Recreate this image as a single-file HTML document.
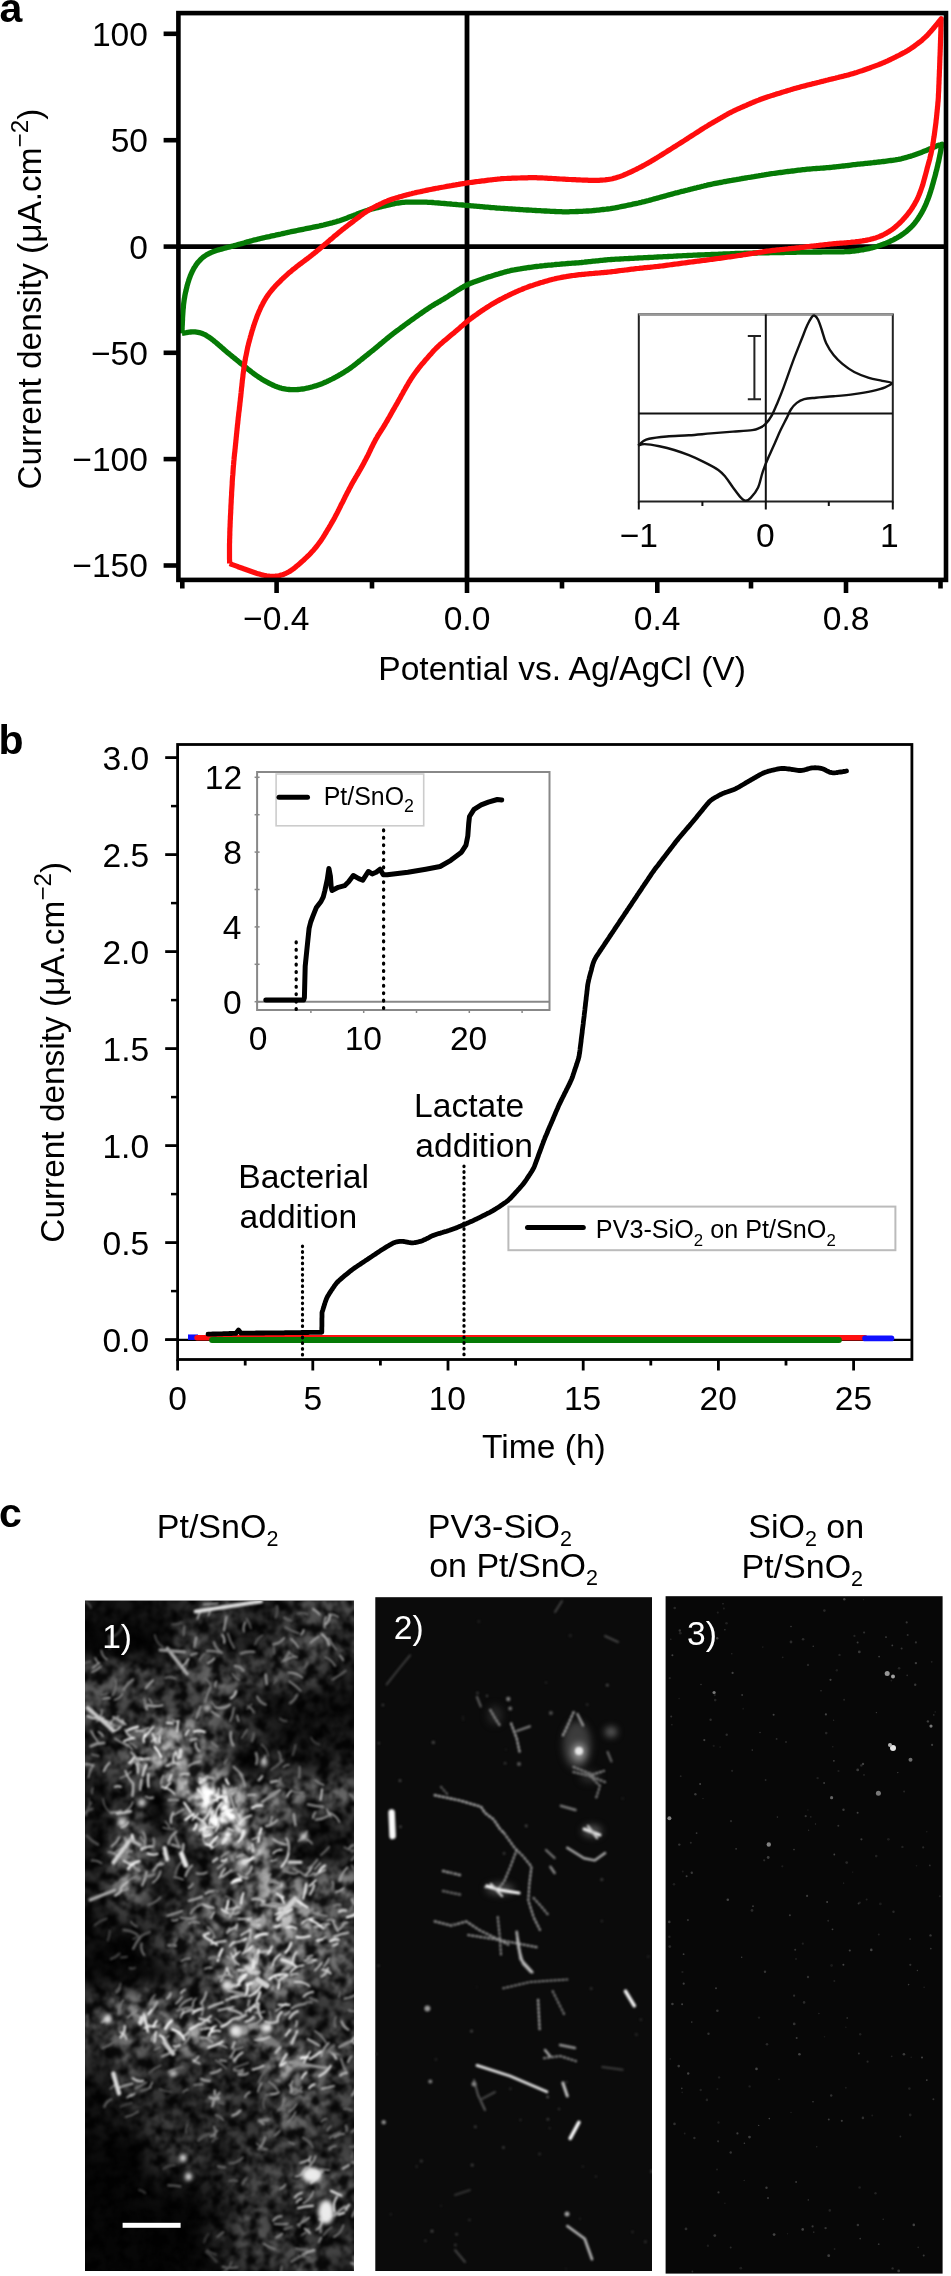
<!DOCTYPE html>
<html><head><meta charset="utf-8"><style>
html,body{margin:0;padding:0;background:#fff;}
body{width:951px;height:2276px;overflow:hidden;position:relative;}
svg{position:absolute;left:0;top:0;display:block;will-change:transform;}
</style></head><body>
<svg width="951" height="2276" viewBox="0 0 951 2276">
<text x="-0.60" y="21.80" font-size="41.0" font-weight="bold" font-family="Liberation Sans, sans-serif">a</text>
<line x1="163.6" y1="33.8" x2="178.4" y2="33.8" stroke="#000" stroke-width="4.6"/>
<text x="91.95" y="45.70" font-size="33.6" font-family="Liberation Sans, sans-serif">100</text>
<line x1="163.6" y1="140.2" x2="178.4" y2="140.2" stroke="#000" stroke-width="4.6"/>
<text x="110.64" y="152.10" font-size="33.6" font-family="Liberation Sans, sans-serif">50</text>
<line x1="163.6" y1="246.6" x2="178.4" y2="246.6" stroke="#000" stroke-width="4.6"/>
<text x="129.33" y="258.50" font-size="33.6" font-family="Liberation Sans, sans-serif">0</text>
<line x1="163.6" y1="352.8" x2="178.4" y2="352.8" stroke="#000" stroke-width="4.6"/>
<text x="91.02" y="364.70" font-size="33.6" font-family="Liberation Sans, sans-serif">−50</text>
<line x1="163.6" y1="459.1" x2="178.4" y2="459.1" stroke="#000" stroke-width="4.6"/>
<text x="72.33" y="471.00" font-size="33.6" font-family="Liberation Sans, sans-serif">−100</text>
<line x1="163.6" y1="565.5" x2="178.4" y2="565.5" stroke="#000" stroke-width="4.6"/>
<text x="72.33" y="577.40" font-size="33.6" font-family="Liberation Sans, sans-serif">−150</text>
<line x1="182.3" y1="579.9" x2="182.3" y2="588.5" stroke="#000" stroke-width="4.6"/>
<line x1="276.6" y1="579.9" x2="276.6" y2="593.0" stroke="#000" stroke-width="4.6"/>
<line x1="372.0" y1="579.9" x2="372.0" y2="588.5" stroke="#000" stroke-width="4.6"/>
<line x1="467.0" y1="579.9" x2="467.0" y2="593.0" stroke="#000" stroke-width="4.6"/>
<line x1="562.0" y1="579.9" x2="562.0" y2="588.5" stroke="#000" stroke-width="4.6"/>
<line x1="657.3" y1="579.9" x2="657.3" y2="593.0" stroke="#000" stroke-width="4.6"/>
<line x1="751.0" y1="579.9" x2="751.0" y2="588.5" stroke="#000" stroke-width="4.6"/>
<line x1="846.0" y1="579.9" x2="846.0" y2="593.0" stroke="#000" stroke-width="4.6"/>
<line x1="940.5" y1="579.9" x2="940.5" y2="588.5" stroke="#000" stroke-width="4.6"/>
<text x="243.10" y="630.30" font-size="33.6" font-family="Liberation Sans, sans-serif">−0.4</text>
<text x="443.65" y="630.30" font-size="33.6" font-family="Liberation Sans, sans-serif">0.0</text>
<text x="633.78" y="630.30" font-size="33.6" font-family="Liberation Sans, sans-serif">0.4</text>
<text x="822.72" y="630.30" font-size="33.6" font-family="Liberation Sans, sans-serif">0.8</text>
<text x="378.24" y="679.70" font-size="33.6" font-family="Liberation Sans, sans-serif">Potential vs. Ag/AgCl (V)</text>
<text transform="translate(41.00,489.58) rotate(-90)" font-size="33.4" font-family="Liberation Sans, sans-serif">Current density (μA.cm<tspan dy="-12.9" font-size="24.3">−2</tspan><tspan dy="12.9">)</tspan></text>
<line x1="178.4" y1="246.6" x2="946.0" y2="246.6" stroke="#000" stroke-width="4.8"/>
<line x1="467.0" y1="13.1" x2="467.0" y2="579.9" stroke="#000" stroke-width="4.8"/>
<rect x="638.8" y="314.4" width="254.0" height="187.1" fill="none" stroke="#222" stroke-width="2"/>
<line x1="638.8" y1="314.4" x2="892.8" y2="314.4" stroke="#999" stroke-width="2"/>
<line x1="638.8" y1="413.6" x2="892.8" y2="413.6" stroke="#111" stroke-width="2"/>
<line x1="765.8" y1="314.4" x2="765.8" y2="501.5" stroke="#111" stroke-width="2"/>
<line x1="638.8" y1="501.5" x2="638.8" y2="509.5" stroke="#111" stroke-width="2"/>
<line x1="702.4" y1="501.5" x2="702.4" y2="506.0" stroke="#111" stroke-width="2"/>
<line x1="765.8" y1="501.5" x2="765.8" y2="509.5" stroke="#111" stroke-width="2"/>
<line x1="828.8" y1="501.5" x2="828.8" y2="506.0" stroke="#111" stroke-width="2"/>
<line x1="892.8" y1="501.5" x2="892.8" y2="509.5" stroke="#111" stroke-width="2"/>
<path d="M754.4,335.9 V399.2 M747.8,335.9 H761 M747.8,399.2 H761" stroke="#222" stroke-width="2" fill="none"/>
<path d="M638.1,445.6C639.0,444.9 641.4,442.4 643.2,441.2C645.0,440.0 645.2,439.5 649.1,438.7C653.0,437.9 660.2,437.1 666.8,436.5C673.4,435.9 681.5,435.8 688.9,435.3C696.3,434.8 703.6,434.0 711.0,433.4C718.4,432.8 726.1,432.2 733.0,431.6C739.9,431.1 747.8,430.7 752.2,430.1C756.6,429.5 757.3,428.9 759.5,427.9C761.7,426.9 763.4,426.3 765.4,424.2C767.4,422.1 769.8,419.1 771.8,415.4C773.8,411.7 775.7,406.9 777.7,402.2C779.7,397.5 781.7,392.6 783.6,387.4C785.5,382.2 787.5,376.6 789.4,371.2C791.3,365.8 793.3,360.2 795.3,355.1C797.3,350.0 799.2,345.2 801.2,340.3C803.2,335.4 805.4,329.4 807.1,325.6C808.8,321.8 810.3,319.2 811.5,317.5C812.7,315.8 813.4,315.2 814.5,315.6C815.6,316.0 816.9,317.3 818.1,319.7C819.3,322.1 820.4,326.1 821.8,330.0C823.1,333.9 824.2,339.1 826.2,343.3C828.2,347.5 830.9,351.7 833.6,355.1C836.3,358.5 839.0,361.1 842.4,363.9C845.8,366.7 849.8,369.7 854.2,372.0C858.6,374.3 864.2,376.4 868.9,377.9C873.6,379.4 878.4,379.9 882.2,380.8C886.0,381.7 891.3,381.9 891.8,383.0C892.3,384.1 888.4,386.0 885.1,387.4C881.8,388.8 877.0,390.0 871.9,391.1C866.8,392.2 860.6,393.2 854.2,394.1C847.8,395.0 840.0,395.7 833.6,396.3C827.2,396.9 820.8,397.2 815.9,397.7C811.0,398.2 807.4,398.3 804.2,399.2C801.0,400.1 799.0,401.2 796.8,402.9C794.6,404.6 792.6,406.9 790.9,409.5C789.2,412.1 788.2,415.0 786.5,418.4C784.8,421.8 782.6,425.9 780.6,430.1C778.6,434.3 776.7,439.0 774.7,443.4C772.7,447.8 770.8,452.0 768.8,456.6C766.8,461.2 764.7,466.2 762.9,471.3C761.1,476.4 760.1,483.1 758.1,487.5C756.1,491.9 752.8,495.6 750.7,497.8C748.6,500.0 747.3,500.9 745.6,500.8C743.9,500.7 742.5,499.3 740.4,497.1C738.3,494.9 735.5,490.8 733.0,487.5C730.5,484.2 728.2,480.1 725.7,477.2C723.2,474.3 722.0,472.5 718.3,469.9C714.6,467.3 708.5,464.2 703.6,461.8C698.7,459.4 693.8,457.2 688.9,455.2C684.0,453.2 679.1,451.5 674.2,450.0C669.3,448.5 664.3,447.3 659.4,446.3C654.5,445.3 648.2,444.2 644.7,444.1C641.2,444.0 639.2,445.4 638.1,445.6" fill="none" stroke="#111" stroke-width="2.4" stroke-linejoin="round"/>
<text x="619.64" y="546.50" font-size="33.6" font-family="Liberation Sans, sans-serif">−1</text>
<text x="756.06" y="546.50" font-size="33.6" font-family="Liberation Sans, sans-serif">0</text>
<text x="879.95" y="546.50" font-size="33.6" font-family="Liberation Sans, sans-serif">1</text>
<path d="M181.9,333.4 182.0,331.9 182.0,330.4 182.1,328.9 182.1,327.4 182.2,325.9 182.3,324.4 182.3,322.9 182.4,321.4 182.5,319.9 182.5,318.4 182.6,316.9 182.7,315.4 182.8,313.9 182.9,312.4 183.0,310.9 183.1,309.4 183.3,307.9 183.4,306.4 183.5,305.0 183.7,303.5 183.9,302.0 184.1,300.5 184.3,299.0 184.6,297.5 184.8,296.1 185.1,294.6 185.4,293.1 185.7,291.7 186.1,290.2 186.4,288.7 186.8,287.3 187.1,285.8 187.5,284.4 187.9,283.0 188.4,281.5 188.8,280.1 189.3,278.7 189.8,277.3 190.3,275.9 190.9,274.5 191.5,273.1 192.1,271.8 192.8,270.4 193.5,269.1 194.2,267.8 195.0,266.6 195.8,265.3 196.6,264.1 197.5,262.9 198.5,261.8 199.5,260.7 200.5,259.6 201.5,258.6 202.6,257.6 203.8,256.7 205.0,255.9 206.2,255.1 207.5,254.3 208.8,253.6 210.1,253.0 211.5,252.4 212.9,251.8 214.3,251.3 215.7,250.8 217.1,250.3 218.5,249.9 220.0,249.5 221.4,249.1 222.9,248.7 224.3,248.3 225.8,247.9 227.2,247.5 228.7,247.1 230.1,246.8 231.5,246.4 233.0,246.0 234.4,245.6 235.9,245.2 237.3,244.8 238.8,244.4 240.2,244.0 241.7,243.6 243.1,243.2 244.6,242.8 246.0,242.3 247.4,241.9 248.9,241.5 250.3,241.1 251.8,240.7 253.2,240.3 254.7,239.9 256.1,239.6 257.6,239.2 259.0,238.9 260.5,238.5 262.0,238.2 263.4,237.8 264.9,237.5 266.3,237.2 267.8,236.9 269.3,236.6 270.7,236.2 272.2,235.9 273.7,235.6 275.1,235.3 276.6,234.9 278.1,234.6 279.5,234.3 281.0,234.0 282.5,233.6 283.9,233.3 285.4,233.0 286.9,232.7 288.3,232.3 289.8,232.0 291.2,231.7 292.7,231.4 294.2,231.1 295.6,230.8 297.1,230.5 298.6,230.2 300.1,229.9 301.5,229.6 303.0,229.3 304.5,229.0 305.9,228.7 307.4,228.4 308.9,228.1 310.4,227.8 311.8,227.5 313.3,227.2 314.8,226.9 316.2,226.6 317.7,226.3 319.2,226.0 320.6,225.6 322.1,225.3 323.5,225.0 325.0,224.6 326.5,224.2 327.9,223.9 329.4,223.5 330.8,223.1 332.3,222.8 333.7,222.4 335.2,222.0 336.6,221.6 338.0,221.1 339.5,220.7 340.9,220.2 342.3,219.7 343.7,219.2 345.1,218.7 346.5,218.2 347.9,217.6 349.3,217.1 350.7,216.6 352.1,216.0 353.5,215.5 354.9,214.9 356.3,214.4 357.7,213.8 359.1,213.3 360.5,212.7 361.9,212.2 363.3,211.7 364.7,211.2 366.1,210.7 367.6,210.3 369.0,209.8 370.4,209.4 371.9,209.0 373.3,208.6 374.8,208.3 376.2,207.9 377.7,207.6 379.2,207.2 380.6,206.9 382.1,206.5 383.5,206.2 385.0,205.8 386.5,205.5 387.9,205.2 389.4,204.8 390.8,204.5 392.3,204.2 393.8,203.8 395.2,203.5 396.7,203.2 398.2,203.0 399.6,202.8 401.1,202.6 402.6,202.4 404.1,202.3 405.6,202.2 407.1,202.2 408.6,202.1 410.1,202.1 411.6,202.1 413.1,202.1 414.6,202.1 416.1,202.1 417.6,202.1 419.1,202.1 420.6,202.1 422.1,202.1 423.6,202.2 425.1,202.2 426.6,202.2 428.0,202.3 429.5,202.4 431.0,202.4 432.5,202.5 434.0,202.7 435.5,202.8 437.0,202.9 438.5,203.0 440.0,203.1 441.5,203.3 443.0,203.4 444.5,203.5 446.0,203.6 447.5,203.8 449.0,203.9 450.5,204.0 452.0,204.2 453.5,204.3 455.0,204.4 456.5,204.5 457.9,204.7 459.4,204.8 460.9,204.9 462.4,205.0 463.9,205.2 465.4,205.3 466.9,205.4 468.4,205.6 469.9,205.7 471.4,205.8 472.9,205.9 474.4,206.1 475.9,206.2 477.4,206.3 478.9,206.4 480.4,206.6 481.9,206.7 483.4,206.8 484.9,207.0 486.3,207.1 487.8,207.2 489.3,207.3 490.8,207.5 492.3,207.6 493.8,207.7 495.3,207.8 496.8,208.0 498.3,208.1 499.8,208.2 501.3,208.3 502.8,208.4 504.3,208.5 505.8,208.6 507.3,208.7 508.8,208.8 510.3,208.9 511.8,209.0 513.3,209.1 514.8,209.2 516.3,209.3 517.8,209.4 519.3,209.5 520.8,209.6 522.3,209.7 523.7,209.8 525.2,209.9 526.7,210.0 528.2,210.0 529.7,210.1 531.2,210.2 532.7,210.3 534.2,210.4 535.7,210.5 537.2,210.6 538.7,210.7 540.2,210.7 541.7,210.8 543.2,210.9 544.7,211.0 546.2,211.0 547.7,211.1 549.2,211.2 550.7,211.3 552.2,211.3 553.7,211.4 555.2,211.5 556.7,211.6 558.2,211.6 559.7,211.7 561.2,211.7 562.7,211.8 564.2,211.8 565.7,211.8 567.2,211.8 568.7,211.8 570.2,211.7 571.7,211.7 573.2,211.6 574.7,211.6 576.2,211.5 577.7,211.5 579.2,211.4 580.7,211.3 582.2,211.3 583.7,211.2 585.2,211.1 586.7,211.0 588.2,211.0 589.7,210.9 591.2,210.8 592.7,210.6 594.1,210.5 595.6,210.4 597.1,210.2 598.6,210.1 600.1,209.9 601.6,209.7 603.1,209.5 604.6,209.3 606.1,209.2 607.6,209.0 609.0,208.8 610.5,208.6 612.0,208.3 613.5,208.1 615.0,207.9 616.4,207.6 617.9,207.3 619.4,207.0 620.9,206.7 622.3,206.4 623.8,206.1 625.3,205.8 626.7,205.5 628.2,205.2 629.7,204.9 631.1,204.6 632.6,204.2 634.1,203.9 635.5,203.6 637.0,203.3 638.4,203.0 639.9,202.6 641.4,202.3 642.8,201.9 644.3,201.6 645.7,201.2 647.2,200.8 648.6,200.5 650.1,200.1 651.5,199.7 653.0,199.3 654.4,198.9 655.9,198.5 657.3,198.1 658.8,197.7 660.2,197.3 661.7,196.9 663.1,196.5 664.6,196.1 666.0,195.7 667.4,195.3 668.9,194.9 670.3,194.5 671.8,194.1 673.2,193.7 674.7,193.3 676.1,192.9 677.6,192.6 679.0,192.2 680.5,191.8 681.9,191.4 683.4,191.1 684.8,190.7 686.3,190.3 687.8,190.0 689.2,189.6 690.7,189.2 692.1,188.9 693.6,188.5 695.0,188.1 696.5,187.8 697.9,187.4 699.4,187.1 700.9,186.7 702.3,186.3 703.8,186.0 705.2,185.6 706.7,185.3 708.1,184.9 709.6,184.6 711.1,184.3 712.5,184.0 714.0,183.7 715.5,183.4 717.0,183.1 718.4,182.8 719.9,182.5 721.4,182.3 722.8,182.0 724.3,181.7 725.8,181.5 727.3,181.2 728.8,180.9 730.2,180.6 731.7,180.4 733.2,180.1 734.7,179.8 736.1,179.6 737.6,179.3 739.1,179.1 740.6,178.8 742.0,178.5 743.5,178.3 745.0,178.0 746.5,177.8 748.0,177.5 749.4,177.3 750.9,177.1 752.4,176.8 753.9,176.6 755.4,176.3 756.8,176.1 758.3,175.9 759.8,175.6 761.3,175.4 762.8,175.1 764.2,174.9 765.7,174.6 767.2,174.4 768.7,174.2 770.2,173.9 771.7,173.7 773.1,173.5 774.6,173.3 776.1,173.1 777.6,172.9 779.1,172.7 780.6,172.5 782.1,172.3 783.5,172.1 785.0,171.9 786.5,171.7 788.0,171.5 789.5,171.4 791.0,171.2 792.5,171.0 794.0,170.8 795.4,170.6 796.9,170.4 798.4,170.2 799.9,170.1 801.4,169.9 802.9,169.7 804.4,169.6 805.9,169.4 807.4,169.2 808.9,169.1 810.4,169.0 811.8,168.8 813.3,168.7 814.8,168.6 816.3,168.5 817.8,168.4 819.3,168.3 820.8,168.2 822.3,168.1 823.8,168.0 825.3,167.9 826.8,167.7 828.3,167.6 829.8,167.5 831.3,167.4 832.8,167.2 834.3,167.0 835.8,166.9 837.3,166.7 838.7,166.5 840.2,166.4 841.7,166.2 843.2,166.0 844.7,165.8 846.2,165.6 847.7,165.5 849.2,165.3 850.7,165.1 852.1,164.9 853.6,164.7 855.1,164.6 856.6,164.4 858.1,164.2 859.6,164.1 861.1,163.9 862.6,163.8 864.1,163.6 865.6,163.4 867.1,163.3 868.5,163.1 870.0,163.0 871.5,162.8 873.0,162.7 874.5,162.5 876.0,162.4 877.5,162.2 879.0,162.0 880.5,161.9 882.0,161.7 883.5,161.5 884.9,161.3 886.4,161.1 887.9,160.9 889.4,160.7 890.9,160.5 892.4,160.3 893.9,160.1 895.3,159.9 896.8,159.6 898.3,159.4 899.8,159.1 901.2,158.8 902.7,158.4 904.1,158.0 905.6,157.6 907.0,157.2 908.4,156.8 909.9,156.4 911.3,155.9 912.7,155.5 914.2,155.0 915.6,154.5 917.0,154.0 918.4,153.5 919.8,153.0 921.2,152.5 922.6,151.9 924.0,151.3 925.4,150.8 926.8,150.2 928.1,149.6 929.5,149.0 930.9,148.4 932.2,147.8 933.6,147.2 935.0,146.7 936.4,146.1 937.8,145.6 939.2,145.1 940.6,144.7 942.0,144.2 941.7,145.7 941.4,147.1 941.1,148.6 940.9,150.1 940.6,151.6 940.3,153.0 940.0,154.5 939.7,156.0 939.4,157.5 939.1,158.9 938.8,160.4 938.5,161.9 938.1,163.3 937.8,164.8 937.5,166.2 937.1,167.7 936.8,169.2 936.4,170.6 936.0,172.1 935.7,173.5 935.3,175.0 934.9,176.4 934.5,177.9 934.1,179.3 933.7,180.8 933.3,182.2 932.9,183.7 932.5,185.1 932.1,186.5 931.7,188.0 931.2,189.4 930.8,190.9 930.3,192.3 929.9,193.7 929.4,195.1 928.9,196.5 928.4,198.0 927.9,199.4 927.3,200.7 926.7,202.1 926.2,203.5 925.6,204.9 925.0,206.3 924.3,207.6 923.7,209.0 923.0,210.3 922.3,211.6 921.6,212.9 920.8,214.2 920.0,215.5 919.2,216.7 918.4,218.0 917.6,219.2 916.7,220.5 915.8,221.7 914.9,222.9 914.0,224.0 913.0,225.1 912.0,226.2 911.0,227.3 909.9,228.3 908.8,229.3 907.7,230.3 906.6,231.3 905.4,232.2 904.2,233.1 903.0,234.0 901.8,234.8 900.5,235.7 899.3,236.5 898.0,237.2 896.7,238.0 895.4,238.7 894.1,239.4 892.7,240.1 891.4,240.7 890.0,241.4 888.7,242.0 887.3,242.6 885.9,243.2 884.5,243.7 883.1,244.3 881.7,244.8 880.3,245.3 878.9,245.7 877.5,246.2 876.0,246.6 874.6,247.1 873.2,247.5 871.7,247.9 870.3,248.2 868.8,248.6 867.3,248.9 865.9,249.2 864.4,249.5 862.9,249.8 861.5,250.0 860.0,250.2 858.5,250.5 857.0,250.7 855.5,250.9 854.0,251.1 852.6,251.2 851.1,251.4 849.6,251.5 848.1,251.6 846.6,251.7 845.1,251.7 843.6,251.8 842.1,251.8 840.6,251.8 839.1,251.8 837.6,251.8 836.1,251.8 834.6,251.8 833.1,251.8 831.6,251.8 830.1,251.9 828.6,251.9 827.1,251.9 825.6,251.9 824.1,251.9 822.6,251.9 821.1,252.0 819.6,252.0 818.1,252.0 816.6,252.0 815.1,252.0 813.6,252.0 812.1,252.1 810.6,252.1 809.1,252.1 807.6,252.1 806.1,252.1 804.6,252.1 803.1,252.2 801.6,252.2 800.1,252.2 798.6,252.2 797.1,252.2 795.6,252.3 794.1,252.3 792.6,252.3 791.1,252.3 789.6,252.4 788.1,252.4 786.6,252.4 785.1,252.4 783.6,252.5 782.1,252.5 780.6,252.5 779.1,252.6 777.6,252.6 776.1,252.6 774.6,252.6 773.1,252.7 771.6,252.7 770.1,252.7 768.6,252.8 767.1,252.8 765.6,252.8 764.1,252.8 762.6,252.9 761.1,252.9 759.6,252.9 758.1,252.9 756.6,253.0 755.1,253.0 753.6,253.0 752.1,253.1 750.6,253.1 749.1,253.1 747.6,253.2 746.1,253.2 744.6,253.2 743.1,253.3 741.6,253.3 740.1,253.4 738.6,253.4 737.1,253.5 735.6,253.5 734.1,253.6 732.6,253.7 731.1,253.7 729.6,253.8 728.1,253.8 726.6,253.9 725.1,254.0 723.6,254.0 722.1,254.1 720.6,254.1 719.1,254.2 717.6,254.3 716.1,254.3 714.6,254.4 713.1,254.4 711.6,254.5 710.1,254.6 708.6,254.6 707.1,254.7 705.6,254.7 704.1,254.8 702.6,254.9 701.1,254.9 699.6,255.0 698.1,255.0 696.6,255.1 695.1,255.2 693.6,255.2 692.1,255.3 690.6,255.4 689.1,255.4 687.6,255.5 686.1,255.6 684.6,255.6 683.1,255.7 681.6,255.8 680.1,255.9 678.6,255.9 677.1,256.0 675.6,256.1 674.1,256.2 672.6,256.3 671.1,256.3 669.6,256.4 668.1,256.5 666.6,256.6 665.1,256.6 663.6,256.7 662.1,256.8 660.6,256.9 659.1,256.9 657.6,257.0 656.1,257.1 654.6,257.2 653.1,257.3 651.6,257.3 650.1,257.4 648.6,257.5 647.1,257.6 645.6,257.6 644.1,257.7 642.6,257.8 641.1,257.9 639.6,257.9 638.1,258.0 636.6,258.1 635.1,258.2 633.6,258.3 632.1,258.3 630.6,258.4 629.1,258.5 627.6,258.6 626.1,258.7 624.6,258.7 623.1,258.8 621.6,258.9 620.1,259.0 618.6,259.1 617.1,259.2 615.6,259.2 614.1,259.3 612.7,259.4 611.2,259.5 609.7,259.6 608.2,259.7 606.7,259.9 605.2,260.0 603.7,260.1 602.2,260.3 600.7,260.4 599.2,260.6 597.7,260.8 596.2,260.9 594.7,261.1 593.2,261.2 591.7,261.4 590.2,261.6 588.8,261.7 587.3,261.9 585.8,262.0 584.3,262.2 582.8,262.3 581.3,262.5 579.8,262.6 578.3,262.8 576.8,262.9 575.3,263.0 573.8,263.1 572.3,263.2 570.8,263.3 569.3,263.4 567.8,263.5 566.3,263.6 564.8,263.8 563.3,263.9 561.8,264.0 560.4,264.1 558.9,264.3 557.4,264.4 555.9,264.5 554.4,264.7 552.9,264.8 551.4,265.0 549.9,265.1 548.4,265.2 546.9,265.4 545.4,265.5 543.9,265.7 542.4,265.8 540.9,266.0 539.4,266.2 538.0,266.3 536.5,266.5 535.0,266.7 533.5,266.9 532.0,267.1 530.5,267.3 529.0,267.5 527.5,267.7 526.1,268.0 524.6,268.2 523.1,268.4 521.6,268.6 520.1,268.9 518.6,269.1 517.2,269.3 515.7,269.6 514.2,269.9 512.7,270.1 511.3,270.4 509.8,270.8 508.4,271.1 506.9,271.5 505.5,271.9 504.0,272.3 502.6,272.7 501.1,273.1 499.7,273.5 498.3,274.0 496.8,274.4 495.4,274.8 494.0,275.3 492.5,275.7 491.1,276.2 489.6,276.6 488.2,277.0 486.8,277.5 485.4,278.0 483.9,278.4 482.5,278.9 481.1,279.4 479.7,279.9 478.3,280.4 476.9,280.9 475.4,281.4 474.0,281.9 472.6,282.5 471.3,283.0 469.9,283.6 468.5,284.2 467.2,284.9 465.8,285.5 464.5,286.2 463.2,286.9 461.9,287.7 460.6,288.4 459.3,289.2 458.0,290.0 456.7,290.8 455.5,291.5 454.2,292.4 452.9,293.2 451.7,294.0 450.4,294.8 449.1,295.6 447.9,296.4 446.6,297.2 445.3,298.0 444.1,298.8 442.8,299.5 441.5,300.3 440.2,301.1 438.9,301.8 437.6,302.6 436.3,303.3 435.0,304.1 433.7,304.9 432.4,305.6 431.2,306.4 429.9,307.3 428.7,308.1 427.4,308.9 426.2,309.8 424.9,310.6 423.7,311.5 422.5,312.3 421.2,313.2 420.0,314.0 418.8,314.9 417.6,315.7 416.3,316.6 415.1,317.5 413.9,318.4 412.7,319.2 411.4,320.1 410.2,321.0 409.0,321.9 407.8,322.8 406.6,323.6 405.4,324.5 404.2,325.4 403.0,326.3 401.8,327.2 400.6,328.1 399.4,329.0 398.2,329.9 396.9,330.8 395.7,331.7 394.5,332.6 393.3,333.5 392.2,334.4 391.0,335.3 389.8,336.3 388.6,337.2 387.5,338.2 386.3,339.1 385.2,340.1 384.0,341.0 382.9,342.0 381.7,343.0 380.6,343.9 379.4,344.9 378.3,345.9 377.1,346.8 376.0,347.8 374.8,348.7 373.6,349.7 372.5,350.6 371.3,351.5 370.1,352.5 369.0,353.4 367.8,354.4 366.6,355.3 365.4,356.2 364.3,357.2 363.1,358.1 361.9,359.1 360.8,360.0 359.6,360.9 358.4,361.9 357.2,362.8 356.1,363.7 354.9,364.7 353.7,365.6 352.5,366.5 351.3,367.4 350.1,368.3 348.9,369.1 347.6,370.0 346.4,370.8 345.1,371.6 343.8,372.4 342.6,373.2 341.3,373.9 340.0,374.7 338.7,375.4 337.4,376.2 336.1,376.9 334.7,377.6 333.4,378.3 332.1,379.0 330.7,379.7 329.4,380.3 328.0,381.0 326.7,381.6 325.3,382.2 323.9,382.8 322.6,383.4 321.2,383.9 319.8,384.4 318.3,384.9 316.9,385.4 315.5,385.9 314.1,386.3 312.6,386.8 311.2,387.2 309.8,387.5 308.3,387.9 306.8,388.2 305.4,388.5 303.9,388.8 302.4,389.0 300.9,389.2 299.5,389.4 298.0,389.5 296.5,389.6 295.0,389.7 293.5,389.7 292.0,389.7 290.5,389.7 289.0,389.5 287.6,389.4 286.1,389.2 284.6,388.9 283.2,388.6 281.7,388.3 280.3,387.9 278.9,387.4 277.5,387.0 276.1,386.4 274.7,385.9 273.3,385.3 272.0,384.6 270.6,384.0 269.3,383.3 268.0,382.6 266.6,381.9 265.3,381.2 264.0,380.4 262.8,379.7 261.5,378.9 260.2,378.1 258.9,377.3 257.7,376.4 256.5,375.6 255.2,374.7 254.0,373.8 252.8,372.9 251.6,372.0 250.5,371.1 249.3,370.2 248.1,369.3 246.9,368.3 245.8,367.4 244.6,366.4 243.4,365.5 242.3,364.5 241.1,363.6 239.9,362.6 238.8,361.7 237.6,360.7 236.4,359.8 235.3,358.9 234.1,357.9 232.9,357.0 231.8,356.0 230.6,355.1 229.5,354.1 228.3,353.2 227.1,352.2 226.0,351.3 224.8,350.3 223.7,349.3 222.6,348.3 221.4,347.3 220.3,346.3 219.2,345.4 218.1,344.4 216.9,343.4 215.8,342.4 214.6,341.5 213.5,340.5 212.3,339.6 211.1,338.7 209.9,337.8 208.7,337.0 207.4,336.2 206.2,335.4 204.9,334.7 203.6,334.1 202.2,333.5 200.8,333.0 199.4,332.6 198.0,332.3 196.6,332.1 195.1,331.9 193.7,331.9 192.2,331.9 190.7,332.0 189.3,332.1 187.8,332.3 186.3,332.6 184.8,332.8 183.4,333.1 181.9,333.4" fill="none" stroke="#057a05" stroke-width="5.3" stroke-linejoin="round"/>
<path d="M229.6,563.5 229.6,562.0 229.6,560.5 229.5,559.0 229.5,557.5 229.5,556.0 229.5,554.5 229.5,553.0 229.5,551.5 229.5,550.0 229.5,548.5 229.5,547.0 229.5,545.5 229.5,544.0 229.6,542.5 229.6,541.0 229.6,539.5 229.7,538.0 229.7,536.5 229.8,535.0 229.8,533.5 229.8,532.0 229.9,530.5 229.9,529.0 230.0,527.5 230.1,526.0 230.1,524.5 230.2,523.0 230.2,521.5 230.3,520.0 230.4,518.5 230.4,517.0 230.5,515.5 230.6,514.0 230.7,512.5 230.7,511.0 230.8,509.5 230.9,508.0 230.9,506.5 231.0,505.0 231.1,503.5 231.2,502.0 231.2,500.5 231.3,499.0 231.4,497.5 231.5,496.0 231.6,494.5 231.6,493.0 231.7,491.5 231.8,490.0 231.9,488.5 232.0,487.0 232.1,485.5 232.2,484.0 232.2,482.5 232.3,481.0 232.4,479.5 232.5,478.0 232.6,476.5 232.8,475.0 232.9,473.5 233.0,472.0 233.1,470.5 233.2,469.0 233.3,467.5 233.4,466.0 233.6,464.5 233.7,463.0 233.8,461.5 234.0,460.0 234.1,458.5 234.2,457.0 234.4,455.6 234.5,454.1 234.7,452.6 234.9,451.1 235.0,449.6 235.2,448.1 235.3,446.6 235.5,445.1 235.6,443.6 235.8,442.1 235.9,440.6 236.1,439.1 236.2,437.6 236.4,436.1 236.5,434.6 236.7,433.1 236.8,431.7 237.0,430.2 237.1,428.7 237.3,427.2 237.4,425.7 237.6,424.2 237.8,422.7 237.9,421.2 238.1,419.7 238.2,418.2 238.4,416.7 238.6,415.2 238.7,413.7 238.9,412.2 239.1,410.8 239.3,409.3 239.4,407.8 239.6,406.3 239.8,404.8 239.9,403.3 240.1,401.8 240.3,400.3 240.4,398.8 240.6,397.3 240.8,395.8 240.9,394.3 241.1,392.8 241.2,391.4 241.4,389.9 241.5,388.4 241.7,386.9 241.9,385.4 242.0,383.9 242.2,382.4 242.3,380.9 242.5,379.4 242.7,377.9 242.9,376.4 243.0,374.9 243.2,373.5 243.4,372.0 243.6,370.5 243.8,369.0 244.0,367.5 244.2,366.0 244.4,364.5 244.7,363.0 244.9,361.6 245.2,360.1 245.4,358.6 245.7,357.1 246.0,355.7 246.3,354.2 246.6,352.7 246.9,351.2 247.2,349.8 247.5,348.3 247.8,346.8 248.2,345.4 248.5,343.9 248.9,342.5 249.3,341.0 249.7,339.6 250.1,338.1 250.4,336.7 250.9,335.2 251.3,333.8 251.7,332.3 252.1,330.9 252.6,329.5 253.0,328.0 253.5,326.6 253.9,325.2 254.4,323.8 254.9,322.3 255.4,320.9 255.9,319.5 256.4,318.1 256.9,316.7 257.4,315.3 258.0,313.9 258.6,312.5 259.2,311.1 259.8,309.8 260.4,308.4 261.0,307.0 261.7,305.7 262.4,304.4 263.1,303.0 263.8,301.7 264.5,300.4 265.3,299.2 266.1,297.9 266.9,296.6 267.8,295.4 268.6,294.2 269.5,293.0 270.4,291.8 271.4,290.6 272.3,289.5 273.3,288.3 274.3,287.2 275.3,286.1 276.3,285.0 277.4,283.9 278.4,282.9 279.5,281.8 280.5,280.8 281.6,279.7 282.7,278.7 283.8,277.6 284.9,276.6 286.0,275.6 287.1,274.6 288.2,273.6 289.4,272.6 290.5,271.7 291.7,270.7 292.8,269.7 294.0,268.8 295.1,267.9 296.3,266.9 297.5,266.0 298.7,265.1 299.9,264.2 301.1,263.3 302.3,262.4 303.5,261.5 304.7,260.6 305.9,259.7 307.1,258.8 308.3,257.9 309.5,257.0 310.7,256.0 311.9,255.1 313.0,254.2 314.2,253.3 315.4,252.3 316.6,251.4 317.7,250.4 318.9,249.5 320.0,248.5 321.2,247.5 322.3,246.6 323.5,245.6 324.6,244.6 325.7,243.7 326.9,242.7 328.0,241.7 329.2,240.7 330.3,239.7 331.5,238.8 332.6,237.8 333.7,236.8 334.9,235.8 336.0,234.9 337.2,233.9 338.3,233.0 339.5,232.0 340.7,231.1 341.8,230.1 343.0,229.2 344.2,228.3 345.4,227.3 346.6,226.4 347.7,225.5 348.9,224.6 350.1,223.7 351.3,222.8 352.5,221.9 353.7,220.9 354.9,220.0 356.1,219.1 357.3,218.2 358.5,217.3 359.7,216.4 360.9,215.5 362.1,214.6 363.3,213.7 364.5,212.9 365.8,212.0 367.0,211.2 368.3,210.4 369.6,209.7 370.9,208.9 372.2,208.2 373.5,207.5 374.8,206.8 376.2,206.1 377.5,205.4 378.8,204.8 380.2,204.1 381.5,203.5 382.9,202.8 384.3,202.2 385.6,201.6 387.0,201.1 388.4,200.5 389.8,200.0 391.2,199.5 392.6,199.0 394.1,198.6 395.5,198.1 396.9,197.7 398.4,197.3 399.8,196.8 401.3,196.4 402.7,196.0 404.2,195.6 405.6,195.2 407.0,194.8 408.5,194.4 409.9,194.0 411.4,193.7 412.9,193.3 414.3,193.0 415.8,192.6 417.2,192.3 418.7,192.0 420.2,191.7 421.6,191.4 423.1,191.0 424.6,190.7 426.1,190.4 427.5,190.1 429.0,189.8 430.5,189.5 431.9,189.2 433.4,188.9 434.9,188.6 436.4,188.3 437.8,188.1 439.3,187.8 440.8,187.5 442.3,187.2 443.7,187.0 445.2,186.7 446.7,186.4 448.2,186.2 449.7,185.9 451.1,185.7 452.6,185.4 454.1,185.1 455.6,184.9 457.0,184.6 458.5,184.4 460.0,184.1 461.5,183.8 463.0,183.6 464.4,183.4 465.9,183.1 467.4,182.9 468.9,182.7 470.4,182.5 471.9,182.3 473.4,182.1 474.8,181.9 476.3,181.7 477.8,181.5 479.3,181.3 480.8,181.1 482.3,180.9 483.8,180.8 485.3,180.6 486.8,180.4 488.3,180.2 489.7,180.0 491.2,179.8 492.7,179.7 494.2,179.5 495.7,179.3 497.2,179.2 498.7,179.0 500.2,178.9 501.7,178.7 503.2,178.6 504.7,178.5 506.2,178.5 507.7,178.4 509.2,178.3 510.7,178.3 512.2,178.2 513.7,178.2 515.2,178.1 516.7,178.1 518.2,178.0 519.7,178.0 521.2,177.9 522.7,177.9 524.2,177.8 525.7,177.8 527.2,177.8 528.7,177.7 530.2,177.7 531.7,177.7 533.2,177.7 534.7,177.7 536.2,177.7 537.7,177.8 539.2,177.8 540.7,177.9 542.2,177.9 543.7,178.0 545.2,178.1 546.7,178.2 548.2,178.3 549.7,178.3 551.2,178.4 552.7,178.5 554.2,178.6 555.7,178.7 557.2,178.8 558.7,178.9 560.2,179.0 561.7,179.0 563.2,179.1 564.7,179.2 566.2,179.3 567.7,179.4 569.2,179.5 570.7,179.5 572.2,179.6 573.7,179.7 575.2,179.7 576.7,179.8 578.2,179.9 579.7,179.9 581.2,180.0 582.7,180.1 584.2,180.1 585.7,180.2 587.2,180.2 588.7,180.3 590.2,180.3 591.7,180.3 593.2,180.4 594.7,180.4 596.2,180.4 597.7,180.3 599.1,180.3 600.6,180.2 602.1,180.1 603.6,180.0 605.1,179.9 606.6,179.7 608.1,179.5 609.6,179.2 611.0,179.0 612.5,178.7 613.9,178.3 615.4,177.9 616.8,177.5 618.2,177.1 619.7,176.6 621.1,176.1 622.5,175.6 623.8,175.0 625.2,174.4 626.6,173.8 628.0,173.2 629.3,172.6 630.7,172.0 632.1,171.3 633.4,170.7 634.8,170.0 636.1,169.4 637.4,168.7 638.8,168.0 640.1,167.3 641.5,166.6 642.8,165.9 644.1,165.2 645.4,164.5 646.7,163.8 648.0,163.1 649.3,162.3 650.6,161.6 651.9,160.8 653.2,160.0 654.5,159.2 655.8,158.4 657.1,157.7 658.3,156.9 659.6,156.1 660.9,155.3 662.2,154.5 663.4,153.7 664.7,152.9 666.0,152.1 667.2,151.3 668.5,150.5 669.8,149.7 671.1,148.9 672.3,148.1 673.6,147.3 674.9,146.5 676.2,145.7 677.4,144.9 678.7,144.1 680.0,143.3 681.2,142.5 682.5,141.7 683.8,140.9 685.0,140.1 686.3,139.3 687.5,138.5 688.8,137.6 690.1,136.8 691.3,136.0 692.6,135.2 693.9,134.4 695.1,133.6 696.4,132.8 697.6,132.0 698.9,131.2 700.2,130.3 701.4,129.5 702.7,128.7 704.0,127.9 705.3,127.1 706.5,126.4 707.8,125.6 709.1,124.8 710.4,124.0 711.7,123.3 713.0,122.5 714.3,121.7 715.6,121.0 716.9,120.2 718.2,119.5 719.5,118.7 720.8,118.0 722.1,117.2 723.4,116.5 724.7,115.7 726.0,115.0 727.3,114.3 728.6,113.5 729.9,112.8 731.3,112.1 732.6,111.5 733.9,110.8 735.3,110.2 736.7,109.5 738.0,108.9 739.4,108.3 740.8,107.7 742.1,107.1 743.5,106.5 744.9,105.9 746.3,105.3 747.6,104.7 749.0,104.1 750.4,103.5 751.8,102.9 753.2,102.3 754.5,101.8 755.9,101.2 757.3,100.6 758.7,100.1 760.1,99.5 761.5,99.0 762.9,98.5 764.3,98.0 765.8,97.5 767.2,97.0 768.6,96.6 770.0,96.1 771.5,95.6 772.9,95.2 774.3,94.7 775.8,94.3 777.2,93.8 778.6,93.4 780.1,93.0 781.5,92.5 782.9,92.1 784.4,91.6 785.8,91.2 787.2,90.7 788.7,90.3 790.1,89.9 791.5,89.4 793.0,89.0 794.4,88.6 795.9,88.2 797.3,87.8 798.8,87.4 800.2,87.0 801.7,86.6 803.1,86.2 804.6,85.9 806.0,85.5 807.5,85.1 808.9,84.7 810.4,84.4 811.9,84.0 813.3,83.6 814.8,83.3 816.2,82.9 817.7,82.5 819.1,82.2 820.6,81.8 822.0,81.4 823.5,81.1 825.0,80.7 826.4,80.3 827.9,80.0 829.3,79.6 830.8,79.2 832.2,78.9 833.7,78.5 835.2,78.2 836.6,77.8 838.1,77.5 839.5,77.1 841.0,76.7 842.4,76.4 843.9,76.0 845.4,75.6 846.8,75.3 848.3,74.9 849.7,74.5 851.2,74.1 852.6,73.7 854.0,73.3 855.5,72.8 856.9,72.4 858.3,71.9 859.7,71.4 861.2,70.9 862.6,70.5 864.0,70.0 865.4,69.5 866.8,69.0 868.2,68.5 869.7,68.0 871.1,67.4 872.5,66.9 873.9,66.4 875.3,65.9 876.7,65.4 878.1,64.9 879.5,64.3 880.9,63.8 882.3,63.2 883.7,62.6 885.1,62.0 886.4,61.4 887.8,60.8 889.1,60.1 890.5,59.5 891.8,58.8 893.2,58.2 894.5,57.5 895.9,56.8 897.2,56.1 898.5,55.5 899.9,54.8 901.2,54.1 902.5,53.4 903.9,52.7 905.2,52.0 906.5,51.2 907.8,50.5 909.0,49.7 910.3,48.9 911.5,48.0 912.8,47.2 914.0,46.3 915.2,45.4 916.4,44.5 917.6,43.6 918.8,42.7 920.0,41.8 921.1,40.9 922.3,39.9 923.4,38.9 924.5,37.9 925.6,36.9 926.7,35.8 927.7,34.8 928.7,33.7 929.7,32.6 930.7,31.5 931.7,30.3 932.7,29.2 933.7,28.0 934.6,26.9 935.6,25.7 936.5,24.6 937.5,23.4 938.4,22.2 939.3,21.1 940.3,19.9 941.2,18.7 941.2,20.2 941.1,21.7 941.1,23.2 941.0,24.7 941.0,26.2 940.9,27.7 940.9,29.2 940.9,30.7 940.8,32.2 940.8,33.7 940.7,35.2 940.7,36.7 940.6,38.2 940.6,39.7 940.5,41.2 940.5,42.7 940.4,44.2 940.4,45.7 940.3,47.2 940.3,48.7 940.2,50.2 940.2,51.7 940.1,53.2 940.1,54.7 940.0,56.2 939.9,57.7 939.9,59.2 939.8,60.7 939.8,62.2 939.7,63.7 939.7,65.2 939.6,66.7 939.6,68.2 939.5,69.7 939.4,71.2 939.4,72.7 939.3,74.2 939.3,75.7 939.2,77.2 939.1,78.7 939.1,80.2 939.0,81.7 939.0,83.2 938.9,84.7 938.8,86.2 938.8,87.7 938.7,89.2 938.7,90.7 938.6,92.2 938.5,93.7 938.4,95.2 938.4,96.7 938.3,98.2 938.2,99.7 938.1,101.2 937.9,102.7 937.8,104.2 937.7,105.7 937.5,107.2 937.4,108.7 937.2,110.2 937.1,111.7 936.9,113.2 936.8,114.7 936.6,116.2 936.5,117.7 936.3,119.2 936.1,120.7 936.0,122.2 935.8,123.6 935.6,125.1 935.4,126.6 935.2,128.1 935.0,129.6 934.8,131.1 934.6,132.6 934.4,134.1 934.2,135.6 934.0,137.0 933.7,138.5 933.5,140.0 933.3,141.5 933.1,143.0 932.8,144.5 932.6,145.9 932.3,147.4 932.0,148.9 931.7,150.4 931.4,151.8 931.1,153.3 930.8,154.7 930.4,156.2 930.0,157.7 929.7,159.1 929.3,160.6 928.9,162.0 928.5,163.5 928.1,164.9 927.7,166.4 927.3,167.8 926.9,169.3 926.6,170.7 926.2,172.2 925.8,173.6 925.4,175.1 925.0,176.5 924.6,178.0 924.2,179.4 923.8,180.9 923.4,182.3 923.0,183.8 922.6,185.2 922.1,186.6 921.6,188.0 921.1,189.5 920.6,190.9 920.1,192.3 919.5,193.7 919.0,195.0 918.4,196.4 917.8,197.8 917.2,199.1 916.5,200.5 915.8,201.8 915.1,203.1 914.4,204.4 913.6,205.7 912.8,207.0 912.0,208.2 911.2,209.5 910.3,210.7 909.4,211.9 908.5,213.1 907.6,214.3 906.7,215.5 905.7,216.6 904.7,217.7 903.7,218.8 902.7,219.9 901.7,221.0 900.6,222.1 899.6,223.1 898.5,224.2 897.4,225.2 896.3,226.2 895.1,227.1 894.0,228.1 892.8,229.0 891.6,229.9 890.3,230.7 889.1,231.5 887.8,232.3 886.5,233.1 885.2,233.8 883.9,234.5 882.6,235.1 881.2,235.8 879.9,236.3 878.5,236.9 877.1,237.4 875.7,237.9 874.2,238.3 872.8,238.7 871.4,239.1 869.9,239.5 868.4,239.8 867.0,240.1 865.5,240.4 864.0,240.6 862.5,240.9 861.1,241.1 859.6,241.3 858.1,241.5 856.6,241.7 855.1,241.9 853.6,242.0 852.1,242.2 850.6,242.4 849.1,242.5 847.6,242.6 846.2,242.8 844.7,242.9 843.2,243.0 841.7,243.1 840.2,243.2 838.7,243.3 837.2,243.4 835.7,243.6 834.2,243.7 832.7,243.8 831.2,244.0 829.7,244.1 828.2,244.3 826.7,244.5 825.2,244.6 823.7,244.8 822.2,245.0 820.7,245.1 819.2,245.3 817.8,245.5 816.3,245.7 814.8,245.8 813.3,246.0 811.8,246.2 810.3,246.4 808.8,246.6 807.3,246.7 805.8,246.9 804.3,247.1 802.8,247.3 801.4,247.4 799.9,247.6 798.4,247.8 796.9,247.9 795.4,248.1 793.9,248.3 792.4,248.4 790.9,248.6 789.4,248.7 787.9,248.9 786.4,249.0 784.9,249.2 783.4,249.3 781.9,249.5 780.4,249.6 778.9,249.8 777.4,249.9 776.0,250.1 774.5,250.3 773.0,250.4 771.5,250.6 770.0,250.8 768.5,251.0 767.0,251.2 765.5,251.4 764.0,251.6 762.6,251.9 761.1,252.1 759.6,252.3 758.1,252.5 756.6,252.8 755.1,253.0 753.7,253.2 752.2,253.5 750.7,253.7 749.2,253.9 747.7,254.1 746.2,254.4 744.7,254.6 743.3,254.8 741.8,255.1 740.3,255.3 738.8,255.5 737.3,255.7 735.8,256.0 734.4,256.2 732.9,256.4 731.4,256.6 729.9,256.8 728.4,257.0 726.9,257.2 725.4,257.5 723.9,257.7 722.5,257.9 721.0,258.1 719.5,258.3 718.0,258.5 716.5,258.7 715.0,258.9 713.5,259.1 712.0,259.3 710.5,259.5 709.1,259.7 707.6,259.9 706.1,260.1 704.6,260.3 703.1,260.5 701.6,260.7 700.1,260.9 698.6,261.1 697.1,261.2 695.7,261.4 694.2,261.6 692.7,261.8 691.2,262.0 689.7,262.2 688.2,262.4 686.7,262.6 685.2,262.8 683.8,263.0 682.3,263.2 680.8,263.4 679.3,263.6 677.8,263.8 676.3,264.0 674.8,264.2 673.3,264.4 671.8,264.6 670.4,264.8 668.9,265.0 667.4,265.2 665.9,265.4 664.4,265.6 662.9,265.8 661.4,266.0 659.9,266.1 658.4,266.3 656.9,266.5 655.4,266.6 654.0,266.8 652.5,267.0 651.0,267.1 649.5,267.3 648.0,267.4 646.5,267.6 645.0,267.7 643.5,267.9 642.0,268.1 640.5,268.2 639.0,268.4 637.5,268.5 636.0,268.7 634.5,268.9 633.0,269.1 631.6,269.2 630.1,269.4 628.6,269.6 627.1,269.8 625.6,270.0 624.1,270.2 622.6,270.3 621.1,270.5 619.6,270.7 618.1,270.9 616.7,271.1 615.2,271.3 613.7,271.5 612.2,271.6 610.7,271.8 609.2,272.0 607.7,272.1 606.2,272.3 604.7,272.4 603.2,272.6 601.7,272.7 600.2,272.8 598.7,273.0 597.2,273.1 595.7,273.2 594.2,273.3 592.7,273.5 591.2,273.6 589.8,273.7 588.3,273.8 586.8,274.0 585.3,274.1 583.8,274.3 582.3,274.4 580.8,274.6 579.3,274.7 577.8,274.9 576.3,275.1 574.8,275.3 573.3,275.5 571.8,275.7 570.4,275.9 568.9,276.1 567.4,276.3 565.9,276.6 564.4,276.8 563.0,277.1 561.5,277.4 560.0,277.7 558.5,278.0 557.1,278.3 555.6,278.6 554.2,279.0 552.7,279.3 551.2,279.7 549.8,280.1 548.3,280.5 546.9,280.9 545.5,281.3 544.0,281.7 542.6,282.2 541.1,282.6 539.7,283.0 538.3,283.5 536.8,283.9 535.4,284.4 534.0,284.9 532.6,285.4 531.1,285.8 529.7,286.3 528.3,286.8 526.9,287.4 525.5,287.9 524.1,288.4 522.7,289.0 521.3,289.6 519.9,290.1 518.6,290.7 517.2,291.3 515.8,291.9 514.4,292.6 513.1,293.2 511.7,293.8 510.4,294.5 509.0,295.1 507.7,295.8 506.3,296.4 505.0,297.1 503.6,297.8 502.3,298.5 501.0,299.2 499.6,299.9 498.3,300.6 497.0,301.3 495.7,302.1 494.4,302.8 493.1,303.6 491.8,304.3 490.5,305.1 489.3,305.9 488.0,306.7 486.7,307.5 485.5,308.3 484.2,309.2 483.0,310.0 481.7,310.8 480.5,311.7 479.3,312.5 478.0,313.4 476.8,314.3 475.6,315.1 474.4,316.0 473.1,316.9 471.9,317.8 470.7,318.7 469.5,319.6 468.4,320.5 467.2,321.5 466.0,322.4 464.9,323.4 463.7,324.3 462.6,325.3 461.5,326.3 460.3,327.3 459.2,328.3 458.1,329.3 456.9,330.3 455.8,331.2 454.7,332.2 453.5,333.2 452.4,334.1 451.2,335.1 450.0,336.1 448.9,337.0 447.7,338.0 446.6,338.9 445.4,339.9 444.3,340.8 443.1,341.8 442.0,342.8 440.9,343.8 439.7,344.8 438.6,345.8 437.6,346.8 436.5,347.9 435.4,349.0 434.4,350.0 433.4,351.1 432.4,352.2 431.4,353.4 430.4,354.5 429.4,355.6 428.4,356.7 427.4,357.9 426.4,359.0 425.4,360.1 424.5,361.3 423.5,362.4 422.5,363.5 421.5,364.7 420.6,365.8 419.6,367.0 418.7,368.2 417.8,369.4 416.9,370.6 416.0,371.8 415.1,373.0 414.2,374.2 413.4,375.4 412.5,376.7 411.7,377.9 410.9,379.2 410.1,380.5 409.3,381.7 408.5,383.0 407.8,384.3 407.0,385.6 406.3,386.9 405.5,388.2 404.8,389.5 404.0,390.8 403.3,392.1 402.6,393.5 401.8,394.8 401.1,396.1 400.4,397.4 399.7,398.7 398.9,400.0 398.2,401.3 397.5,402.6 396.7,403.9 396.0,405.2 395.2,406.5 394.5,407.8 393.7,409.1 393.0,410.4 392.2,411.8 391.5,413.1 390.7,414.4 390.0,415.7 389.3,417.0 388.5,418.3 387.8,419.6 387.1,420.9 386.3,422.2 385.5,423.5 384.8,424.8 384.0,426.0 383.2,427.3 382.4,428.6 381.6,429.8 380.8,431.1 380.0,432.4 379.2,433.6 378.4,434.9 377.6,436.2 376.9,437.5 376.1,438.8 375.4,440.1 374.7,441.4 374.0,442.8 373.3,444.1 372.6,445.5 372.0,446.8 371.3,448.1 370.7,449.5 370.0,450.9 369.4,452.2 368.7,453.6 368.1,454.9 367.4,456.3 366.7,457.6 366.0,458.9 365.3,460.3 364.6,461.6 363.9,462.9 363.2,464.2 362.5,465.5 361.8,466.9 361.0,468.2 360.3,469.5 359.5,470.8 358.8,472.1 358.0,473.4 357.3,474.7 356.5,476.0 355.7,477.3 355.0,478.6 354.2,479.9 353.5,481.2 352.7,482.5 352.0,483.8 351.3,485.1 350.6,486.4 349.9,487.7 349.2,489.1 348.5,490.4 347.8,491.7 347.1,493.1 346.4,494.4 345.7,495.7 345.1,497.1 344.4,498.4 343.7,499.8 343.1,501.1 342.4,502.5 341.7,503.8 341.0,505.1 340.4,506.5 339.7,507.8 339.0,509.2 338.3,510.5 337.7,511.8 337.0,513.2 336.3,514.5 335.6,515.8 334.9,517.2 334.2,518.5 333.5,519.8 332.7,521.1 332.0,522.4 331.2,523.7 330.5,525.0 329.7,526.3 329.0,527.6 328.2,528.9 327.4,530.2 326.6,531.5 325.9,532.8 325.1,534.0 324.3,535.3 323.5,536.6 322.7,537.9 321.9,539.1 321.0,540.4 320.2,541.6 319.3,542.8 318.4,544.0 317.5,545.2 316.6,546.4 315.7,547.6 314.7,548.7 313.7,549.9 312.7,551.0 311.7,552.1 310.7,553.2 309.7,554.3 308.6,555.3 307.5,556.4 306.5,557.4 305.4,558.4 304.3,559.5 303.2,560.5 302.0,561.5 300.9,562.5 299.8,563.5 298.7,564.4 297.5,565.4 296.4,566.4 295.2,567.3 294.1,568.3 292.9,569.2 291.7,570.0 290.5,570.9 289.2,571.6 287.9,572.4 286.6,573.0 285.3,573.6 283.9,574.2 282.5,574.7 281.1,575.1 279.7,575.5 278.3,575.8 276.8,576.0 275.3,576.2 273.9,576.3 272.4,576.3 270.9,576.3 269.5,576.2 268.0,576.0 266.5,575.8 265.1,575.5 263.6,575.2 262.2,574.9 260.7,574.5 259.3,574.1 257.8,573.7 256.4,573.3 255.0,572.8 253.5,572.3 252.1,571.8 250.7,571.3 249.3,570.8 247.9,570.3 246.5,569.8 245.1,569.3 243.7,568.8 242.3,568.2 240.9,567.7 239.4,567.2 238.0,566.7 236.6,566.1 235.2,565.6 233.8,565.1 232.4,564.6 231.0,564.0 229.6,563.5" fill="none" stroke="#ff0d0d" stroke-width="5.2" stroke-linejoin="round"/>
<rect x="178.4" y="13.1" width="767.6" height="566.8" fill="none" stroke="#000" stroke-width="4.6"/>
<text x="-1.40" y="753.50" font-size="41.0" font-weight="bold" font-family="Liberation Sans, sans-serif">b</text>
<line x1="165.2" y1="1339.6" x2="177.6" y2="1339.6" stroke="#000" stroke-width="2.8"/>
<text x="102.40" y="1352.00" font-size="33.6" font-family="Liberation Sans, sans-serif">0.0</text>
<line x1="171" y1="1291.1" x2="177.6" y2="1291.1" stroke="#000" stroke-width="2.5"/>
<line x1="165.2" y1="1242.6" x2="177.6" y2="1242.6" stroke="#000" stroke-width="2.8"/>
<text x="102.50" y="1255.00" font-size="33.6" font-family="Liberation Sans, sans-serif">0.5</text>
<line x1="171" y1="1194.1" x2="177.6" y2="1194.1" stroke="#000" stroke-width="2.5"/>
<line x1="165.2" y1="1145.6" x2="177.6" y2="1145.6" stroke="#000" stroke-width="2.8"/>
<text x="102.40" y="1158.00" font-size="33.6" font-family="Liberation Sans, sans-serif">1.0</text>
<line x1="171" y1="1097.1" x2="177.6" y2="1097.1" stroke="#000" stroke-width="2.5"/>
<line x1="165.2" y1="1048.6" x2="177.6" y2="1048.6" stroke="#000" stroke-width="2.8"/>
<text x="102.50" y="1061.00" font-size="33.6" font-family="Liberation Sans, sans-serif">1.5</text>
<line x1="171" y1="1000.1" x2="177.6" y2="1000.1" stroke="#000" stroke-width="2.5"/>
<line x1="165.2" y1="951.6" x2="177.6" y2="951.6" stroke="#000" stroke-width="2.8"/>
<text x="102.40" y="964.00" font-size="33.6" font-family="Liberation Sans, sans-serif">2.0</text>
<line x1="171" y1="903.1" x2="177.6" y2="903.1" stroke="#000" stroke-width="2.5"/>
<line x1="165.2" y1="854.6" x2="177.6" y2="854.6" stroke="#000" stroke-width="2.8"/>
<text x="102.50" y="867.00" font-size="33.6" font-family="Liberation Sans, sans-serif">2.5</text>
<line x1="171" y1="806.1" x2="177.6" y2="806.1" stroke="#000" stroke-width="2.5"/>
<line x1="165.2" y1="757.6" x2="177.6" y2="757.6" stroke="#000" stroke-width="2.8"/>
<text x="102.40" y="770.00" font-size="33.6" font-family="Liberation Sans, sans-serif">3.0</text>
<line x1="177.6" y1="1359.5" x2="177.6" y2="1370.5" stroke="#000" stroke-width="2.8"/>
<text x="168.26" y="1409.60" font-size="33.6" font-family="Liberation Sans, sans-serif">0</text>
<line x1="245.2" y1="1359.5" x2="245.2" y2="1365.5" stroke="#000" stroke-width="2.8"/>
<line x1="312.8" y1="1359.5" x2="312.8" y2="1370.5" stroke="#000" stroke-width="2.8"/>
<text x="303.49" y="1409.60" font-size="33.6" font-family="Liberation Sans, sans-serif">5</text>
<line x1="380.4" y1="1359.5" x2="380.4" y2="1365.5" stroke="#000" stroke-width="2.8"/>
<line x1="448.0" y1="1359.5" x2="448.0" y2="1370.5" stroke="#000" stroke-width="2.8"/>
<text x="428.69" y="1409.60" font-size="33.6" font-family="Liberation Sans, sans-serif">10</text>
<line x1="515.6" y1="1359.5" x2="515.6" y2="1365.5" stroke="#000" stroke-width="2.8"/>
<line x1="583.2" y1="1359.5" x2="583.2" y2="1370.5" stroke="#000" stroke-width="2.8"/>
<text x="563.94" y="1409.60" font-size="33.6" font-family="Liberation Sans, sans-serif">15</text>
<line x1="650.8" y1="1359.5" x2="650.8" y2="1365.5" stroke="#000" stroke-width="2.8"/>
<line x1="718.4" y1="1359.5" x2="718.4" y2="1370.5" stroke="#000" stroke-width="2.8"/>
<text x="699.52" y="1409.60" font-size="33.6" font-family="Liberation Sans, sans-serif">20</text>
<line x1="786.0" y1="1359.5" x2="786.0" y2="1365.5" stroke="#000" stroke-width="2.8"/>
<line x1="853.6" y1="1359.5" x2="853.6" y2="1370.5" stroke="#000" stroke-width="2.8"/>
<text x="834.77" y="1409.60" font-size="33.6" font-family="Liberation Sans, sans-serif">25</text>
<text x="482.05" y="1458.00" font-size="33.6" font-family="Liberation Sans, sans-serif">Time (h)</text>
<text transform="translate(64.10,1242.73) rotate(-90)" font-size="33.4" font-family="Liberation Sans, sans-serif">Current density (μA.cm<tspan dy="-12.9" font-size="24.3">−2</tspan><tspan dy="12.9">)</tspan></text>
<line x1="165.2" y1="1339.8" x2="911.9" y2="1339.8" stroke="#000" stroke-width="2.2"/>
<line x1="188" y1="1337.2" x2="198" y2="1337.2" stroke="#1010ff" stroke-width="5.5"/>
<line x1="197" y1="1337.8" x2="865" y2="1337.8" stroke="#ff1010" stroke-width="5.4" stroke-linecap="round"/>
<line x1="865" y1="1338.4" x2="891.5" y2="1338.4" stroke="#1010ff" stroke-width="5.6" stroke-linecap="round"/>
<line x1="212" y1="1340" x2="839" y2="1340" stroke="#057a05" stroke-width="5.8" stroke-linecap="round"/>
<path d="M208.0,1334.2 209.6,1334.2 211.1,1334.1 212.7,1334.0 214.2,1334.0 215.8,1334.0 217.3,1333.9 218.9,1333.8 220.4,1333.8 222.0,1333.8 223.6,1333.7 225.1,1333.7 226.7,1333.6 228.2,1333.6 229.8,1333.5 231.3,1333.5 232.9,1333.4 234.4,1333.4 236.0,1333.3 237.2,1331.7 238.5,1330.0 239.8,1331.6 241.0,1333.2 242.5,1333.2 244.0,1333.2 245.6,1333.2 247.1,1333.1 248.6,1333.1 250.1,1333.1 251.7,1333.1 253.2,1333.1 254.7,1333.1 256.2,1333.0 257.8,1333.0 259.3,1333.0 260.8,1333.0 262.3,1333.0 263.9,1333.0 265.4,1332.9 266.9,1332.9 268.4,1332.9 270.0,1332.9 271.5,1332.9 273.0,1332.9 274.5,1332.9 276.1,1332.8 277.6,1332.8 279.1,1332.8 280.6,1332.8 282.2,1332.8 283.7,1332.8 285.2,1332.7 286.7,1332.7 288.3,1332.7 289.8,1332.7 291.3,1332.7 292.8,1332.6 294.4,1332.6 295.9,1332.6 297.4,1332.6 298.9,1332.6 300.5,1332.6 302.0,1332.5 303.5,1332.5 305.0,1332.5 306.6,1332.5 308.1,1332.5 309.6,1332.4 311.1,1332.4 312.7,1332.4 314.2,1332.4 315.7,1332.4 317.2,1332.4 318.8,1332.3 320.3,1332.3 321.8,1332.3 321.8,1330.8 321.8,1329.3 321.8,1327.8 321.9,1326.2 321.9,1324.7 321.9,1323.2 321.9,1321.7 321.9,1320.2 321.9,1318.7 322.0,1317.1 322.0,1315.6 322.0,1314.1 322.0,1312.6 322.4,1311.2 322.9,1309.7 323.3,1308.3 323.8,1306.9 324.2,1305.4 324.7,1304.0 325.1,1302.5 325.6,1301.1 326.1,1299.7 326.7,1298.3 327.3,1297.0 328.0,1295.7 328.8,1294.4 329.6,1293.1 330.4,1291.9 331.2,1290.6 332.1,1289.4 332.9,1288.1 333.8,1286.9 334.6,1285.6 335.5,1284.4 336.4,1283.3 337.4,1282.1 338.5,1281.1 339.5,1280.1 340.7,1279.1 341.8,1278.1 343.0,1277.1 344.1,1276.2 345.3,1275.2 346.4,1274.3 347.6,1273.3 348.8,1272.3 349.9,1271.4 351.1,1270.5 352.3,1269.6 353.5,1268.7 354.8,1267.8 356.0,1267.0 357.3,1266.1 358.5,1265.3 359.8,1264.5 361.0,1263.6 362.3,1262.8 363.5,1262.0 364.8,1261.1 366.0,1260.3 367.3,1259.5 368.5,1258.6 369.8,1257.8 371.0,1257.0 372.3,1256.1 373.5,1255.3 374.8,1254.5 376.0,1253.6 377.3,1252.8 378.5,1252.0 379.8,1251.1 381.0,1250.3 382.3,1249.5 383.6,1248.7 384.9,1247.9 386.1,1247.1 387.4,1246.3 388.7,1245.6 390.0,1244.8 391.3,1244.1 392.6,1243.4 394.0,1242.7 395.4,1242.2 396.8,1241.8 398.2,1241.6 399.7,1241.4 401.2,1241.3 402.7,1241.4 404.1,1241.5 405.6,1241.8 407.1,1242.1 408.5,1242.4 410.0,1242.6 411.4,1242.8 412.9,1242.8 414.4,1242.7 415.8,1242.5 417.3,1242.2 418.7,1241.8 420.2,1241.4 421.6,1240.9 423.0,1240.4 424.3,1239.8 425.7,1239.2 427.0,1238.5 428.4,1237.8 429.7,1237.1 431.0,1236.4 432.4,1235.8 433.8,1235.2 435.2,1234.7 436.6,1234.2 438.0,1233.8 439.5,1233.4 440.9,1232.9 442.4,1232.5 443.8,1232.0 445.2,1231.6 446.7,1231.2 448.1,1230.7 449.6,1230.3 451.0,1229.8 452.4,1229.3 453.8,1228.8 455.2,1228.3 456.6,1227.7 458.0,1227.1 459.4,1226.5 460.8,1226.0 462.1,1225.4 463.5,1224.8 464.9,1224.2 466.3,1223.6 467.7,1223.0 469.1,1222.4 470.4,1221.8 471.8,1221.2 473.2,1220.6 474.5,1219.9 475.9,1219.3 477.2,1218.6 478.6,1218.0 479.9,1217.3 481.3,1216.6 482.6,1215.9 484.0,1215.3 485.3,1214.6 486.7,1213.9 488.0,1213.2 489.4,1212.6 490.7,1211.9 492.0,1211.2 493.3,1210.4 494.6,1209.6 495.9,1208.8 497.1,1208.0 498.4,1207.2 499.6,1206.4 500.9,1205.5 502.1,1204.7 503.4,1203.8 504.6,1203.0 505.9,1202.1 507.1,1201.2 508.2,1200.3 509.3,1199.3 510.4,1198.2 511.4,1197.2 512.4,1196.1 513.5,1194.9 514.5,1193.8 515.5,1192.7 516.5,1191.6 517.5,1190.5 518.5,1189.4 519.5,1188.3 520.5,1187.1 521.5,1186.0 522.5,1184.9 523.4,1183.7 524.3,1182.5 525.2,1181.3 526.1,1180.0 526.9,1178.8 527.7,1177.5 528.6,1176.3 529.4,1175.0 530.2,1173.8 531.0,1172.5 531.8,1171.3 532.6,1170.0 533.3,1168.6 534.0,1167.3 534.6,1165.9 535.1,1164.5 535.6,1163.1 536.1,1161.7 536.7,1160.3 537.2,1158.9 537.7,1157.5 538.2,1156.1 538.7,1154.6 539.2,1153.2 539.8,1151.8 540.3,1150.4 540.8,1149.0 541.3,1147.6 541.8,1146.2 542.3,1144.8 542.9,1143.3 543.4,1141.9 543.9,1140.5 544.5,1139.1 545.0,1137.7 545.6,1136.3 546.2,1135.0 546.8,1133.6 547.4,1132.2 547.9,1130.8 548.5,1129.4 549.1,1128.0 549.7,1126.6 550.3,1125.3 550.9,1123.9 551.5,1122.5 552.1,1121.1 552.7,1119.7 553.3,1118.3 553.8,1117.0 554.4,1115.6 555.0,1114.2 555.6,1112.8 556.2,1111.4 556.8,1110.0 557.4,1108.7 558.0,1107.3 558.6,1105.9 559.2,1104.5 559.9,1103.2 560.5,1101.8 561.2,1100.5 561.8,1099.1 562.5,1097.8 563.2,1096.4 563.9,1095.1 564.5,1093.7 565.2,1092.4 565.9,1091.1 566.5,1089.7 567.2,1088.4 567.9,1087.0 568.6,1085.7 569.2,1084.3 569.9,1083.0 570.5,1081.6 571.1,1080.2 571.7,1078.9 572.3,1077.5 572.8,1076.0 573.2,1074.6 573.7,1073.2 574.2,1071.8 574.7,1070.3 575.1,1068.9 575.6,1067.5 576.1,1066.1 576.6,1064.6 577.0,1063.2 577.5,1061.8 578.0,1060.3 578.4,1058.9 578.8,1057.4 579.1,1056.0 579.3,1054.5 579.6,1053.0 579.8,1051.5 580.0,1050.0 580.1,1048.6 580.3,1047.1 580.5,1045.6 580.7,1044.1 580.9,1042.6 581.1,1041.1 581.2,1039.6 581.4,1038.1 581.6,1036.6 581.8,1035.1 582.0,1033.6 582.2,1032.1 582.3,1030.6 582.5,1029.1 582.7,1027.7 582.9,1026.2 583.1,1024.7 583.3,1023.2 583.4,1021.7 583.6,1020.2 583.8,1018.7 584.0,1017.2 584.2,1015.7 584.3,1014.2 584.5,1012.7 584.7,1011.2 584.9,1009.7 585.0,1008.3 585.2,1006.8 585.4,1005.3 585.5,1003.8 585.7,1002.3 585.9,1000.8 586.1,999.3 586.2,997.8 586.4,996.3 586.6,994.8 586.8,993.3 586.9,991.8 587.1,990.4 587.3,988.9 587.4,987.4 587.6,985.9 587.8,984.4 588.1,982.9 588.4,981.5 588.7,980.0 589.1,978.5 589.4,977.1 589.8,975.6 590.2,974.2 590.6,972.7 591.0,971.3 591.4,969.8 591.7,968.4 592.1,966.9 592.5,965.5 592.9,964.0 593.4,962.6 593.9,961.2 594.5,959.9 595.2,958.6 595.9,957.3 596.7,956.0 597.5,954.8 598.4,953.5 599.2,952.3 600.0,951.0 600.9,949.8 601.7,948.5 602.5,947.3 603.4,946.0 604.2,944.8 605.0,943.5 605.9,942.3 606.7,941.0 607.5,939.8 608.4,938.5 609.2,937.3 610.0,936.0 610.9,934.8 611.7,933.5 612.5,932.3 613.4,931.0 614.2,929.8 615.0,928.5 615.9,927.3 616.7,926.0 617.5,924.8 618.4,923.5 619.2,922.3 620.0,921.0 620.9,919.8 621.7,918.5 622.5,917.3 623.4,916.0 624.2,914.8 625.0,913.5 625.9,912.3 626.7,911.1 627.5,909.8 628.4,908.6 629.2,907.3 630.0,906.1 630.9,904.8 631.7,903.6 632.5,902.3 633.4,901.1 634.2,899.8 635.0,898.6 635.9,897.3 636.7,896.1 637.5,894.8 638.4,893.6 639.2,892.3 640.0,891.1 640.9,889.8 641.7,888.6 642.5,887.3 643.4,886.1 644.2,884.8 645.0,883.6 645.9,882.3 646.7,881.1 647.6,879.9 648.4,878.6 649.2,877.4 650.1,876.1 650.9,874.9 651.7,873.6 652.6,872.4 653.5,871.2 654.3,869.9 655.2,868.7 656.1,867.5 657.0,866.4 658.0,865.2 658.9,864.0 659.8,862.8 660.7,861.6 661.6,860.4 662.5,859.2 663.4,858.0 664.4,856.8 665.3,855.6 666.2,854.4 667.1,853.2 668.0,852.1 668.9,850.9 669.8,849.7 670.7,848.5 671.7,847.3 672.6,846.1 673.5,844.9 674.4,843.7 675.3,842.5 676.2,841.3 677.2,840.2 678.1,839.0 679.1,837.8 680.0,836.7 681.0,835.5 682.0,834.4 682.9,833.3 683.9,832.1 684.9,831.0 685.9,829.8 686.8,828.7 687.8,827.6 688.8,826.4 689.8,825.3 690.7,824.1 691.7,823.0 692.7,821.8 693.6,820.7 694.6,819.5 695.5,818.4 696.5,817.2 697.4,816.0 698.4,814.9 699.3,813.7 700.3,812.5 701.2,811.4 702.2,810.2 703.1,809.0 704.1,807.9 705.0,806.7 706.0,805.5 706.9,804.4 707.9,803.3 708.9,802.2 709.9,801.1 711.1,800.2 712.3,799.3 713.5,798.5 714.8,797.7 716.1,797.0 717.4,796.3 718.7,795.5 720.0,794.8 721.4,794.2 722.7,793.5 724.1,793.0 725.5,792.4 726.9,792.0 728.4,791.5 729.8,791.0 731.2,790.5 732.6,790.0 734.0,789.5 735.4,788.9 736.7,788.2 738.0,787.5 739.3,786.8 740.6,786.0 741.9,785.2 743.2,784.5 744.5,783.7 745.8,782.9 747.1,782.2 748.4,781.4 749.7,780.7 751.0,779.9 752.3,779.2 753.6,778.4 754.9,777.7 756.2,776.9 757.5,776.2 758.8,775.4 760.1,774.7 761.4,774.0 762.7,773.3 764.1,772.7 765.5,772.1 766.9,771.7 768.3,771.2 769.7,770.9 771.2,770.5 772.7,770.2 774.1,769.8 775.6,769.5 777.1,769.2 778.5,768.9 780.0,768.6 781.5,768.5 782.9,768.4 784.4,768.5 785.9,768.6 787.4,768.8 788.9,769.0 790.3,769.2 791.8,769.5 793.3,769.7 794.8,769.9 796.3,770.1 797.8,770.3 799.2,770.5 800.7,770.5 802.1,770.4 803.6,770.2 805.0,769.8 806.4,769.4 807.9,768.9 809.3,768.5 810.7,768.2 812.2,767.9 813.6,767.8 815.1,767.7 816.6,767.8 818.1,767.9 819.6,768.1 821.0,768.4 822.4,768.8 823.8,769.3 825.1,769.9 826.4,770.6 827.8,771.3 829.1,771.9 830.5,772.4 831.8,772.7 833.2,772.9 834.7,772.8 836.1,772.7 837.6,772.5 839.1,772.2 840.6,772.0 842.1,771.8 843.5,771.5 845.0,771.3 846.5,771.0" fill="none" stroke="#000" stroke-width="4.8" stroke-linejoin="round" stroke-linecap="round"/>
<line x1="302.5" y1="1246" x2="302.5" y2="1356" stroke="#000" stroke-width="3.2" stroke-dasharray="0.6 5.1" stroke-linecap="round"/>
<line x1="464" y1="1166" x2="464" y2="1359" stroke="#000" stroke-width="3.2" stroke-dasharray="0.6 5.1" stroke-linecap="round"/>
<text x="238.24" y="1188.40" font-size="33.6" font-family="Liberation Sans, sans-serif">Bacterial</text>
<text x="239.57" y="1228.20" font-size="33.6" font-family="Liberation Sans, sans-serif">addition</text>
<text x="414.04" y="1116.70" font-size="33.6" font-family="Liberation Sans, sans-serif">Lactate</text>
<text x="415.37" y="1157.00" font-size="33.6" font-family="Liberation Sans, sans-serif">addition</text>
<rect x="508.4" y="1206.6" width="387" height="43.6" fill="#fff" stroke="#bbb" stroke-width="2"/>
<line x1="527.5" y1="1227.6" x2="583.3" y2="1227.6" stroke="#000" stroke-width="5" stroke-linecap="round"/>
<text x="595.83" y="1237.90" font-size="25.2" font-family="Liberation Sans, sans-serif">PV3-SiO<tspan dy="8.2" font-size="16.8">2</tspan><tspan dy="-8.2"> on Pt/SnO</tspan><tspan dy="8.2" font-size="16.8">2</tspan></text>
<rect x="257.1" y="772.0" width="292.4" height="238.0" fill="#fff" stroke="#888" stroke-width="2"/>
<line x1="257.1" y1="1001.8" x2="549.5" y2="1001.8" stroke="#888" stroke-width="2"/>
<line x1="254.6" y1="1001.7" x2="259.6" y2="1001.7" stroke="#888" stroke-width="1.5"/>
<line x1="254.6" y1="964.3" x2="259.6" y2="964.3" stroke="#888" stroke-width="1.5"/>
<line x1="254.6" y1="926.9" x2="259.6" y2="926.9" stroke="#888" stroke-width="1.5"/>
<line x1="254.6" y1="889.5" x2="259.6" y2="889.5" stroke="#888" stroke-width="1.5"/>
<line x1="254.6" y1="852.1" x2="259.6" y2="852.1" stroke="#888" stroke-width="1.5"/>
<line x1="254.6" y1="814.7" x2="259.6" y2="814.7" stroke="#888" stroke-width="1.5"/>
<line x1="254.6" y1="777.3" x2="259.6" y2="777.3" stroke="#888" stroke-width="1.5"/>
<text x="204.72" y="789.30" font-size="33.6" font-family="Liberation Sans, sans-serif">12</text>
<text x="223.17" y="864.10" font-size="33.6" font-family="Liberation Sans, sans-serif">8</text>
<text x="222.70" y="938.90" font-size="33.6" font-family="Liberation Sans, sans-serif">4</text>
<text x="223.03" y="1013.70" font-size="33.6" font-family="Liberation Sans, sans-serif">0</text>
<line x1="310.9" y1="1010.0" x2="310.9" y2="1013.0" stroke="#888" stroke-width="1.5"/>
<line x1="363.7" y1="1010.0" x2="363.7" y2="1013.0" stroke="#888" stroke-width="1.5"/>
<line x1="416.5" y1="1010.0" x2="416.5" y2="1013.0" stroke="#888" stroke-width="1.5"/>
<line x1="469.3" y1="1010.0" x2="469.3" y2="1013.0" stroke="#888" stroke-width="1.5"/>
<line x1="522.1" y1="1010.0" x2="522.1" y2="1013.0" stroke="#888" stroke-width="1.5"/>
<text x="248.76" y="1050.00" font-size="33.6" font-family="Liberation Sans, sans-serif">0</text>
<text x="344.69" y="1050.00" font-size="33.6" font-family="Liberation Sans, sans-serif">10</text>
<text x="449.92" y="1050.00" font-size="33.6" font-family="Liberation Sans, sans-serif">20</text>
<rect x="276.1" y="774" width="147.6" height="51.8" fill="#fff" stroke="#ccc" stroke-width="1.6"/>
<line x1="279" y1="797.2" x2="307.5" y2="797.2" stroke="#000" stroke-width="5" stroke-linecap="round"/>
<text x="323.76" y="805.20" font-size="24.9" font-family="Liberation Sans, sans-serif">Pt/SnO<tspan dy="6.6" font-size="17.8">2</tspan></text>
<line x1="296.2" y1="942" x2="296.2" y2="1010" stroke="#000" stroke-width="3.3" stroke-dasharray="0.8 6.6" stroke-linecap="round"/>
<line x1="383.6" y1="830" x2="383.6" y2="1010" stroke="#000" stroke-width="3.3" stroke-dasharray="0.8 6.6" stroke-linecap="round"/>
<path d="M265.8,1000.1 L303.6,1000.1 L304.4,997.7 L305.2,966.2 L306.8,950.4 L309.1,928.3 L310.7,922.0 L313.1,915.7 L316.2,907.8 L321.0,901.5 L323.3,896.8 L324.9,890.5 L327.3,879.4 L328.9,868.4 L330.4,876.3 L331.2,887.3 L332.0,890.5 L338.3,887.3 L344.6,885.7 L348.6,881.8 L353.3,875.5 L358.8,878.6 L362.8,880.2 L368.3,871.5 L372.2,873.9 L376.2,872.3 L380.1,869.2 L383.3,874.7 L387.2,874.7 L393.5,873.9 L407.9,872.3 L425.8,869.2 L440.1,866.5 L450.8,860.3 L461.5,852.2 L466.0,845.1 L467.8,836.1 L468.7,823.6 L469.5,816.5 L474.0,809.3 L481.2,804.9 L488.3,802.2 L497.3,799.5 L501.7,800.0" fill="none" stroke="#000" stroke-width="5" stroke-linejoin="round" stroke-linecap="round"/>
<rect x="177.6" y="744.5" width="734.3" height="615.0" fill="none" stroke="#000" stroke-width="2.8"/>
<text x="-1.00" y="1527.00" font-size="41.0" font-weight="bold" font-family="Liberation Sans, sans-serif">c</text>
<text x="156.81" y="1537.70" font-size="34.0" font-family="Liberation Sans, sans-serif">Pt/SnO<tspan dy="8.2" font-size="21.5">2</tspan></text>
<text x="427.81" y="1538.20" font-size="34.0" font-family="Liberation Sans, sans-serif">PV3-SiO<tspan dy="8.2" font-size="21.5">2</tspan></text>
<text x="429.17" y="1576.80" font-size="34.0" font-family="Liberation Sans, sans-serif">on Pt/SnO<tspan dy="8.2" font-size="21.5">2</tspan></text>
<text x="748.26" y="1538.20" font-size="34.0" font-family="Liberation Sans, sans-serif">SiO<tspan dy="8.2" font-size="21.5">2</tspan><tspan dy="-8.2"> on</tspan></text>
<text x="741.51" y="1577.80" font-size="34.0" font-family="Liberation Sans, sans-serif">Pt/SnO<tspan dy="8.2" font-size="21.5">2</tspan></text>
<clipPath id="c1"><rect x="85.0" y="1600.8" width="269.0" height="670.2"/></clipPath>
<filter id="f1" x="50" y="1560" width="340" height="750" filterUnits="userSpaceOnUse" color-interpolation-filters="sRGB"><feGaussianBlur in="SourceGraphic" stdDeviation="9" result="m"/><feTurbulence type="fractalNoise" baseFrequency="0.085" numOctaves="3" seed="4" result="n"/><feColorMatrix in="n" type="matrix" values="2.6 0 0 0 -0.8 2.6 0 0 0 -0.8 2.6 0 0 0 -0.8 0 0 0 0 1" result="ng"/><feComposite in="m" in2="ng" operator="arithmetic" k1="1.6" k2="0.2" k3="0" k4="0" result="c"/><feGaussianBlur in="c" stdDeviation="1.3"/></filter>
<g clip-path="url(#c1)"><rect x="85" y="1600" width="270" height="672" fill="#000"/><g filter="url(#f1)">
<rect x="55" y="1570" width="30" height="30" fill="#0c0c0c"/>
<rect x="85" y="1570" width="30" height="30" fill="#0c0c0c"/>
<rect x="115" y="1570" width="30" height="30" fill="#0c0c0c"/>
<rect x="145" y="1570" width="30" height="30" fill="#0d0d0d"/>
<rect x="175" y="1570" width="30" height="30" fill="#191919"/>
<rect x="205" y="1570" width="30" height="30" fill="#2b2b2b"/>
<rect x="235" y="1570" width="30" height="30" fill="#171717"/>
<rect x="265" y="1570" width="30" height="30" fill="#1d1d1d"/>
<rect x="295" y="1570" width="30" height="30" fill="#2c2c2c"/>
<rect x="325" y="1570" width="30" height="30" fill="#2a2a2a"/>
<rect x="355" y="1570" width="30" height="30" fill="#2a2a2a"/>
<rect x="55" y="1600" width="30" height="30" fill="#0c0c0c"/>
<rect x="85" y="1600" width="30" height="30" fill="#0c0c0c"/>
<rect x="115" y="1600" width="30" height="30" fill="#0c0c0c"/>
<rect x="145" y="1600" width="30" height="30" fill="#0d0d0d"/>
<rect x="175" y="1600" width="30" height="30" fill="#191919"/>
<rect x="205" y="1600" width="30" height="30" fill="#2b2b2b"/>
<rect x="235" y="1600" width="30" height="30" fill="#171717"/>
<rect x="265" y="1600" width="30" height="30" fill="#1d1d1d"/>
<rect x="295" y="1600" width="30" height="30" fill="#2c2c2c"/>
<rect x="325" y="1600" width="30" height="30" fill="#2a2a2a"/>
<rect x="355" y="1600" width="30" height="30" fill="#2a2a2a"/>
<rect x="55" y="1630" width="30" height="30" fill="#030303"/>
<rect x="85" y="1630" width="30" height="30" fill="#030303"/>
<rect x="115" y="1630" width="30" height="30" fill="#000000"/>
<rect x="145" y="1630" width="30" height="30" fill="#050505"/>
<rect x="175" y="1630" width="30" height="30" fill="#373737"/>
<rect x="205" y="1630" width="30" height="30" fill="#131313"/>
<rect x="235" y="1630" width="30" height="30" fill="#131313"/>
<rect x="265" y="1630" width="30" height="30" fill="#262626"/>
<rect x="295" y="1630" width="30" height="30" fill="#303030"/>
<rect x="325" y="1630" width="30" height="30" fill="#292929"/>
<rect x="355" y="1630" width="30" height="30" fill="#292929"/>
<rect x="55" y="1660" width="30" height="30" fill="#2b2b2b"/>
<rect x="85" y="1660" width="30" height="30" fill="#2b2b2b"/>
<rect x="115" y="1660" width="30" height="30" fill="#3d3d3d"/>
<rect x="145" y="1660" width="30" height="30" fill="#242424"/>
<rect x="175" y="1660" width="30" height="30" fill="#2d2d2d"/>
<rect x="205" y="1660" width="30" height="30" fill="#3f3f3f"/>
<rect x="235" y="1660" width="30" height="30" fill="#303030"/>
<rect x="265" y="1660" width="30" height="30" fill="#2f2f2f"/>
<rect x="295" y="1660" width="30" height="30" fill="#282828"/>
<rect x="325" y="1660" width="30" height="30" fill="#141414"/>
<rect x="355" y="1660" width="30" height="30" fill="#141414"/>
<rect x="55" y="1690" width="30" height="30" fill="#373737"/>
<rect x="85" y="1690" width="30" height="30" fill="#373737"/>
<rect x="115" y="1690" width="30" height="30" fill="#252525"/>
<rect x="145" y="1690" width="30" height="30" fill="#282828"/>
<rect x="175" y="1690" width="30" height="30" fill="#282828"/>
<rect x="205" y="1690" width="30" height="30" fill="#373737"/>
<rect x="235" y="1690" width="30" height="30" fill="#151515"/>
<rect x="265" y="1690" width="30" height="30" fill="#090909"/>
<rect x="295" y="1690" width="30" height="30" fill="#0e0e0e"/>
<rect x="325" y="1690" width="30" height="30" fill="#0a0a0a"/>
<rect x="355" y="1690" width="30" height="30" fill="#0a0a0a"/>
<rect x="55" y="1720" width="30" height="30" fill="#181818"/>
<rect x="85" y="1720" width="30" height="30" fill="#181818"/>
<rect x="115" y="1720" width="30" height="30" fill="#2d2d2d"/>
<rect x="145" y="1720" width="30" height="30" fill="#5f5f5f"/>
<rect x="175" y="1720" width="30" height="30" fill="#606060"/>
<rect x="205" y="1720" width="30" height="30" fill="#292929"/>
<rect x="235" y="1720" width="30" height="30" fill="#202020"/>
<rect x="265" y="1720" width="30" height="30" fill="#111111"/>
<rect x="295" y="1720" width="30" height="30" fill="#0a0a0a"/>
<rect x="325" y="1720" width="30" height="30" fill="#101010"/>
<rect x="355" y="1720" width="30" height="30" fill="#101010"/>
<rect x="55" y="1750" width="30" height="30" fill="#252525"/>
<rect x="85" y="1750" width="30" height="30" fill="#252525"/>
<rect x="115" y="1750" width="30" height="30" fill="#353535"/>
<rect x="145" y="1750" width="30" height="30" fill="#6c6c6c"/>
<rect x="175" y="1750" width="30" height="30" fill="#555555"/>
<rect x="205" y="1750" width="30" height="30" fill="#343434"/>
<rect x="235" y="1750" width="30" height="30" fill="#000000"/>
<rect x="265" y="1750" width="30" height="30" fill="#1d1d1d"/>
<rect x="295" y="1750" width="30" height="30" fill="#131313"/>
<rect x="325" y="1750" width="30" height="30" fill="#181818"/>
<rect x="355" y="1750" width="30" height="30" fill="#181818"/>
<rect x="55" y="1780" width="30" height="30" fill="#0e0e0e"/>
<rect x="85" y="1780" width="30" height="30" fill="#0e0e0e"/>
<rect x="115" y="1780" width="30" height="30" fill="#232323"/>
<rect x="145" y="1780" width="30" height="30" fill="#060606"/>
<rect x="175" y="1780" width="30" height="30" fill="#848484"/>
<rect x="205" y="1780" width="30" height="30" fill="#a7a7a7"/>
<rect x="235" y="1780" width="30" height="30" fill="#444444"/>
<rect x="265" y="1780" width="30" height="30" fill="#4b4b4b"/>
<rect x="295" y="1780" width="30" height="30" fill="#414141"/>
<rect x="325" y="1780" width="30" height="30" fill="#3b3b3b"/>
<rect x="355" y="1780" width="30" height="30" fill="#3b3b3b"/>
<rect x="55" y="1810" width="30" height="30" fill="#111111"/>
<rect x="85" y="1810" width="30" height="30" fill="#111111"/>
<rect x="115" y="1810" width="30" height="30" fill="#414141"/>
<rect x="145" y="1810" width="30" height="30" fill="#0d0d0d"/>
<rect x="175" y="1810" width="30" height="30" fill="#383838"/>
<rect x="205" y="1810" width="30" height="30" fill="#c4c4c4"/>
<rect x="235" y="1810" width="30" height="30" fill="#565656"/>
<rect x="265" y="1810" width="30" height="30" fill="#353535"/>
<rect x="295" y="1810" width="30" height="30" fill="#0f0f0f"/>
<rect x="325" y="1810" width="30" height="30" fill="#1b1b1b"/>
<rect x="355" y="1810" width="30" height="30" fill="#1b1b1b"/>
<rect x="55" y="1840" width="30" height="30" fill="#0d0d0d"/>
<rect x="85" y="1840" width="30" height="30" fill="#0d0d0d"/>
<rect x="115" y="1840" width="30" height="30" fill="#5b5b5b"/>
<rect x="145" y="1840" width="30" height="30" fill="#313131"/>
<rect x="175" y="1840" width="30" height="30" fill="#101010"/>
<rect x="205" y="1840" width="30" height="30" fill="#2a2a2a"/>
<rect x="235" y="1840" width="30" height="30" fill="#858585"/>
<rect x="265" y="1840" width="30" height="30" fill="#2a2a2a"/>
<rect x="295" y="1840" width="30" height="30" fill="#0b0b0b"/>
<rect x="325" y="1840" width="30" height="30" fill="#141414"/>
<rect x="355" y="1840" width="30" height="30" fill="#141414"/>
<rect x="55" y="1870" width="30" height="30" fill="#1a1a1a"/>
<rect x="85" y="1870" width="30" height="30" fill="#1a1a1a"/>
<rect x="115" y="1870" width="30" height="30" fill="#585858"/>
<rect x="145" y="1870" width="30" height="30" fill="#0f0f0f"/>
<rect x="175" y="1870" width="30" height="30" fill="#232323"/>
<rect x="205" y="1870" width="30" height="30" fill="#303030"/>
<rect x="235" y="1870" width="30" height="30" fill="#404040"/>
<rect x="265" y="1870" width="30" height="30" fill="#737373"/>
<rect x="295" y="1870" width="30" height="30" fill="#373737"/>
<rect x="325" y="1870" width="30" height="30" fill="#4f4f4f"/>
<rect x="355" y="1870" width="30" height="30" fill="#4f4f4f"/>
<rect x="55" y="1900" width="30" height="30" fill="#101010"/>
<rect x="85" y="1900" width="30" height="30" fill="#101010"/>
<rect x="115" y="1900" width="30" height="30" fill="#222222"/>
<rect x="145" y="1900" width="30" height="30" fill="#1c1c1c"/>
<rect x="175" y="1900" width="30" height="30" fill="#333333"/>
<rect x="205" y="1900" width="30" height="30" fill="#555555"/>
<rect x="235" y="1900" width="30" height="30" fill="#464646"/>
<rect x="265" y="1900" width="30" height="30" fill="#737373"/>
<rect x="295" y="1900" width="30" height="30" fill="#616161"/>
<rect x="325" y="1900" width="30" height="30" fill="#2f2f2f"/>
<rect x="355" y="1900" width="30" height="30" fill="#2f2f2f"/>
<rect x="55" y="1930" width="30" height="30" fill="#0a0a0a"/>
<rect x="85" y="1930" width="30" height="30" fill="#0a0a0a"/>
<rect x="115" y="1930" width="30" height="30" fill="#000000"/>
<rect x="145" y="1930" width="30" height="30" fill="#232323"/>
<rect x="175" y="1930" width="30" height="30" fill="#404040"/>
<rect x="205" y="1930" width="30" height="30" fill="#212121"/>
<rect x="235" y="1930" width="30" height="30" fill="#5e5e5e"/>
<rect x="265" y="1930" width="30" height="30" fill="#4a4a4a"/>
<rect x="295" y="1930" width="30" height="30" fill="#4f4f4f"/>
<rect x="325" y="1930" width="30" height="30" fill="#414141"/>
<rect x="355" y="1930" width="30" height="30" fill="#414141"/>
<rect x="55" y="1960" width="30" height="30" fill="#080808"/>
<rect x="85" y="1960" width="30" height="30" fill="#080808"/>
<rect x="115" y="1960" width="30" height="30" fill="#070707"/>
<rect x="145" y="1960" width="30" height="30" fill="#080808"/>
<rect x="175" y="1960" width="30" height="30" fill="#2e2e2e"/>
<rect x="205" y="1960" width="30" height="30" fill="#3f3f3f"/>
<rect x="235" y="1960" width="30" height="30" fill="#818181"/>
<rect x="265" y="1960" width="30" height="30" fill="#696969"/>
<rect x="295" y="1960" width="30" height="30" fill="#343434"/>
<rect x="325" y="1960" width="30" height="30" fill="#3b3b3b"/>
<rect x="355" y="1960" width="30" height="30" fill="#3b3b3b"/>
<rect x="55" y="1990" width="30" height="30" fill="#272727"/>
<rect x="85" y="1990" width="30" height="30" fill="#272727"/>
<rect x="115" y="1990" width="30" height="30" fill="#4a4a4a"/>
<rect x="145" y="1990" width="30" height="30" fill="#515151"/>
<rect x="175" y="1990" width="30" height="30" fill="#101010"/>
<rect x="205" y="1990" width="30" height="30" fill="#282828"/>
<rect x="235" y="1990" width="30" height="30" fill="#161616"/>
<rect x="265" y="1990" width="30" height="30" fill="#2d2d2d"/>
<rect x="295" y="1990" width="30" height="30" fill="#1d1d1d"/>
<rect x="325" y="1990" width="30" height="30" fill="#232323"/>
<rect x="355" y="1990" width="30" height="30" fill="#232323"/>
<rect x="55" y="2020" width="30" height="30" fill="#282828"/>
<rect x="85" y="2020" width="30" height="30" fill="#282828"/>
<rect x="115" y="2020" width="30" height="30" fill="#444444"/>
<rect x="145" y="2020" width="30" height="30" fill="#383838"/>
<rect x="175" y="2020" width="30" height="30" fill="#676767"/>
<rect x="205" y="2020" width="30" height="30" fill="#2e2e2e"/>
<rect x="235" y="2020" width="30" height="30" fill="#616161"/>
<rect x="265" y="2020" width="30" height="30" fill="#373737"/>
<rect x="295" y="2020" width="30" height="30" fill="#2a2a2a"/>
<rect x="325" y="2020" width="30" height="30" fill="#323232"/>
<rect x="355" y="2020" width="30" height="30" fill="#323232"/>
<rect x="55" y="2050" width="30" height="30" fill="#181818"/>
<rect x="85" y="2050" width="30" height="30" fill="#181818"/>
<rect x="115" y="2050" width="30" height="30" fill="#313131"/>
<rect x="145" y="2050" width="30" height="30" fill="#1b1b1b"/>
<rect x="175" y="2050" width="30" height="30" fill="#313131"/>
<rect x="205" y="2050" width="30" height="30" fill="#212121"/>
<rect x="235" y="2050" width="30" height="30" fill="#0c0c0c"/>
<rect x="265" y="2050" width="30" height="30" fill="#676767"/>
<rect x="295" y="2050" width="30" height="30" fill="#3f3f3f"/>
<rect x="325" y="2050" width="30" height="30" fill="#2b2b2b"/>
<rect x="355" y="2050" width="30" height="30" fill="#2b2b2b"/>
<rect x="55" y="2080" width="30" height="30" fill="#0b0b0b"/>
<rect x="85" y="2080" width="30" height="30" fill="#0b0b0b"/>
<rect x="115" y="2080" width="30" height="30" fill="#222222"/>
<rect x="145" y="2080" width="30" height="30" fill="#1e1e1e"/>
<rect x="175" y="2080" width="30" height="30" fill="#1a1a1a"/>
<rect x="205" y="2080" width="30" height="30" fill="#2b2b2b"/>
<rect x="235" y="2080" width="30" height="30" fill="#1e1e1e"/>
<rect x="265" y="2080" width="30" height="30" fill="#303030"/>
<rect x="295" y="2080" width="30" height="30" fill="#393939"/>
<rect x="325" y="2080" width="30" height="30" fill="#2e2e2e"/>
<rect x="355" y="2080" width="30" height="30" fill="#2e2e2e"/>
<rect x="55" y="2110" width="30" height="30" fill="#0a0a0a"/>
<rect x="85" y="2110" width="30" height="30" fill="#0a0a0a"/>
<rect x="115" y="2110" width="30" height="30" fill="#101010"/>
<rect x="145" y="2110" width="30" height="30" fill="#222222"/>
<rect x="175" y="2110" width="30" height="30" fill="#222222"/>
<rect x="205" y="2110" width="30" height="30" fill="#242424"/>
<rect x="235" y="2110" width="30" height="30" fill="#1d1d1d"/>
<rect x="265" y="2110" width="30" height="30" fill="#3e3e3e"/>
<rect x="295" y="2110" width="30" height="30" fill="#333333"/>
<rect x="325" y="2110" width="30" height="30" fill="#1a1a1a"/>
<rect x="355" y="2110" width="30" height="30" fill="#1a1a1a"/>
<rect x="55" y="2140" width="30" height="30" fill="#060606"/>
<rect x="85" y="2140" width="30" height="30" fill="#060606"/>
<rect x="115" y="2140" width="30" height="30" fill="#010101"/>
<rect x="145" y="2140" width="30" height="30" fill="#1d1d1d"/>
<rect x="175" y="2140" width="30" height="30" fill="#282828"/>
<rect x="205" y="2140" width="30" height="30" fill="#111111"/>
<rect x="235" y="2140" width="30" height="30" fill="#2c2c2c"/>
<rect x="265" y="2140" width="30" height="30" fill="#222222"/>
<rect x="295" y="2140" width="30" height="30" fill="#1d1d1d"/>
<rect x="325" y="2140" width="30" height="30" fill="#262626"/>
<rect x="355" y="2140" width="30" height="30" fill="#262626"/>
<rect x="55" y="2170" width="30" height="30" fill="#030303"/>
<rect x="85" y="2170" width="30" height="30" fill="#030303"/>
<rect x="115" y="2170" width="30" height="30" fill="#050505"/>
<rect x="145" y="2170" width="30" height="30" fill="#0a0a0a"/>
<rect x="175" y="2170" width="30" height="30" fill="#0b0b0b"/>
<rect x="205" y="2170" width="30" height="30" fill="#1d1d1d"/>
<rect x="235" y="2170" width="30" height="30" fill="#252525"/>
<rect x="265" y="2170" width="30" height="30" fill="#333333"/>
<rect x="295" y="2170" width="30" height="30" fill="#363636"/>
<rect x="325" y="2170" width="30" height="30" fill="#393939"/>
<rect x="355" y="2170" width="30" height="30" fill="#393939"/>
<rect x="55" y="2200" width="30" height="30" fill="#040404"/>
<rect x="85" y="2200" width="30" height="30" fill="#040404"/>
<rect x="115" y="2200" width="30" height="30" fill="#040404"/>
<rect x="145" y="2200" width="30" height="30" fill="#040404"/>
<rect x="175" y="2200" width="30" height="30" fill="#040404"/>
<rect x="205" y="2200" width="30" height="30" fill="#101010"/>
<rect x="235" y="2200" width="30" height="30" fill="#343434"/>
<rect x="265" y="2200" width="30" height="30" fill="#1b1b1b"/>
<rect x="295" y="2200" width="30" height="30" fill="#1d1d1d"/>
<rect x="325" y="2200" width="30" height="30" fill="#0c0c0c"/>
<rect x="355" y="2200" width="30" height="30" fill="#0c0c0c"/>
<rect x="55" y="2230" width="30" height="30" fill="#030303"/>
<rect x="85" y="2230" width="30" height="30" fill="#030303"/>
<rect x="115" y="2230" width="30" height="30" fill="#040404"/>
<rect x="145" y="2230" width="30" height="30" fill="#030303"/>
<rect x="175" y="2230" width="30" height="30" fill="#030303"/>
<rect x="205" y="2230" width="30" height="30" fill="#191919"/>
<rect x="235" y="2230" width="30" height="30" fill="#2d2d2d"/>
<rect x="265" y="2230" width="30" height="30" fill="#2f2f2f"/>
<rect x="295" y="2230" width="30" height="30" fill="#212121"/>
<rect x="325" y="2230" width="30" height="30" fill="#282828"/>
<rect x="355" y="2230" width="30" height="30" fill="#282828"/>
<rect x="55" y="2260" width="30" height="30" fill="#050505"/>
<rect x="85" y="2260" width="30" height="30" fill="#050505"/>
<rect x="115" y="2260" width="30" height="30" fill="#030303"/>
<rect x="145" y="2260" width="30" height="30" fill="#030303"/>
<rect x="175" y="2260" width="30" height="30" fill="#060606"/>
<rect x="205" y="2260" width="30" height="30" fill="#090909"/>
<rect x="235" y="2260" width="30" height="30" fill="#1c1c1c"/>
<rect x="265" y="2260" width="30" height="30" fill="#1a1a1a"/>
<rect x="295" y="2260" width="30" height="30" fill="#414141"/>
<rect x="325" y="2260" width="30" height="30" fill="#131313"/>
<rect x="355" y="2260" width="30" height="30" fill="#131313"/>
<rect x="55" y="2290" width="30" height="30" fill="#050505"/>
<rect x="85" y="2290" width="30" height="30" fill="#050505"/>
<rect x="115" y="2290" width="30" height="30" fill="#030303"/>
<rect x="145" y="2290" width="30" height="30" fill="#030303"/>
<rect x="175" y="2290" width="30" height="30" fill="#060606"/>
<rect x="205" y="2290" width="30" height="30" fill="#090909"/>
<rect x="235" y="2290" width="30" height="30" fill="#1c1c1c"/>
<rect x="265" y="2290" width="30" height="30" fill="#1a1a1a"/>
<rect x="295" y="2290" width="30" height="30" fill="#414141"/>
<rect x="325" y="2290" width="30" height="30" fill="#131313"/>
<rect x="355" y="2290" width="30" height="30" fill="#131313"/>
</g>
<filter id="fb1" color-interpolation-filters="sRGB"><feGaussianBlur stdDeviation="1.1"/></filter>
<g fill="none" stroke-linecap="round" filter="url(#fb1)"><path d="M210.3,1941.2Q213.3,1938.8 213.8,1935.1" stroke="#a8a8a8" stroke-width="1.5"/><path d="M302.8,2065.5Q305.4,2058.0 310.2,2051.6" stroke="#f7f7f7" stroke-width="1.6"/><path d="M136.2,1763.0Q138.8,1767.6 138.0,1772.9" stroke="#d5d5d5" stroke-width="2.2"/><path d="M219.4,2044.8Q223.5,2045.4 227.0,2047.6" stroke="#afafaf" stroke-width="1.7"/><path d="M342.7,2168.7Q345.9,2166.9 349.0,2165.0" stroke="#c0c0c0" stroke-width="1.9"/><path d="M344.3,2108.8Q348.3,2108.4 351.9,2110.3" stroke="#6a6a6a" stroke-width="2.1"/><path d="M120.2,2032.2Q125.1,2034.3 126.6,2039.4" stroke="#cecece" stroke-width="1.8"/><path d="M314.8,2031.0Q321.9,2035.2 325.8,2042.5" stroke="#878787" stroke-width="1.8"/><path d="M150.4,2003.8Q151.1,1998.5 155.0,1994.9" stroke="#8c8c8c" stroke-width="1.6"/><path d="M329.4,2148.9Q331.9,2146.0 335.8,2145.9" stroke="#727272" stroke-width="2.5"/><path d="M149.1,2073.0Q154.2,2067.9 160.9,2065.4" stroke="#636363" stroke-width="1.7"/><path d="M101.3,1718.9Q106.1,1721.9 111.6,1723.5" stroke="#d9d9d9" stroke-width="2.6"/><path d="M122.8,1624.3Q121.1,1632.4 113.9,1636.4" stroke="#424242" stroke-width="2.2"/><path d="M214.7,2090.4Q215.4,2098.6 212.4,2106.2" stroke="#aaaaaa" stroke-width="2.3"/><path d="M321.7,2088.8Q328.1,2087.7 334.4,2085.9" stroke="#d0d0d0" stroke-width="1.5"/><path d="M328.6,2043.1Q323.0,2048.4 321.3,2056.0" stroke="#9d9d9d" stroke-width="2.4"/><path d="M330.9,2190.8Q336.1,2193.1 341.3,2195.5" stroke="#e6e6e6" stroke-width="2.4"/><path d="M276.3,2237.5Q279.4,2236.0 282.2,2233.9" stroke="#919191" stroke-width="2.0"/><path d="M206.7,1650.9Q214.2,1650.3 221.2,1652.7" stroke="#949494" stroke-width="1.8"/><path d="M297.9,1613.6Q303.0,1612.4 307.9,1614.4" stroke="#6b6b6b" stroke-width="1.6"/><path d="M254.5,2039.8Q262.5,2040.6 269.7,2036.9" stroke="#e0e0e0" stroke-width="1.6"/><path d="M133.2,1783.3Q133.5,1789.7 132.4,1796.0" stroke="#cccccc" stroke-width="1.9"/><path d="M298.0,2208.2Q305.4,2206.0 313.1,2205.7" stroke="#dcdcdc" stroke-width="1.9"/><path d="M339.0,1911.6Q342.4,1909.9 346.2,1910.6" stroke="#dddddd" stroke-width="2.3"/><path d="M296.9,1695.0Q294.9,1700.2 290.0,1703.1" stroke="#696969" stroke-width="2.5"/><path d="M217.5,2236.9Q220.1,2234.2 223.3,2232.2" stroke="#5a5a5a" stroke-width="2.4"/><path d="M235.6,1809.7Q228.2,1809.9 222.0,1814.1" stroke="#fafafa" stroke-width="2.6"/><path d="M226.0,1984.8Q231.5,1985.4 236.7,1987.0" stroke="#8e8e8e" stroke-width="2.6"/><path d="M236.4,1929.9Q235.5,1926.9 237.0,1924.2" stroke="#c0c0c0" stroke-width="2.0"/><path d="M327.2,1920.2Q330.9,1919.0 334.3,1920.8" stroke="#9d9d9d" stroke-width="2.3"/><path d="M91.1,1730.9Q93.7,1736.7 97.8,1741.5" stroke="#acacac" stroke-width="1.5"/><path d="M152.4,1733.3Q153.9,1738.0 156.1,1742.4" stroke="#f8f8f8" stroke-width="1.6"/><path d="M139.9,2023.9Q143.4,2019.5 144.1,2013.9" stroke="#e9e9e9" stroke-width="2.4"/><path d="M327.8,1812.5Q336.1,1814.4 339.5,1822.1" stroke="#a8a8a8" stroke-width="1.6"/><path d="M149.4,2087.8Q151.0,2085.2 152.3,2082.4" stroke="#989898" stroke-width="1.6"/><path d="M193.3,2060.0Q195.8,2063.0 199.7,2063.5" stroke="#a9a9a9" stroke-width="2.3"/><path d="M220.2,2060.3Q223.1,2060.5 226.0,2061.0" stroke="#9b9b9b" stroke-width="2.1"/><path d="M124.4,1724.5Q117.4,1727.7 110.2,1724.9" stroke="#7e7e7e" stroke-width="1.5"/><path d="M200.7,2003.5Q205.3,1998.7 206.2,1992.1" stroke="#a9a9a9" stroke-width="2.3"/><path d="M194.0,1731.6Q199.4,1729.7 204.7,1732.1" stroke="#fafafa" stroke-width="2.2"/><path d="M246.3,1938.8Q240.1,1942.3 233.0,1942.6" stroke="#fafafa" stroke-width="2.4"/><path d="M194.1,2085.1Q198.5,2084.2 202.9,2084.4" stroke="#888888" stroke-width="1.7"/><path d="M339.1,2047.2Q344.5,2044.2 350.0,2041.6" stroke="#959595" stroke-width="2.6"/><path d="M98.6,1731.8Q101.6,1733.1 102.9,1736.1" stroke="#a3a3a3" stroke-width="2.0"/><path d="M256.6,2143.3Q260.8,2147.8 266.8,2148.9" stroke="#7d7d7d" stroke-width="1.6"/><path d="M218.3,2010.4Q225.8,2008.6 233.4,2007.2" stroke="#cfcfcf" stroke-width="1.8"/><path d="M161.9,2039.9Q165.9,2038.7 168.9,2035.8" stroke="#969696" stroke-width="1.6"/><path d="M279.4,1914.7Q286.9,1914.2 292.1,1908.9" stroke="#fafafa" stroke-width="1.9"/><path d="M207.5,1776.5Q204.0,1779.7 200.2,1782.7" stroke="#fafafa" stroke-width="2.5"/><path d="M282.5,1760.6Q277.3,1766.0 271.0,1769.9" stroke="#6b6b6b" stroke-width="1.7"/><path d="M269.3,1979.4Q273.8,1974.5 280.4,1975.0" stroke="#fafafa" stroke-width="2.5"/><path d="M199.4,2018.6Q204.9,2019.1 209.9,2021.5" stroke="#d5d5d5" stroke-width="2.2"/><path d="M185.4,1921.5Q189.4,1919.3 194.0,1919.9" stroke="#707070" stroke-width="1.5"/><path d="M142.3,1885.2Q145.6,1878.9 146.5,1871.9" stroke="#afafaf" stroke-width="2.3"/><path d="M332.7,1887.4Q333.9,1884.3 332.4,1881.4" stroke="#878787" stroke-width="2.1"/><path d="M215.4,2060.1Q221.4,2063.4 226.0,2068.5" stroke="#717171" stroke-width="1.8"/><path d="M280.0,2065.9Q283.5,2065.2 285.6,2062.4" stroke="#f8f8f8" stroke-width="2.1"/><path d="M183.3,1844.3Q183.8,1849.1 181.5,1853.4" stroke="#b2b2b2" stroke-width="2.4"/><path d="M322.0,1789.4Q321.6,1794.8 320.5,1800.0" stroke="#c6c6c6" stroke-width="2.2"/><path d="M297.0,1657.1Q289.9,1656.6 284.5,1661.2" stroke="#999999" stroke-width="1.6"/><path d="M285.6,2035.8Q287.8,2032.7 290.1,2029.8" stroke="#f5f5f5" stroke-width="1.9"/><path d="M217.8,1960.9Q219.0,1954.6 222.3,1948.9" stroke="#fafafa" stroke-width="2.4"/><path d="M257.2,1951.9Q264.2,1952.1 271.0,1951.2" stroke="#c1c1c1" stroke-width="2.3"/><path d="M351.6,1852.5Q355.2,1850.9 356.6,1847.2" stroke="#626262" stroke-width="1.5"/><path d="M259.3,2120.8Q261.7,2122.4 263.8,2124.3" stroke="#a9a9a9" stroke-width="1.4"/><path d="M114.2,1724.5Q112.1,1727.7 109.4,1730.4" stroke="#8b8b8b" stroke-width="1.6"/><path d="M342.4,1924.2Q345.0,1923.2 347.6,1922.3" stroke="#cbcbcb" stroke-width="1.7"/><path d="M351.4,2041.5Q353.2,2039.7 354.5,2037.4" stroke="#bdbdbd" stroke-width="2.3"/><path d="M248.0,1706.2Q252.1,1708.2 253.9,1712.4" stroke="#737373" stroke-width="2.2"/><path d="M125.5,2117.1Q132.6,2115.7 138.4,2111.4" stroke="#6b6b6b" stroke-width="1.5"/><path d="M231.2,1953.1Q232.6,1960.6 239.1,1964.8" stroke="#cbcbcb" stroke-width="2.0"/><path d="M113.4,1865.0Q118.8,1859.2 125.7,1855.3" stroke="#717171" stroke-width="1.9"/><path d="M163.1,1852.8Q165.1,1856.5 165.9,1860.6" stroke="#949494" stroke-width="1.6"/><path d="M307.4,1662.6Q306.4,1665.5 304.2,1667.8" stroke="#6d6d6d" stroke-width="1.9"/><path d="M310.1,1998.1Q313.5,1999.8 317.1,2000.9" stroke="#6e6e6e" stroke-width="2.5"/><path d="M174.1,1877.0Q178.9,1877.6 183.2,1879.7" stroke="#989898" stroke-width="1.4"/><path d="M113.6,1853.9Q118.8,1849.4 125.0,1846.3" stroke="#878787" stroke-width="2.3"/><path d="M327.9,1968.2Q326.6,1973.9 321.4,1976.5" stroke="#bebebe" stroke-width="2.3"/><path d="M253.7,1733.4Q253.5,1737.3 251.9,1740.9" stroke="#616161" stroke-width="2.5"/><path d="M182.2,1911.1Q174.8,1913.8 167.2,1915.8" stroke="#9e9e9e" stroke-width="2.1"/><path d="M304.9,2003.9Q297.7,2004.4 291.6,2008.4" stroke="#9d9d9d" stroke-width="2.4"/><path d="M134.9,1968.0Q132.3,1969.3 129.6,1968.2" stroke="#545454" stroke-width="1.8"/><path d="M265.6,2095.2Q271.2,2094.2 276.8,2092.9" stroke="#717171" stroke-width="1.9"/><path d="M315.0,1874.9Q319.9,1872.3 325.0,1869.8" stroke="#b8b8b8" stroke-width="1.9"/><path d="M328.3,1815.7Q322.5,1819.2 315.9,1819.7" stroke="#8a8a8a" stroke-width="2.3"/><path d="M167.0,1998.5Q170.0,1996.8 170.7,1993.3" stroke="#b9b9b9" stroke-width="2.0"/><path d="M198.4,2140.5Q202.8,2134.9 209.9,2134.1" stroke="#595959" stroke-width="2.4"/><path d="M85.2,1764.3Q89.7,1763.5 93.6,1766.0" stroke="#a8a8a8" stroke-width="1.9"/><path d="M180.9,1993.2Q182.2,1990.6 185.0,1989.8" stroke="#c7c7c7" stroke-width="2.0"/><path d="M180.3,1917.5Q187.6,1919.6 194.9,1917.4" stroke="#a3a3a3" stroke-width="1.6"/><path d="M321.8,1634.3Q327.5,1638.3 329.0,1645.1" stroke="#afafaf" stroke-width="2.3"/><path d="M204.7,1653.7Q201.2,1656.3 199.6,1660.4" stroke="#727272" stroke-width="1.7"/><path d="M227.1,1956.6Q232.4,1959.4 235.3,1964.8" stroke="#9f9f9f" stroke-width="1.7"/><path d="M258.5,1841.8Q258.6,1834.9 261.2,1828.5" stroke="#f7f7f7" stroke-width="2.5"/><path d="M241.0,1935.2Q245.8,1931.9 251.0,1929.4" stroke="#fafafa" stroke-width="1.6"/><path d="M201.9,1896.8Q195.5,1899.2 188.7,1900.8" stroke="#ababab" stroke-width="2.3"/><path d="M149.0,1698.8Q150.8,1700.9 152.0,1703.4" stroke="#949494" stroke-width="1.7"/><path d="M131.2,1771.6Q126.6,1776.3 120.3,1778.0" stroke="#838383" stroke-width="1.9"/><path d="M285.4,1627.1Q291.7,1631.0 298.7,1633.4" stroke="#6f6f6f" stroke-width="1.9"/><path d="M290.3,2092.8Q293.0,2089.5 297.2,2089.2" stroke="#9d9d9d" stroke-width="1.8"/><path d="M349.0,2010.2Q353.7,2012.3 358.4,2010.2" stroke="#808080" stroke-width="2.2"/><path d="M187.5,2124.5Q185.4,2128.6 186.2,2133.2" stroke="#5c5c5c" stroke-width="1.7"/><path d="M210.8,1807.6Q209.0,1815.9 202.3,1821.1" stroke="#f8f8f8" stroke-width="1.9"/><path d="M277.4,1780.8Q274.0,1781.0 270.8,1782.2" stroke="#bababa" stroke-width="2.3"/><path d="M329.0,1614.5Q333.9,1614.0 337.9,1616.9" stroke="#7c7c7c" stroke-width="2.3"/><path d="M245.2,1622.1Q242.8,1626.6 243.8,1631.7" stroke="#9d9d9d" stroke-width="1.7"/><path d="M280.2,2047.3Q277.6,2049.9 275.7,2053.0" stroke="#c5c5c5" stroke-width="2.4"/><path d="M145.8,1796.5Q149.2,1798.8 153.1,1797.5" stroke="#a0a0a0" stroke-width="2.1"/><path d="M302.6,2254.6Q308.0,2251.5 314.2,2250.3" stroke="#adadad" stroke-width="2.4"/><path d="M148.1,2024.7Q152.5,2027.7 157.7,2026.4" stroke="#c0c0c0" stroke-width="1.8"/><path d="M218.7,1788.3Q217.5,1793.2 219.5,1797.7" stroke="#fafafa" stroke-width="1.7"/><path d="M233.8,2070.1Q238.6,2071.8 243.1,2069.3" stroke="#8a8a8a" stroke-width="2.1"/><path d="M211.1,1819.0Q213.3,1820.8 213.6,1823.6" stroke="#fafafa" stroke-width="1.7"/><path d="M253.8,2016.9Q250.6,2020.9 245.5,2021.8" stroke="#cccccc" stroke-width="2.5"/><path d="M125.3,1729.8Q127.8,1736.3 134.6,1738.2" stroke="#bfbfbf" stroke-width="1.9"/><path d="M232.4,2019.3Q239.5,2018.1 245.9,2014.8" stroke="#c0c0c0" stroke-width="2.5"/><path d="M127.9,2017.4Q132.2,2013.8 136.7,2010.5" stroke="#939393" stroke-width="1.7"/><path d="M172.4,1720.0Q175.3,1721.9 178.7,1721.2" stroke="#8d8d8d" stroke-width="2.2"/><path d="M319.0,1636.6Q314.4,1639.3 310.5,1642.9" stroke="#a4a4a4" stroke-width="1.7"/><path d="M277.5,1819.9Q272.7,1825.0 265.8,1826.2" stroke="#bababa" stroke-width="1.9"/><path d="M265.1,1755.6Q265.5,1758.4 263.7,1760.6" stroke="#8c8c8c" stroke-width="1.6"/><path d="M270.0,1881.8Q275.0,1880.7 279.1,1883.9" stroke="#989898" stroke-width="2.3"/><path d="M281.7,2266.7Q281.1,2271.0 280.6,2275.3" stroke="#777777" stroke-width="1.8"/><path d="M300.3,2162.9Q304.8,2161.7 309.0,2159.5" stroke="#b8b8b8" stroke-width="2.1"/><path d="M216.3,1681.5Q214.9,1683.8 215.3,1686.6" stroke="#aaaaaa" stroke-width="1.7"/><path d="M154.8,1635.1Q156.4,1643.0 163.2,1647.4" stroke="#4b4b4b" stroke-width="2.0"/><path d="M261.7,2018.4Q256.5,2011.5 258.8,2003.3" stroke="#d1d1d1" stroke-width="2.4"/><path d="M280.0,1718.7Q282.7,1721.3 286.4,1721.2" stroke="#4d4d4d" stroke-width="2.3"/><path d="M168.4,1945.4Q172.1,1944.5 175.7,1945.8" stroke="#909090" stroke-width="2.3"/><path d="M291.5,2261.6Q297.7,2256.7 305.3,2254.7" stroke="#6f6f6f" stroke-width="2.5"/><path d="M231.9,2056.7Q233.1,2059.5 234.7,2062.2" stroke="#6e6e6e" stroke-width="2.0"/><path d="M193.5,1816.3Q201.5,1818.6 205.9,1825.5" stroke="#d7d7d7" stroke-width="2.3"/><path d="M124.8,2026.2Q124.9,2032.7 120.5,2037.5" stroke="#dddddd" stroke-width="2.2"/><path d="M220.8,1981.3Q224.3,1975.1 226.8,1968.4" stroke="#c1c1c1" stroke-width="1.7"/><path d="M246.6,1984.7Q249.2,1984.0 251.7,1983.0" stroke="#fafafa" stroke-width="2.1"/><path d="M352.1,2095.4Q356.5,2090.0 356.4,2083.0" stroke="#b7b7b7" stroke-width="2.0"/><path d="M222.6,2266.8Q229.9,2268.7 237.2,2267.1" stroke="#717171" stroke-width="1.9"/><path d="M229.3,2180.9Q233.3,2179.8 237.3,2181.0" stroke="#686868" stroke-width="1.7"/><path d="M125.8,1846.0Q123.7,1847.9 120.9,1848.2" stroke="#a0a0a0" stroke-width="1.6"/><path d="M200.9,1611.1Q198.3,1614.6 197.5,1618.9" stroke="#9d9d9d" stroke-width="2.2"/><path d="M210.5,1687.3Q206.8,1694.2 205.3,1701.8" stroke="#7d7d7d" stroke-width="2.6"/><path d="M271.1,2094.2Q275.5,2094.7 279.2,2092.2" stroke="#ababab" stroke-width="1.9"/><path d="M305.6,1874.9Q310.0,1871.6 312.2,1866.6" stroke="#c9c9c9" stroke-width="1.7"/><path d="M267.0,1905.7Q271.7,1905.6 276.3,1906.4" stroke="#fafafa" stroke-width="1.5"/><path d="M197.7,1789.3Q203.6,1794.6 207.1,1801.7" stroke="#fafafa" stroke-width="1.7"/><path d="M152.7,1882.7Q159.0,1878.5 160.6,1871.1" stroke="#bababa" stroke-width="1.5"/><path d="M211.2,1843.2Q213.8,1839.9 217.1,1837.1" stroke="#fafafa" stroke-width="2.6"/><path d="M141.3,1848.7Q145.7,1846.8 150.4,1846.3" stroke="#f1f1f1" stroke-width="2.3"/><path d="M326.0,1617.0Q323.3,1622.2 324.8,1627.8" stroke="#a5a5a5" stroke-width="1.8"/><path d="M196.3,1637.2Q195.2,1642.1 194.5,1647.0" stroke="#b3b3b3" stroke-width="1.5"/><path d="M226.2,1873.2Q233.2,1871.2 239.8,1868.0" stroke="#7e7e7e" stroke-width="1.6"/><path d="M127.1,1956.7Q124.1,1957.5 120.9,1957.4" stroke="#595959" stroke-width="1.5"/><path d="M196.9,1653.3Q193.8,1653.6 190.9,1654.9" stroke="#949494" stroke-width="2.2"/><path d="M227.0,1967.8Q227.8,1971.5 229.9,1974.6" stroke="#e9e9e9" stroke-width="1.7"/><path d="M286.6,1927.5Q291.5,1925.8 296.0,1928.4" stroke="#f0f0f0" stroke-width="2.1"/><path d="M184.2,1802.6Q187.4,1807.5 190.5,1812.2" stroke="#f2f2f2" stroke-width="2.3"/><path d="M99.3,1663.0Q95.9,1665.2 92.9,1667.8" stroke="#9c9c9c" stroke-width="1.9"/><path d="M161.9,2056.5Q169.5,2054.1 176.0,2049.3" stroke="#959595" stroke-width="2.4"/><path d="M297.1,2031.2Q294.8,2037.6 291.9,2043.6" stroke="#e8e8e8" stroke-width="2.2"/><path d="M205.4,1893.6Q209.1,1891.0 213.6,1891.1" stroke="#b9b9b9" stroke-width="2.1"/><path d="M115.5,1680.1Q117.2,1688.4 112.5,1695.4" stroke="#747474" stroke-width="1.9"/><path d="M229.3,2163.3Q237.3,2163.6 242.7,2157.5" stroke="#656565" stroke-width="1.9"/><path d="M270.5,1860.8Q273.7,1861.1 276.5,1859.6" stroke="#c8c8c8" stroke-width="1.6"/><path d="M239.7,1773.1Q243.7,1779.0 244.9,1786.1" stroke="#9e9e9e" stroke-width="2.1"/><path d="M207.6,1927.1Q213.3,1931.2 215.2,1938.0" stroke="#818181" stroke-width="2.2"/><path d="M237.8,1970.4Q241.2,1969.6 244.5,1970.5" stroke="#fafafa" stroke-width="1.5"/><path d="M228.9,2009.5Q235.7,2010.4 241.6,2013.8" stroke="#b4b4b4" stroke-width="2.5"/><path d="M280.5,1778.2Q279.6,1780.7 279.9,1783.4" stroke="#828282" stroke-width="1.7"/><path d="M161.7,1786.8Q169.3,1788.1 174.5,1793.9" stroke="#dadada" stroke-width="2.1"/><path d="M338.8,1939.7Q334.2,1938.7 330.1,1941.1" stroke="#fafafa" stroke-width="2.2"/><path d="M168.2,2185.3Q174.4,2185.4 180.5,2186.4" stroke="#5a5a5a" stroke-width="2.2"/><path d="M226.7,1838.2Q224.3,1840.9 222.4,1843.9" stroke="#fafafa" stroke-width="1.5"/><path d="M236.0,1691.2Q235.0,1695.8 230.9,1698.2" stroke="#bababa" stroke-width="2.5"/><path d="M269.5,2011.5Q272.5,2019.3 268.5,2026.7" stroke="#858585" stroke-width="1.5"/><path d="M318.8,2242.3Q319.5,2239.7 321.2,2237.5" stroke="#8e8e8e" stroke-width="2.1"/><path d="M288.7,2142.2Q291.4,2143.4 294.1,2144.1" stroke="#7e7e7e" stroke-width="1.8"/><path d="M242.5,1953.4Q248.5,1951.1 252.6,1946.1" stroke="#fafafa" stroke-width="1.6"/><path d="M125.3,1770.6Q127.2,1777.4 132.2,1782.4" stroke="#cacaca" stroke-width="1.7"/><path d="M134.6,1756.4Q132.4,1760.2 129.0,1763.0" stroke="#fafafa" stroke-width="2.0"/><path d="M351.4,1860.3Q356.2,1855.3 359.7,1849.4" stroke="#6c6c6c" stroke-width="2.1"/><path d="M284.5,1919.7Q286.9,1920.5 289.5,1920.6" stroke="#bebebe" stroke-width="2.5"/><path d="M343.4,2225.1Q341.3,2233.2 333.9,2237.0" stroke="#898989" stroke-width="1.6"/><path d="M340.4,1904.9Q337.0,1904.2 334.1,1906.1" stroke="#969696" stroke-width="1.8"/><path d="M339.8,1655.4Q342.1,1657.4 343.1,1660.2" stroke="#8f8f8f" stroke-width="2.0"/><path d="M128.1,1822.2Q126.0,1826.3 121.6,1827.2" stroke="#b8b8b8" stroke-width="2.1"/><path d="M312.6,1912.5Q319.8,1915.1 327.5,1916.3" stroke="#9e9e9e" stroke-width="1.6"/><path d="M131.5,2094.3Q129.4,2095.9 127.3,2097.4" stroke="#a7a7a7" stroke-width="2.0"/><path d="M241.3,1880.2Q236.1,1880.3 231.6,1882.9" stroke="#fafafa" stroke-width="2.4"/><path d="M349.8,1794.3Q355.0,1798.2 359.4,1803.0" stroke="#767676" stroke-width="2.5"/><path d="M333.2,1945.4Q335.7,1945.0 337.8,1943.5" stroke="#d7d7d7" stroke-width="2.2"/><path d="M160.4,1897.5Q155.5,1902.8 148.5,1904.6" stroke="#666666" stroke-width="2.5"/><path d="M339.4,1929.1Q342.9,1926.6 344.5,1922.6" stroke="#9f9f9f" stroke-width="2.4"/><path d="M302.8,2137.8Q309.8,2140.6 312.8,2147.5" stroke="#646464" stroke-width="2.0"/><path d="M102.4,2048.0Q110.0,2045.4 116.2,2040.3" stroke="#696969" stroke-width="2.2"/><path d="M118.7,2087.8Q125.5,2085.2 132.6,2083.6" stroke="#a2a2a2" stroke-width="2.2"/><path d="M217.3,1858.5Q214.8,1859.5 213.1,1861.6" stroke="#d6d6d6" stroke-width="2.3"/><path d="M271.8,1946.5Q270.7,1950.4 268.2,1953.7" stroke="#fafafa" stroke-width="1.8"/><path d="M334.4,2211.7Q332.2,2203.4 337.1,2196.5" stroke="#eaeaea" stroke-width="1.8"/><path d="M212.2,2099.8Q216.1,2099.5 218.6,2096.5" stroke="#5e5e5e" stroke-width="1.8"/><path d="M196.5,1873.4Q201.7,1874.8 206.6,1872.4" stroke="#929292" stroke-width="2.2"/><path d="M290.1,1972.8Q295.0,1965.8 303.5,1965.4" stroke="#fafafa" stroke-width="1.6"/><path d="M291.1,1639.0Q295.6,1642.4 298.3,1647.3" stroke="#a1a1a1" stroke-width="1.8"/><path d="M207.8,1890.6Q213.1,1889.0 218.0,1891.3" stroke="#727272" stroke-width="1.5"/><path d="M285.2,1870.9Q290.9,1874.3 297.5,1873.1" stroke="#8c8c8c" stroke-width="2.0"/><path d="M314.2,1927.0Q318.7,1927.3 322.3,1924.5" stroke="#c4c4c4" stroke-width="1.7"/><path d="M317.9,1941.8Q321.4,1938.6 325.9,1937.0" stroke="#cecece" stroke-width="1.8"/><path d="M202.5,1904.4Q207.8,1907.3 213.9,1907.9" stroke="#d2d2d2" stroke-width="1.9"/><path d="M202.0,2038.7Q208.6,2036.7 215.5,2037.5" stroke="#919191" stroke-width="1.9"/><path d="M231.4,2262.3Q229.3,2269.5 222.5,2272.6" stroke="#5b5b5b" stroke-width="2.1"/><path d="M227.1,1932.7Q231.7,1928.7 237.2,1926.5" stroke="#bcbcbc" stroke-width="2.4"/><path d="M289.1,1651.3Q287.3,1657.7 282.1,1661.7" stroke="#838383" stroke-width="1.7"/><path d="M181.4,1960.9Q185.4,1958.1 190.2,1958.5" stroke="#a1a1a1" stroke-width="1.7"/><path d="M132.9,1679.7Q127.0,1683.6 123.5,1689.7" stroke="#8a8a8a" stroke-width="2.2"/><path d="M212.5,1811.0Q211.7,1818.0 209.4,1824.6" stroke="#fafafa" stroke-width="1.7"/><path d="M144.9,2016.1Q145.8,2023.9 147.8,2031.5" stroke="#f3f3f3" stroke-width="2.5"/><path d="M146.5,2082.4Q141.1,2085.6 135.4,2088.4" stroke="#8d8d8d" stroke-width="1.5"/><path d="M246.4,2178.7Q243.8,2180.6 242.9,2183.7" stroke="#696969" stroke-width="2.2"/><path d="M272.1,1816.9Q270.7,1820.8 270.5,1824.9" stroke="#acacac" stroke-width="1.7"/><path d="M163.6,1775.7Q161.5,1779.4 161.2,1783.7" stroke="#989898" stroke-width="2.4"/><path d="M211.2,1943.8Q218.3,1941.5 225.7,1941.0" stroke="#dddddd" stroke-width="2.2"/><path d="M219.6,1877.7Q221.0,1872.4 224.9,1868.6" stroke="#e2e2e2" stroke-width="1.7"/><path d="M91.0,1802.6Q87.1,1808.4 85.9,1815.3" stroke="#515151" stroke-width="2.4"/><path d="M309.9,2059.0Q315.7,2055.8 320.8,2051.5" stroke="#e1e1e1" stroke-width="2.5"/><path d="M231.2,1945.8Q236.9,1940.1 244.9,1941.2" stroke="#939393" stroke-width="1.6"/><path d="M189.8,2029.4Q194.8,2027.0 199.5,2023.9" stroke="#fafafa" stroke-width="2.1"/><path d="M327.2,2052.6Q330.2,2048.6 334.1,2045.5" stroke="#767676" stroke-width="1.7"/><path d="M261.6,1744.5Q267.6,1748.7 268.3,1756.1" stroke="#6c6c6c" stroke-width="1.5"/><path d="M279.8,2109.0Q282.5,2110.0 285.2,2109.1" stroke="#818181" stroke-width="1.4"/><path d="M171.4,1774.6Q170.4,1778.0 168.5,1781.0" stroke="#fafafa" stroke-width="1.5"/><path d="M236.5,1857.4Q239.7,1854.5 243.9,1855.1" stroke="#c1c1c1" stroke-width="1.7"/><path d="M331.8,2052.8Q334.9,2054.9 336.1,2058.4" stroke="#c6c6c6" stroke-width="2.6"/><path d="M265.1,2021.6Q271.6,2024.3 278.0,2021.4" stroke="#d8d8d8" stroke-width="1.9"/><path d="M227.8,1633.5Q229.7,1641.3 234.1,1648.0" stroke="#6d6d6d" stroke-width="2.1"/><path d="M149.3,1727.9Q146.0,1727.9 143.9,1730.3" stroke="#a8a8a8" stroke-width="2.0"/><path d="M289.7,2084.9Q294.3,2091.2 302.0,2091.8" stroke="#7b7b7b" stroke-width="2.5"/><path d="M187.5,1658.8Q188.1,1666.5 183.0,1672.4" stroke="#686868" stroke-width="1.5"/><path d="M162.1,1728.8Q159.5,1731.6 159.0,1735.3" stroke="#b2b2b2" stroke-width="2.0"/><path d="M221.6,1860.8Q224.7,1861.1 226.7,1858.9" stroke="#fafafa" stroke-width="2.1"/><path d="M120.5,1857.8Q124.8,1855.4 129.6,1856.7" stroke="#8b8b8b" stroke-width="1.7"/><path d="M273.2,2220.6Q276.3,2216.4 281.4,2216.3" stroke="#929292" stroke-width="2.4"/><path d="M101.7,2022.2Q105.8,2020.4 108.2,2016.6" stroke="#848484" stroke-width="2.4"/><path d="M85.3,1601.5Q89.7,1603.4 90.9,1608.0" stroke="#575757" stroke-width="1.5"/><path d="M198.2,1813.7Q195.2,1816.7 192.4,1819.9" stroke="#fafafa" stroke-width="1.6"/><path d="M295.6,2248.7Q301.4,2249.9 307.3,2250.0" stroke="#6e6e6e" stroke-width="2.3"/><path d="M100.7,1666.7Q96.9,1670.1 92.1,1672.0" stroke="#878787" stroke-width="2.4"/><path d="M91.9,1754.5Q95.2,1755.1 98.5,1755.9" stroke="#6e6e6e" stroke-width="2.1"/><path d="M306.7,1831.6Q304.4,1837.8 298.6,1840.9" stroke="#878787" stroke-width="2.1"/><path d="M211.0,1608.0Q209.8,1611.8 208.5,1615.5" stroke="#a8a8a8" stroke-width="1.5"/><path d="M351.5,2132.1Q355.4,2128.4 360.9,2128.7" stroke="#7f7f7f" stroke-width="1.9"/><path d="M214.1,1840.3Q216.6,1838.8 217.4,1835.9" stroke="#fafafa" stroke-width="1.6"/><path d="M125.1,1884.5Q129.1,1878.5 136.0,1876.7" stroke="#969696" stroke-width="1.4"/><path d="M323.3,1924.5Q326.4,1923.4 329.8,1923.9" stroke="#949494" stroke-width="2.2"/><path d="M327.3,2130.7Q328.1,2127.9 330.8,2126.5" stroke="#6d6d6d" stroke-width="2.2"/><path d="M251.3,1815.5Q243.2,1817.2 239.3,1824.5" stroke="#ececec" stroke-width="1.6"/><path d="M280.7,1911.5Q278.1,1913.0 275.5,1914.6" stroke="#fafafa" stroke-width="1.8"/><path d="M245.8,2011.8Q250.0,2006.9 256.5,2006.9" stroke="#cccccc" stroke-width="2.2"/><path d="M185.7,1876.0Q187.3,1869.9 192.0,1865.6" stroke="#a0a0a0" stroke-width="2.4"/><path d="M188.9,2031.5Q186.5,2035.5 182.0,2036.5" stroke="#cacaca" stroke-width="1.9"/><path d="M325.0,1657.1Q331.7,1659.5 335.1,1665.8" stroke="#747474" stroke-width="2.0"/><path d="M159.8,2089.4Q165.5,2091.7 171.6,2091.8" stroke="#5f5f5f" stroke-width="1.5"/><path d="M234.9,1666.0Q240.2,1666.2 243.3,1670.5" stroke="#919191" stroke-width="2.5"/><path d="M109.8,1698.0Q106.4,1697.8 103.1,1698.9" stroke="#9c9c9c" stroke-width="2.0"/><path d="M236.8,1788.1Q233.6,1791.3 229.2,1792.1" stroke="#959595" stroke-width="2.1"/><path d="M264.4,1877.6Q268.3,1877.0 270.7,1874.0" stroke="#a9a9a9" stroke-width="1.6"/><path d="M228.4,1990.6Q236.0,1993.0 244.0,1993.4" stroke="#a1a1a1" stroke-width="2.4"/><path d="M305.0,2228.9Q308.2,2230.1 309.8,2233.1" stroke="#cbcbcb" stroke-width="2.0"/><path d="M119.3,1837.1Q116.7,1842.8 111.6,1846.4" stroke="#adadad" stroke-width="1.9"/><path d="M210.9,1848.9Q216.9,1846.1 219.9,1840.2" stroke="#8e8e8e" stroke-width="1.9"/><path d="M181.6,1622.6Q177.2,1625.1 172.1,1624.3" stroke="#555555" stroke-width="1.8"/><path d="M184.2,1809.3Q178.8,1811.5 174.1,1814.9" stroke="#ababab" stroke-width="1.5"/><path d="M279.8,2130.8Q277.7,2133.7 274.5,2135.5" stroke="#818181" stroke-width="1.9"/><path d="M222.2,1634.7Q225.0,1638.3 224.2,1642.7" stroke="#989898" stroke-width="2.4"/><path d="M176.6,1753.2Q177.5,1755.9 178.1,1758.6" stroke="#dfdfdf" stroke-width="2.1"/><path d="M165.2,1677.8Q170.4,1676.2 175.4,1678.4" stroke="#787878" stroke-width="1.9"/><path d="M226.4,1616.9Q225.2,1623.6 224.0,1630.4" stroke="#999999" stroke-width="2.3"/><path d="M209.2,1958.3Q214.6,1956.4 219.9,1958.5" stroke="#808080" stroke-width="2.3"/><path d="M321.4,2121.7Q323.3,2119.2 326.5,2118.8" stroke="#8b8b8b" stroke-width="1.4"/><path d="M214.0,1827.4Q206.2,1826.2 199.6,1830.4" stroke="#fafafa" stroke-width="1.7"/><path d="M265.8,1674.4Q265.9,1679.2 266.7,1683.9" stroke="#949494" stroke-width="2.5"/><path d="M146.4,1764.6Q143.6,1770.0 142.5,1776.0" stroke="#fafafa" stroke-width="1.8"/><path d="M90.2,1661.6Q83.1,1662.2 78.8,1667.9" stroke="#6a6a6a" stroke-width="1.7"/><path d="M296.6,2202.4Q298.1,2199.4 301.4,2198.7" stroke="#cacaca" stroke-width="2.0"/><path d="M172.2,2029.3Q180.5,2031.6 184.1,2039.5" stroke="#fafafa" stroke-width="2.5"/><path d="M309.8,2162.3Q308.8,2159.3 310.5,2156.7" stroke="#aaaaaa" stroke-width="2.2"/><path d="M263.9,2065.7Q258.6,2068.8 252.5,2069.4" stroke="#d3d3d3" stroke-width="2.0"/><path d="M232.5,1673.6Q234.9,1677.8 239.2,1680.1" stroke="#787878" stroke-width="1.9"/><path d="M281.8,2012.1Q278.0,2014.9 277.5,2019.7" stroke="#d6d6d6" stroke-width="2.5"/><path d="M351.9,1865.5Q355.0,1871.0 359.2,1875.8" stroke="#686868" stroke-width="2.1"/><path d="M226.0,1779.1Q226.7,1781.9 228.6,1784.2" stroke="#fafafa" stroke-width="2.3"/><path d="M284.3,1637.8Q280.1,1643.9 272.7,1644.2" stroke="#9f9f9f" stroke-width="1.6"/><path d="M237.6,2019.2Q240.5,2017.8 243.5,2016.5" stroke="#b6b6b6" stroke-width="2.6"/><path d="M154.9,1747.0Q158.8,1751.4 161.1,1756.9" stroke="#fafafa" stroke-width="2.6"/><path d="M324.1,2218.4Q319.5,2224.4 320.6,2232.0" stroke="#848484" stroke-width="2.5"/><path d="M240.7,1878.0Q236.7,1878.8 233.1,1880.7" stroke="#fafafa" stroke-width="1.8"/><path d="M101.8,1710.2Q102.1,1716.7 97.4,1721.1" stroke="#989898" stroke-width="1.7"/><path d="M144.5,1699.4Q145.1,1704.7 147.1,1709.5" stroke="#bababa" stroke-width="1.8"/><path d="M307.5,1957.7Q309.7,1956.1 312.4,1955.6" stroke="#aaaaaa" stroke-width="2.2"/><path d="M309.1,2088.1Q311.1,2085.1 314.6,2084.3" stroke="#efefef" stroke-width="2.0"/><path d="M103.0,1798.7Q103.5,1806.6 109.5,1811.9" stroke="#5f5f5f" stroke-width="1.6"/><path d="M110.9,1958.9Q115.8,1957.4 119.3,1953.7" stroke="#464646" stroke-width="2.4"/><path d="M145.1,1734.2Q142.8,1737.9 143.8,1742.2" stroke="#fafafa" stroke-width="1.9"/><path d="M313.4,2191.3Q310.9,2199.6 303.1,2203.4" stroke="#b0b0b0" stroke-width="1.4"/><path d="M248.1,1920.1Q253.8,1922.0 259.1,1925.0" stroke="#fafafa" stroke-width="2.4"/><path d="M123.7,1930.0Q131.3,1930.3 137.5,1934.8" stroke="#5b5b5b" stroke-width="2.5"/><path d="M143.1,1832.3Q146.9,1838.7 144.2,1845.6" stroke="#9b9b9b" stroke-width="1.9"/><path d="M322.4,2219.8Q321.6,2226.3 316.2,2229.9" stroke="#b7b7b7" stroke-width="1.6"/><path d="M238.3,1874.2Q242.2,1878.0 247.6,1877.9" stroke="#d2d2d2" stroke-width="1.6"/><path d="M233.9,1707.8Q233.0,1714.9 230.1,1721.5" stroke="#999999" stroke-width="1.5"/><path d="M338.8,1997.0Q340.1,1994.4 339.9,1991.6" stroke="#777777" stroke-width="1.4"/><path d="M154.2,2034.3Q152.4,2037.0 152.1,2040.2" stroke="#a3a3a3" stroke-width="2.3"/><path d="M278.8,1751.7Q281.2,1755.8 280.6,1760.5" stroke="#6d6d6d" stroke-width="2.0"/><path d="M247.9,1971.4Q253.4,1973.2 259.1,1972.1" stroke="#d1d1d1" stroke-width="1.9"/><path d="M323.5,2235.3Q326.4,2230.2 331.6,2227.4" stroke="#6e6e6e" stroke-width="1.7"/><path d="M160.0,1736.9Q158.8,1739.8 159.5,1742.8" stroke="#fafafa" stroke-width="2.1"/><path d="M253.0,1922.8Q256.5,1920.4 260.6,1919.4" stroke="#bfbfbf" stroke-width="2.3"/><path d="M232.6,2115.6Q237.2,2114.4 240.3,2110.7" stroke="#a3a3a3" stroke-width="2.6"/><path d="M188.5,1659.1Q185.3,1664.0 181.2,1668.0" stroke="#b5b5b5" stroke-width="1.9"/><path d="M232.5,2047.9Q233.0,2044.9 234.6,2042.3" stroke="#bababa" stroke-width="2.6"/><path d="M132.7,2078.2Q137.2,2082.1 143.0,2080.9" stroke="#bdbdbd" stroke-width="2.5"/><path d="M205.6,2028.2Q209.0,2028.3 212.4,2028.0" stroke="#fafafa" stroke-width="1.5"/><path d="M230.0,1916.8Q233.2,1910.6 237.5,1905.2" stroke="#b8b8b8" stroke-width="2.1"/><path d="M216.2,1793.8Q216.6,1797.6 217.6,1801.2" stroke="#fafafa" stroke-width="1.7"/><path d="M251.8,1918.1Q244.9,1918.9 238.0,1919.1" stroke="#d1d1d1" stroke-width="1.7"/><path d="M276.7,1893.5Q279.7,1896.2 283.6,1897.3" stroke="#fafafa" stroke-width="1.9"/><path d="M232.4,1976.5Q225.7,1973.6 219.2,1977.0" stroke="#a5a5a5" stroke-width="2.4"/><path d="M218.2,2166.3Q221.5,2167.5 224.9,2167.4" stroke="#616161" stroke-width="2.6"/><path d="M329.9,2052.0Q334.2,2053.4 338.6,2054.6" stroke="#8a8a8a" stroke-width="2.0"/><path d="M109.6,1762.6Q105.5,1766.2 103.8,1771.3" stroke="#b4b4b4" stroke-width="2.1"/><path d="M353.0,1905.9Q350.3,1908.4 350.0,1912.1" stroke="#818181" stroke-width="1.5"/><path d="M230.9,1732.1Q229.7,1739.2 233.2,1745.4" stroke="#9b9b9b" stroke-width="2.6"/><path d="M252.3,1899.1Q258.9,1898.2 264.9,1901.0" stroke="#bdbdbd" stroke-width="2.3"/><path d="M217.4,1868.5Q222.2,1864.6 227.2,1861.0" stroke="#a4a4a4" stroke-width="1.9"/><path d="M153.2,1871.1Q156.2,1866.1 160.7,1862.3" stroke="#a1a1a1" stroke-width="2.3"/><path d="M214.1,2096.0Q217.3,2101.5 223.3,2103.6" stroke="#5e5e5e" stroke-width="2.5"/><path d="M344.5,1847.4Q350.2,1851.6 357.2,1850.4" stroke="#5e5e5e" stroke-width="2.3"/><path d="M226.1,2000.2Q231.6,1997.7 237.6,1996.9" stroke="#b9b9b9" stroke-width="2.4"/><path d="M233.6,1766.7Q238.4,1770.6 242.3,1775.4" stroke="#9c9c9c" stroke-width="2.1"/><path d="M200.5,1761.3Q194.1,1762.4 188.6,1765.7" stroke="#b4b4b4" stroke-width="1.9"/><path d="M200.5,2024.6Q205.9,2020.6 210.9,2016.1" stroke="#d2d2d2" stroke-width="2.2"/><path d="M234.8,1949.1Q236.1,1951.6 235.2,1954.2" stroke="#afafaf" stroke-width="2.5"/><path d="M346.6,2131.0Q347.5,2128.3 346.0,2125.8" stroke="#707070" stroke-width="2.5"/><path d="M132.9,1938.9Q137.0,1936.6 141.6,1935.8" stroke="#4b4b4b" stroke-width="1.7"/><path d="M279.3,1981.7Q279.1,1985.2 278.2,1988.6" stroke="#fafafa" stroke-width="2.2"/><path d="M314.9,1970.3Q318.9,1967.0 321.7,1962.7" stroke="#d2d2d2" stroke-width="1.6"/><path d="M153.1,1680.2Q149.0,1683.8 145.8,1688.1" stroke="#a5a5a5" stroke-width="2.1"/><path d="M341.1,2058.6Q342.6,2065.0 345.7,2070.8" stroke="#939393" stroke-width="1.8"/><path d="M128.2,1869.0Q132.0,1862.4 139.5,1861.1" stroke="#fafafa" stroke-width="2.2"/><path d="M196.1,1998.2Q192.4,2001.5 192.8,2006.5" stroke="#c3c3c3" stroke-width="1.5"/><path d="M148.2,2014.4Q154.1,2009.0 157.1,2001.7" stroke="#aaaaaa" stroke-width="2.5"/><path d="M178.7,1763.5Q172.2,1762.1 166.6,1765.8" stroke="#cfcfcf" stroke-width="2.3"/><path d="M166.8,1722.9Q169.9,1723.1 173.0,1723.4" stroke="#fafafa" stroke-width="1.6"/><path d="M110.3,2088.9Q112.8,2086.7 115.2,2084.5" stroke="#6f6f6f" stroke-width="1.8"/><path d="M230.2,1704.5Q223.4,1709.7 215.2,1707.4" stroke="#9a9a9a" stroke-width="2.3"/><path d="M246.8,1920.8Q252.9,1921.3 258.4,1923.9" stroke="#999999" stroke-width="1.8"/><path d="M163.1,1863.8Q160.4,1865.2 157.5,1864.5" stroke="#ababab" stroke-width="2.5"/><path d="M230.1,2057.6Q233.2,2053.7 235.0,2049.1" stroke="#b5b5b5" stroke-width="1.6"/><path d="M316.6,1940.5Q319.4,1938.9 322.4,1939.7" stroke="#ebebeb" stroke-width="2.0"/><path d="M222.4,1876.8Q225.1,1874.4 228.3,1872.6" stroke="#e3e3e3" stroke-width="2.2"/><path d="M221.7,1909.1Q224.3,1912.6 228.6,1913.1" stroke="#e7e7e7" stroke-width="2.2"/><path d="M286.2,2003.2Q281.4,2007.8 275.6,2011.0" stroke="#c6c6c6" stroke-width="1.5"/><path d="M183.2,2092.0Q185.1,2089.8 187.9,2089.3" stroke="#7b7b7b" stroke-width="1.7"/><path d="M87.6,1716.3Q95.1,1719.8 103.1,1718.1" stroke="#cacaca" stroke-width="2.3"/><path d="M346.0,2209.8Q347.0,2206.8 349.2,2204.8" stroke="#c1c1c1" stroke-width="2.6"/><path d="M279.8,2109.8Q283.7,2104.7 284.4,2098.4" stroke="#898989" stroke-width="1.8"/><path d="M282.6,1970.8Q284.8,1968.8 287.6,1968.2" stroke="#afafaf" stroke-width="1.7"/><path d="M209.5,1799.9Q213.1,1800.2 216.7,1800.2" stroke="#cccccc" stroke-width="1.4"/><path d="M248.1,2005.9Q248.6,2003.0 249.3,2000.2" stroke="#b7b7b7" stroke-width="1.7"/><path d="M242.5,2052.5Q237.2,2055.5 234.3,2060.9" stroke="#c3c3c3" stroke-width="2.3"/><path d="M156.7,2020.7Q154.8,2023.6 153.5,2026.8" stroke="#fafafa" stroke-width="2.4"/><path d="M228.0,1829.0Q231.0,1829.0 233.2,1831.0" stroke="#fafafa" stroke-width="1.4"/><path d="M206.9,2249.8Q211.0,2253.0 215.9,2254.7" stroke="#545454" stroke-width="1.5"/><path d="M338.4,2214.7Q341.2,2213.7 344.1,2212.7" stroke="#f0f0f0" stroke-width="2.2"/><path d="M237.3,1715.4Q237.3,1718.4 238.6,1721.1" stroke="#ababab" stroke-width="1.5"/><path d="M289.2,1681.1Q295.5,1685.4 300.9,1690.8" stroke="#828282" stroke-width="1.9"/><path d="M335.7,2017.0Q333.4,2021.9 335.3,2027.0" stroke="#6f6f6f" stroke-width="2.0"/><path d="M168.8,2071.7Q175.3,2068.6 182.3,2067.2" stroke="#656565" stroke-width="2.5"/><path d="M144.5,1876.0Q149.7,1876.7 154.4,1874.3" stroke="#8d8d8d" stroke-width="2.1"/><path d="M257.2,1696.6Q259.5,1702.6 265.7,1704.6" stroke="#7e7e7e" stroke-width="2.4"/><path d="M301.9,2173.9Q304.1,2170.3 306.6,2167.0" stroke="#9b9b9b" stroke-width="1.7"/><path d="M287.5,2122.1Q293.2,2118.2 295.5,2111.7" stroke="#909090" stroke-width="1.5"/><path d="M280.2,2065.0Q283.1,2059.4 286.5,2054.1" stroke="#dedede" stroke-width="2.5"/><path d="M165.7,1728.2Q163.5,1731.9 160.5,1734.8" stroke="#919191" stroke-width="1.7"/><path d="M251.6,1866.3Q250.7,1871.9 245.9,1874.8" stroke="#b0b0b0" stroke-width="2.1"/><path d="M250.0,2011.4Q251.9,2006.1 256.8,2003.3" stroke="#d4d4d4" stroke-width="2.4"/><path d="M104.2,1743.0Q96.9,1742.8 90.6,1746.3" stroke="#9c9c9c" stroke-width="2.5"/><path d="M297.9,2255.3Q303.4,2257.7 309.5,2257.6" stroke="#656565" stroke-width="1.6"/><path d="M293.3,2094.2Q298.8,2092.7 301.3,2087.6" stroke="#797979" stroke-width="2.2"/><path d="M262.5,1635.5Q257.0,1638.4 255.1,1644.3" stroke="#5d5d5d" stroke-width="1.8"/><path d="M196.5,1824.2Q196.4,1827.4 193.9,1829.4" stroke="#fafafa" stroke-width="2.5"/><path d="M119.1,2013.5Q118.3,2005.7 123.6,1999.9" stroke="#7c7c7c" stroke-width="1.9"/><path d="M272.9,1839.1Q279.1,1843.5 286.5,1844.8" stroke="#cecece" stroke-width="1.5"/><path d="M292.7,2080.9Q289.8,2086.5 291.6,2092.6" stroke="#a4a4a4" stroke-width="1.9"/><path d="M175.2,1835.4Q176.1,1842.2 180.5,1847.4" stroke="#868686" stroke-width="1.9"/><path d="M310.0,1894.4Q313.2,1890.2 314.1,1885.0" stroke="#d2d2d2" stroke-width="2.3"/><path d="M163.2,1827.4Q168.7,1829.6 174.5,1828.8" stroke="#757575" stroke-width="1.6"/><path d="M120.7,1726.7Q117.0,1730.8 111.6,1731.9" stroke="#dedede" stroke-width="1.4"/><path d="M86.7,1835.6Q91.6,1841.2 98.2,1844.6" stroke="#545454" stroke-width="2.4"/><path d="M115.3,1895.4Q118.7,1893.5 121.3,1890.6" stroke="#b7b7b7" stroke-width="2.6"/><path d="M256.0,1753.0Q258.2,1758.4 256.4,1764.0" stroke="#8c8c8c" stroke-width="2.4"/><path d="M292.6,1962.4Q292.7,1956.7 296.3,1952.2" stroke="#dadada" stroke-width="2.4"/><path d="M132.1,1834.9Q131.6,1837.9 133.8,1840.1" stroke="#fafafa" stroke-width="2.4"/><path d="M213.9,1642.1Q215.8,1649.1 222.1,1652.9" stroke="#818181" stroke-width="2.1"/><path d="M119.0,1853.4Q125.3,1850.8 132.0,1851.4" stroke="#8d8d8d" stroke-width="2.5"/><path d="M278.8,1980.7Q281.8,1977.6 286.1,1976.5" stroke="#fafafa" stroke-width="1.5"/><path d="M238.3,2073.7Q240.9,2073.2 243.2,2071.9" stroke="#848484" stroke-width="2.4"/><path d="M200.7,1706.4Q198.5,1712.3 196.3,1718.2" stroke="#999999" stroke-width="1.9"/><path d="M328.8,1638.0Q331.6,1644.4 336.3,1649.5" stroke="#838383" stroke-width="1.8"/><path d="M180.5,2018.1Q181.6,2014.0 183.6,2010.2" stroke="#c9c9c9" stroke-width="1.4"/><path d="M141.0,2017.0Q140.9,2020.2 138.7,2022.6" stroke="#e8e8e8" stroke-width="2.1"/><path d="M320.3,2169.4Q324.9,2169.3 329.4,2170.3" stroke="#a1a1a1" stroke-width="1.5"/><path d="M173.6,1755.5Q173.5,1762.1 168.8,1766.7" stroke="#959595" stroke-width="1.6"/><path d="M210.8,2136.5Q214.8,2134.2 217.5,2130.5" stroke="#828282" stroke-width="2.1"/><path d="M215.1,2018.6Q218.7,2020.6 221.2,2023.8" stroke="#8f8f8f" stroke-width="1.5"/><path d="M264.9,2097.8Q262.1,2103.0 264.2,2108.4" stroke="#6d6d6d" stroke-width="1.5"/><path d="M177.9,1919.3Q175.3,1921.2 172.2,1920.2" stroke="#b7b7b7" stroke-width="1.6"/><path d="M139.3,2189.9Q142.7,2190.4 145.1,2193.0" stroke="#393939" stroke-width="2.3"/><path d="M319.3,2076.0Q326.4,2072.5 330.7,2065.8" stroke="#dedede" stroke-width="2.4"/><path d="M313.1,1609.1Q316.8,1611.2 319.6,1614.4" stroke="#a6a6a6" stroke-width="2.2"/><path d="M262.0,2018.4Q257.1,2025.0 249.0,2025.8" stroke="#9c9c9c" stroke-width="2.2"/><path d="M217.8,2138.1Q214.1,2138.6 212.1,2141.8" stroke="#525252" stroke-width="1.9"/><path d="M291.1,2042.8Q292.8,2037.9 296.2,2034.0" stroke="#bababa" stroke-width="2.0"/><path d="M307.6,2057.1Q304.3,2057.2 301.1,2058.1" stroke="#fafafa" stroke-width="2.6"/><path d="M268.0,2119.7Q263.5,2120.2 259.0,2120.8" stroke="#8b8b8b" stroke-width="2.6"/><path d="M295.5,2176.5Q299.0,2176.6 301.5,2174.3" stroke="#a7a7a7" stroke-width="1.9"/><path d="M223.8,1875.3Q227.7,1872.6 231.5,1869.8" stroke="#9a9a9a" stroke-width="2.1"/><path d="M284.6,2014.8Q287.7,2013.9 289.8,2011.4" stroke="#ababab" stroke-width="2.1"/><path d="M222.5,1795.7Q218.3,1798.4 213.9,1800.6" stroke="#fafafa" stroke-width="2.4"/><path d="M231.2,1997.0Q238.6,1995.1 246.1,1995.8" stroke="#bdbdbd" stroke-width="2.3"/><path d="M160.1,2035.1Q163.0,2038.1 165.4,2041.5" stroke="#fafafa" stroke-width="2.2"/><path d="M200.1,2037.4Q207.2,2037.4 212.5,2042.2" stroke="#9d9d9d" stroke-width="2.5"/><path d="M178.2,1721.0Q177.7,1726.4 177.0,1731.8" stroke="#d7d7d7" stroke-width="2.3"/><path d="M211.5,2029.5Q213.0,2026.6 216.2,2026.0" stroke="#bebebe" stroke-width="2.0"/><path d="M152.7,2025.8Q148.4,2026.7 144.2,2028.1" stroke="#e7e7e7" stroke-width="1.7"/><path d="M184.4,1626.5Q183.5,1630.9 183.7,1635.4" stroke="#6f6f6f" stroke-width="2.0"/><path d="M240.2,1985.2Q234.9,1984.2 230.3,1987.0" stroke="#d8d8d8" stroke-width="1.9"/><path d="M120.1,1889.8Q122.5,1884.5 127.8,1881.9" stroke="#d5d5d5" stroke-width="1.5"/><path d="M208.4,2047.4Q215.9,2045.3 222.7,2041.6" stroke="#e4e4e4" stroke-width="2.4"/><path d="M220.9,1857.5Q224.5,1854.0 228.9,1851.8" stroke="#a8a8a8" stroke-width="1.6"/><path d="M86.9,2026.4Q88.2,2020.7 87.4,2014.9" stroke="#5e5e5e" stroke-width="1.5"/><path d="M322.0,1969.6Q327.1,1969.7 330.6,1973.5" stroke="#cecece" stroke-width="2.3"/><path d="M221.9,1803.0Q215.4,1808.7 215.2,1817.3" stroke="#fafafa" stroke-width="1.9"/><path d="M323.8,1966.9Q326.9,1963.1 328.9,1958.6" stroke="#bababa" stroke-width="1.7"/><path d="M204.7,1777.4Q209.2,1777.1 213.7,1778.2" stroke="#a9a9a9" stroke-width="2.5"/><path d="M170.3,1782.8Q167.0,1785.4 165.0,1789.0" stroke="#fafafa" stroke-width="1.5"/><path d="M155.9,2031.6Q156.0,2037.0 154.5,2042.1" stroke="#fafafa" stroke-width="1.7"/><path d="M238.3,1980.9Q240.8,1975.9 246.1,1974.2" stroke="#f2f2f2" stroke-width="1.9"/><path d="M262.0,1776.2Q261.0,1778.7 258.7,1780.1" stroke="#acacac" stroke-width="2.6"/><path d="M288.3,1672.6Q296.3,1672.4 302.5,1677.6" stroke="#a2a2a2" stroke-width="1.6"/><path d="M315.9,1959.9Q312.0,1963.0 307.0,1962.6" stroke="#ececec" stroke-width="1.4"/><path d="M290.4,1975.4Q293.9,1973.0 297.9,1974.0" stroke="#e9e9e9" stroke-width="1.6"/><path d="M259.9,1835.0Q256.8,1838.5 252.2,1839.6" stroke="#afafaf" stroke-width="2.1"/><path d="M177.0,2010.7Q184.3,2007.8 192.2,2007.7" stroke="#8b8b8b" stroke-width="2.2"/><path d="M211.1,1918.0Q211.9,1914.7 214.2,1912.1" stroke="#bbbbbb" stroke-width="2.1"/><path d="M166.5,2039.8Q166.3,2047.2 171.4,2052.5" stroke="#969696" stroke-width="1.7"/><path d="M151.1,2010.0Q150.2,2012.5 148.3,2014.4" stroke="#fafafa" stroke-width="1.7"/><path d="M212.4,2102.7Q216.5,2097.9 219.6,2092.6" stroke="#959595" stroke-width="2.2"/><path d="M162.4,1705.2Q155.0,1706.9 147.6,1705.4" stroke="#aeaeae" stroke-width="2.2"/><path d="M233.5,1914.0Q236.4,1913.9 238.8,1912.2" stroke="#a8a8a8" stroke-width="2.5"/><path d="M318.8,1872.3Q320.5,1867.7 325.0,1865.6" stroke="#e0e0e0" stroke-width="2.4"/><path d="M130.0,2096.2Q132.8,2095.6 134.7,2093.5" stroke="#a8a8a8" stroke-width="1.9"/><path d="M129.6,1742.4Q133.6,1744.1 136.4,1747.5" stroke="#7f7f7f" stroke-width="2.0"/><path d="M120.8,1810.9Q116.1,1813.0 110.9,1812.8" stroke="#929292" stroke-width="2.6"/><path d="M153.2,1727.0Q148.9,1732.1 144.5,1737.3" stroke="#fafafa" stroke-width="1.8"/><path d="M108.3,1852.2Q113.5,1852.1 117.0,1856.0" stroke="#9b9b9b" stroke-width="1.7"/><path d="M205.9,1844.1Q209.7,1844.3 212.2,1847.1" stroke="#f5f5f5" stroke-width="2.6"/><path d="M304.2,1960.8Q310.4,1958.4 316.8,1960.0" stroke="#f6f6f6" stroke-width="1.4"/><path d="M132.7,1801.9Q130.9,1808.0 125.5,1811.2" stroke="#a3a3a3" stroke-width="1.5"/><path d="M95.2,1657.9Q96.3,1661.4 99.4,1663.4" stroke="#959595" stroke-width="1.8"/><path d="M214.0,2126.6Q216.5,2131.7 214.5,2137.1" stroke="#7e7e7e" stroke-width="1.8"/><path d="M255.4,1937.3Q260.5,1933.4 266.9,1934.0" stroke="#fafafa" stroke-width="2.6"/><path d="M268.9,2081.9Q274.6,2084.9 277.8,2090.5" stroke="#808080" stroke-width="1.9"/><path d="M115.6,1991.2Q119.8,1988.5 120.5,1983.6" stroke="#656565" stroke-width="1.5"/><path d="M251.7,1704.1Q249.8,1706.9 247.2,1708.9" stroke="#616161" stroke-width="1.8"/><path d="M160.3,2047.0Q157.6,2048.4 154.8,2049.6" stroke="#848484" stroke-width="1.8"/><path d="M120.2,2106.8Q125.8,2104.0 132.0,2102.9" stroke="#505050" stroke-width="1.5"/><path d="M308.3,2168.4Q314.9,2173.7 323.1,2171.9" stroke="#a8a8a8" stroke-width="1.7"/><path d="M141.5,1935.8Q136.3,1941.7 133.1,1948.9" stroke="#777777" stroke-width="2.1"/><path d="M209.9,2097.7Q214.3,2099.1 218.8,2098.4" stroke="#a8a8a8" stroke-width="2.6"/><path d="M258.5,2082.7Q260.9,2076.3 265.1,2070.9" stroke="#7b7b7b" stroke-width="1.5"/><path d="M315.2,1780.3Q318.8,1783.6 323.6,1785.0" stroke="#838383" stroke-width="2.2"/><path d="M113.4,1717.3Q118.4,1719.3 122.5,1722.9" stroke="#b0b0b0" stroke-width="2.6"/><path d="M341.6,2021.4Q343.3,2027.0 348.5,2029.7" stroke="#a6a6a6" stroke-width="2.2"/><path d="M233.7,2068.1Q240.9,2065.4 248.1,2062.8" stroke="#686868" stroke-width="1.9"/><path d="M114.9,1738.5Q121.4,1742.9 128.5,1746.2" stroke="#b4b4b4" stroke-width="1.5"/><path d="M165.5,1821.5Q167.9,1824.0 169.2,1827.1" stroke="#828282" stroke-width="1.7"/><path d="M309.6,1919.6Q317.1,1922.6 323.0,1928.2" stroke="#fafafa" stroke-width="2.2"/><path d="M263.9,2243.7Q268.9,2247.4 275.0,2249.1" stroke="#797979" stroke-width="2.4"/><path d="M231.1,2020.4Q227.0,2024.9 221.1,2026.7" stroke="#f2f2f2" stroke-width="2.2"/><path d="M351.9,1899.2Q352.7,1901.7 354.1,1903.9" stroke="#a0a0a0" stroke-width="2.5"/><path d="M353.8,2256.5Q354.6,2262.8 355.3,2269.1" stroke="#6a6a6a" stroke-width="2.3"/><path d="M254.2,1651.8Q247.1,1650.9 240.5,1653.6" stroke="#848484" stroke-width="2.3"/><path d="M348.0,1932.8Q340.7,1933.8 333.9,1936.8" stroke="#bbbbbb" stroke-width="2.4"/><path d="M261.5,2083.2Q259.0,2087.2 257.9,2091.7" stroke="#b6b6b6" stroke-width="1.5"/><path d="M306.4,1839.5Q310.3,1840.3 312.2,1844.0" stroke="#9d9d9d" stroke-width="1.4"/><path d="M211.4,1702.1Q213.8,1704.7 215.9,1707.5" stroke="#868686" stroke-width="1.7"/><path d="M203.0,1903.9Q194.5,1906.0 190.6,1913.8" stroke="#969696" stroke-width="2.0"/><path d="M273.8,1645.6Q273.7,1649.6 274.2,1653.6" stroke="#656565" stroke-width="1.6"/><path d="M344.3,1998.6Q350.2,1997.9 355.4,1994.9" stroke="#afafaf" stroke-width="1.7"/><path d="M333.2,1922.0Q335.5,1926.6 337.8,1931.3" stroke="#b4b4b4" stroke-width="2.0"/><path d="M91.7,1860.5Q97.2,1859.9 101.6,1863.3" stroke="#6d6d6d" stroke-width="1.8"/><path d="M272.6,1965.9Q273.8,1958.4 280.3,1954.3" stroke="#fafafa" stroke-width="1.8"/><path d="M314.7,1869.3Q317.6,1866.1 320.5,1863.1" stroke="#b8b8b8" stroke-width="1.4"/><path d="M138.0,1726.7Q132.6,1727.7 127.7,1730.3" stroke="#fafafa" stroke-width="2.4"/><path d="M348.0,2062.2Q348.7,2058.6 351.6,2056.2" stroke="#acacac" stroke-width="2.0"/><path d="M144.2,1699.4Q146.4,1703.4 144.9,1707.7" stroke="#7b7b7b" stroke-width="1.7"/><path d="M284.3,2229.4Q288.1,2227.9 292.1,2226.8" stroke="#727272" stroke-width="1.7"/><path d="M301.7,1923.6Q306.2,1918.8 312.8,1918.6" stroke="#fafafa" stroke-width="1.5"/><path d="M284.2,1617.5Q287.2,1620.3 291.3,1620.6" stroke="#636363" stroke-width="2.4"/><path d="M296.6,1936.9Q303.3,1938.4 309.8,1936.1" stroke="#e8e8e8" stroke-width="2.6"/><path d="M262.3,1805.6Q256.7,1804.5 252.1,1807.9" stroke="#fafafa" stroke-width="2.1"/><path d="M235.7,2049.2Q239.6,2048.6 243.2,2047.2" stroke="#7e7e7e" stroke-width="1.9"/><path d="M196.5,1738.9Q193.7,1739.5 190.8,1740.0" stroke="#b5b5b5" stroke-width="2.1"/><path d="M244.1,1861.6Q249.3,1861.1 253.2,1857.5" stroke="#fafafa" stroke-width="2.6"/><path d="M303.7,1630.2Q303.3,1632.8 301.3,1634.5" stroke="#a0a0a0" stroke-width="2.2"/><path d="M256.5,2001.3Q259.0,1997.0 260.1,1992.1" stroke="#fafafa" stroke-width="2.1"/><path d="M107.7,1940.6Q109.5,1935.8 109.9,1930.7" stroke="#4a4a4a" stroke-width="1.7"/><path d="M120.2,1988.0Q119.2,1991.6 115.8,1993.0" stroke="#5f5f5f" stroke-width="1.7"/><path d="M353.8,2042.9Q362.2,2045.5 369.4,2040.3" stroke="#d1d1d1" stroke-width="2.2"/><path d="M293.4,1868.8Q300.5,1871.4 306.1,1876.5" stroke="#8d8d8d" stroke-width="2.1"/><path d="M130.8,1811.3Q124.0,1813.0 117.0,1813.6" stroke="#c7c7c7" stroke-width="2.6"/><path d="M225.1,1896.2Q233.2,1898.3 238.2,1905.1" stroke="#808080" stroke-width="1.6"/><path d="M227.3,1759.4Q225.0,1761.1 224.6,1764.0" stroke="#848484" stroke-width="1.5"/><path d="M215.6,1795.8Q220.5,1798.8 226.0,1796.8" stroke="#fafafa" stroke-width="1.9"/><path d="M248.8,1996.1Q256.7,1993.7 260.5,1986.3" stroke="#fafafa" stroke-width="2.0"/><path d="M339.8,1880.3Q341.9,1872.9 347.4,1867.5" stroke="#a7a7a7" stroke-width="1.9"/><path d="M273.9,1977.0Q277.8,1978.5 279.0,1982.3" stroke="#aeaeae" stroke-width="1.7"/><path d="M308.3,1868.5Q314.0,1865.2 317.3,1859.6" stroke="#848484" stroke-width="2.1"/><path d="M247.6,1984.6Q247.8,1989.4 246.5,1994.0" stroke="#fafafa" stroke-width="2.6"/><path d="M109.3,1635.7Q110.2,1641.9 109.6,1648.1" stroke="#575757" stroke-width="2.1"/><path d="M276.9,1606.1Q278.2,1612.0 275.7,1617.4" stroke="#535353" stroke-width="2.2"/><path d="M104.4,2106.8Q106.2,2101.4 111.6,2099.4" stroke="#5d5d5d" stroke-width="2.3"/><path d="M165.2,2028.9Q167.3,2023.9 171.6,2020.6" stroke="#fafafa" stroke-width="2.6"/><path d="M334.3,2137.4Q338.8,2134.2 344.2,2133.8" stroke="#a8a8a8" stroke-width="1.6"/><path d="M176.0,2003.6Q179.5,2000.5 182.1,1996.7" stroke="#adadad" stroke-width="1.9"/><path d="M256.3,1963.4Q258.2,1956.5 258.7,1949.4" stroke="#fafafa" stroke-width="1.8"/><path d="M330.2,1615.1Q329.5,1620.3 326.1,1624.2" stroke="#afafaf" stroke-width="2.4"/><path d="M210.5,1834.5Q206.9,1836.3 203.3,1834.7" stroke="#f7f7f7" stroke-width="2.6"/><path d="M140.8,1836.8Q141.9,1841.3 145.7,1843.8" stroke="#8b8b8b" stroke-width="1.9"/><path d="M330.5,2216.0Q325.5,2219.1 319.6,2219.4" stroke="#9e9e9e" stroke-width="2.4"/><path d="M297.2,1900.7Q301.9,1904.6 307.3,1907.5" stroke="#fafafa" stroke-width="2.3"/><path d="M208.7,2007.7Q215.7,2004.4 223.1,2002.3" stroke="#d4d4d4" stroke-width="2.0"/><path d="M170.6,1946.2Q175.2,1943.9 176.4,1938.8" stroke="#656565" stroke-width="2.1"/><path d="M278.6,2004.7Q284.1,2004.7 289.6,2004.8" stroke="#fafafa" stroke-width="2.0"/><path d="M289.5,2018.5Q292.2,2013.2 297.8,2011.3" stroke="#cccccc" stroke-width="2.5"/><path d="M313.2,1991.8Q307.5,1992.4 303.5,1996.6" stroke="#dddddd" stroke-width="1.8"/><path d="M203.3,2008.8Q197.0,2009.0 192.6,2013.5" stroke="#eaeaea" stroke-width="2.4"/><path d="M296.6,2103.8Q293.9,2109.0 288.8,2111.9" stroke="#828282" stroke-width="1.9"/><path d="M209.2,1933.0Q206.3,1933.9 203.6,1935.1" stroke="#e4e4e4" stroke-width="2.5"/><path d="M244.9,2097.4Q246.1,2093.5 249.9,2092.1" stroke="#a4a4a4" stroke-width="1.7"/><path d="M255.6,1795.1Q251.5,1794.6 247.5,1795.2" stroke="#cdcdcd" stroke-width="1.5"/><path d="M149.5,1758.6Q145.0,1758.6 140.7,1759.9" stroke="#cbcbcb" stroke-width="2.3"/><path d="M215.6,2115.0Q220.4,2116.1 223.2,2120.1" stroke="#6c6c6c" stroke-width="1.9"/><path d="M226.2,1909.3Q227.8,1905.0 228.3,1900.5" stroke="#fafafa" stroke-width="2.5"/><path d="M168.4,1844.0Q169.9,1836.3 176.3,1831.6" stroke="#a9a9a9" stroke-width="2.1"/><path d="M205.3,1825.7Q202.9,1831.8 205.5,1837.8" stroke="#fafafa" stroke-width="1.5"/><path d="M211.8,1742.4Q214.5,1745.0 217.5,1747.2" stroke="#828282" stroke-width="1.7"/><path d="M195.7,1743.0Q195.4,1748.1 199.4,1751.3" stroke="#a5a5a5" stroke-width="2.5"/><path d="M141.5,1779.1Q140.6,1784.7 140.1,1790.2" stroke="#dfdfdf" stroke-width="1.7"/><path d="M153.5,1838.7Q155.0,1842.8 153.1,1846.7" stroke="#8a8a8a" stroke-width="2.4"/><path d="M324.1,1928.5Q325.4,1925.4 328.4,1923.8" stroke="#c6c6c6" stroke-width="1.7"/><path d="M291.2,1942.7Q289.7,1948.6 285.3,1952.7" stroke="#fafafa" stroke-width="2.3"/><path d="M101.3,1650.3Q102.0,1656.3 107.0,1659.6" stroke="#8d8d8d" stroke-width="1.5"/><path d="M306.3,1883.6Q305.4,1891.4 303.1,1898.8" stroke="#fafafa" stroke-width="2.1"/><path d="M134.1,1738.1Q128.8,1738.7 124.0,1741.1" stroke="#f9f9f9" stroke-width="1.9"/><path d="M352.4,2216.5Q353.8,2212.1 356.6,2208.5" stroke="#929292" stroke-width="2.2"/><path d="M306.5,1876.2Q310.7,1876.1 313.7,1873.3" stroke="#999999" stroke-width="1.8"/><path d="M124.9,1837.9Q128.6,1845.5 126.9,1853.7" stroke="#a7a7a7" stroke-width="1.7"/><path d="M123.6,1860.7Q128.2,1864.1 133.8,1865.1" stroke="#fafafa" stroke-width="1.6"/><path d="M351.8,2162.2Q354.2,2162.5 356.7,2162.9" stroke="#878787" stroke-width="2.1"/><path d="M351.3,2263.0Q354.1,2264.7 357.3,2265.4" stroke="#939393" stroke-width="2.3"/><path d="M133.6,1866.7Q136.0,1869.1 139.2,1870.5" stroke="#959595" stroke-width="2.6"/><path d="M346.9,1917.2Q352.3,1916.0 357.4,1913.7" stroke="#fafafa" stroke-width="2.5"/><path d="M293.7,1813.9Q294.4,1819.6 295.5,1825.2" stroke="#a7a7a7" stroke-width="2.3"/><path d="M123.5,1743.1Q129.2,1744.5 132.0,1749.5" stroke="#959595" stroke-width="1.9"/><path d="M291.5,1790.4Q288.8,1793.1 287.0,1796.5" stroke="#dddddd" stroke-width="1.6"/><path d="M252.3,1843.7Q252.8,1847.7 253.0,1851.8" stroke="#fafafa" stroke-width="1.5"/><path d="M280.0,2188.7Q283.8,2187.9 285.4,2184.4" stroke="#919191" stroke-width="1.9"/><path d="M326.8,1809.0Q328.4,1813.1 330.9,1816.7" stroke="#b6b6b6" stroke-width="1.4"/><path d="M274.4,2223.8Q281.1,2224.8 287.8,2223.8" stroke="#a1a1a1" stroke-width="1.6"/><path d="M278.3,2109.9Q283.5,2106.7 289.0,2104.0" stroke="#6b6b6b" stroke-width="2.6"/><path d="M229.7,1946.4Q230.7,1943.6 233.5,1942.6" stroke="#fafafa" stroke-width="1.6"/><path d="M297.7,2225.0Q304.0,2222.1 309.1,2217.6" stroke="#b2b2b2" stroke-width="1.6"/><path d="M130.8,1921.5Q132.9,1925.2 137.0,1926.4" stroke="#636363" stroke-width="1.8"/><path d="M122.6,1720.1Q123.3,1723.2 126.1,1724.7" stroke="#c6c6c6" stroke-width="1.5"/><path d="M346.9,2072.9Q343.0,2072.8 340.2,2075.4" stroke="#bfbfbf" stroke-width="2.3"/><path d="M309.3,1886.1Q312.6,1883.1 315.9,1880.1" stroke="#fafafa" stroke-width="1.9"/><path d="M311.7,2002.3Q306.4,2001.4 302.4,2004.8" stroke="#888888" stroke-width="1.9"/><path d="M120.8,1786.8Q117.9,1785.5 115.0,1786.8" stroke="#bdbdbd" stroke-width="2.2"/><path d="M204.9,1968.9Q208.1,1966.9 211.7,1967.8" stroke="#bababa" stroke-width="1.6"/><path d="M288.2,1852.9Q290.4,1845.2 286.4,1838.3" stroke="#c7c7c7" stroke-width="1.9"/><path d="M334.4,2215.3Q339.1,2210.1 345.2,2206.7" stroke="#9b9b9b" stroke-width="2.5"/><path d="M135.6,1758.5Q138.8,1758.2 142.1,1758.7" stroke="#e4e4e4" stroke-width="2.5"/><path d="M92.3,1808.9Q84.7,1811.1 80.0,1817.6" stroke="#5f5f5f" stroke-width="2.2"/><path d="M251.8,1924.4Q255.0,1926.1 258.2,1927.8" stroke="#b1b1b1" stroke-width="2.5"/><path d="M140.6,2024.3Q143.9,2020.2 144.2,2014.9" stroke="#d4d4d4" stroke-width="2.3"/><path d="M252.6,1968.5Q253.7,1960.9 255.7,1953.5" stroke="#fafafa" stroke-width="1.6"/><path d="M171.7,1844.7Q175.5,1845.7 179.2,1847.2" stroke="#a1a1a1" stroke-width="2.4"/><path d="M107.2,1693.3Q104.0,1695.2 100.4,1694.5" stroke="#797979" stroke-width="1.4"/><path d="M238.3,1841.8Q243.3,1837.5 243.5,1831.0" stroke="#fafafa" stroke-width="2.3"/><path d="M296.7,2021.1Q297.2,2023.9 295.7,2026.3" stroke="#b6b6b6" stroke-width="2.1"/><path d="M212.6,2031.8Q216.3,2029.9 220.3,2031.2" stroke="#f3f3f3" stroke-width="1.9"/><path d="M141.1,1850.4Q146.3,1845.9 153.0,1846.8" stroke="#cbcbcb" stroke-width="1.7"/><path d="M315.6,2156.1Q313.9,2162.1 309.2,2166.3" stroke="#bababa" stroke-width="1.6"/><path d="M274.6,1975.4Q281.1,1973.4 287.7,1975.1" stroke="#fafafa" stroke-width="2.1"/><path d="M140.7,1757.5Q134.8,1759.7 130.4,1764.4" stroke="#a8a8a8" stroke-width="1.9"/><path d="M276.6,1678.8Q275.6,1681.4 273.8,1683.6" stroke="#696969" stroke-width="1.7"/><path d="M307.8,2039.2Q313.7,2042.1 319.3,2045.6" stroke="#b7b7b7" stroke-width="2.1"/><path d="M198.9,2056.3Q196.4,2059.2 193.5,2061.7" stroke="#d3d3d3" stroke-width="1.6"/><path d="M204.9,1678.8Q209.3,1680.9 210.7,1685.5" stroke="#727272" stroke-width="2.0"/><path d="M315.4,1812.4Q313.0,1814.7 313.0,1818.0" stroke="#9c9c9c" stroke-width="2.0"/><path d="M159.0,2036.2Q162.0,2035.2 164.7,2036.6" stroke="#d4d4d4" stroke-width="1.6"/><path d="M208.9,2035.5Q211.0,2031.1 213.6,2027.0" stroke="#fafafa" stroke-width="2.4"/><path d="M178.5,1800.1Q173.5,1799.6 168.6,1800.1" stroke="#ababab" stroke-width="1.8"/><path d="M246.5,1618.5Q249.7,1622.9 250.9,1628.3" stroke="#6b6b6b" stroke-width="1.5"/><path d="M247.2,1729.7Q244.3,1733.8 241.8,1738.0" stroke="#737373" stroke-width="1.5"/><path d="M301.6,2235.2Q306.3,2233.0 309.0,2228.6" stroke="#858585" stroke-width="1.4"/><path d="M307.9,1804.3Q315.3,1806.0 323.0,1806.8" stroke="#8f8f8f" stroke-width="2.3"/><path d="M329.6,2138.0Q334.2,2133.7 340.4,2132.3" stroke="#6a6a6a" stroke-width="2.1"/><path d="M114.4,1886.6Q117.7,1883.6 121.1,1880.8" stroke="#707070" stroke-width="2.2"/><path d="M94.7,1925.3Q99.7,1920.5 106.5,1918.6" stroke="#4c4c4c" stroke-width="2.0"/><path d="M288.2,1652.2Q292.5,1655.1 297.0,1657.5" stroke="#808080" stroke-width="1.6"/><path d="M243.4,1893.0Q241.3,1898.1 241.1,1903.7" stroke="#fafafa" stroke-width="2.1"/><path d="M214.1,1658.5Q211.6,1661.8 207.8,1663.2" stroke="#999999" stroke-width="2.3"/><path d="M200.8,2029.6Q203.2,2028.3 205.9,2029.0" stroke="#d2d2d2" stroke-width="1.7"/><path d="M127.8,1889.0Q124.8,1890.3 121.6,1889.9" stroke="#adadad" stroke-width="1.7"/><path d="M218.6,1823.9Q218.1,1828.1 215.5,1831.4" stroke="#fafafa" stroke-width="1.7"/><path d="M237.6,1984.8Q242.1,1979.5 246.6,1974.2" stroke="#fafafa" stroke-width="2.1"/><path d="M117.5,1856.6Q122.9,1853.6 127.7,1849.6" stroke="#808080" stroke-width="2.2"/><path d="M291.2,1906.2Q287.6,1909.2 283.8,1912.1" stroke="#fafafa" stroke-width="2.0"/><path d="M148.5,1773.9Q147.7,1780.4 148.5,1786.8" stroke="#fafafa" stroke-width="1.8"/><path d="M180.6,1749.9Q180.2,1753.8 180.3,1757.6" stroke="#eaeaea" stroke-width="2.4"/><path d="M179.4,2007.5Q183.8,2000.4 192.0,1998.6" stroke="#a3a3a3" stroke-width="1.6"/><path d="M163.1,2169.1Q168.5,2164.9 175.2,2165.1" stroke="#4b4b4b" stroke-width="1.6"/><path d="M173.1,1812.7Q170.2,1817.4 171.1,1822.8" stroke="#cdcdcd" stroke-width="2.0"/><path d="M203.1,1833.4Q202.5,1838.3 204.4,1842.8" stroke="#b9b9b9" stroke-width="1.5"/><path d="M156.7,1738.2Q153.8,1739.4 151.4,1741.5" stroke="#e5e5e5" stroke-width="1.6"/><path d="M204.3,1936.7Q210.8,1940.5 217.0,1944.9" stroke="#ececec" stroke-width="2.2"/><path d="M193.9,1813.7Q189.3,1816.2 185.5,1819.9" stroke="#fafafa" stroke-width="2.4"/><path d="M320.9,1855.2Q325.5,1851.3 329.3,1846.8" stroke="#7a7a7a" stroke-width="1.7"/><path d="M281.7,1959.6Q289.3,1961.3 295.6,1966.0" stroke="#ededed" stroke-width="2.4"/><path d="M176.7,1839.6Q177.5,1843.7 180.1,1846.9" stroke="#898989" stroke-width="1.7"/><path d="M288.8,1764.8Q285.6,1764.7 283.4,1767.1" stroke="#7b7b7b" stroke-width="2.1"/><path d="M262.0,1901.7Q265.7,1905.7 271.1,1906.1" stroke="#cdcdcd" stroke-width="2.0"/><path d="M196.8,2010.8Q188.3,2009.0 181.6,2014.6" stroke="#e5e5e5" stroke-width="1.5"/><path d="M131.2,1752.3Q137.5,1757.4 139.8,1765.3" stroke="#acacac" stroke-width="2.2"/><path d="M225.6,1910.2Q233.0,1908.7 240.4,1907.1" stroke="#d7d7d7" stroke-width="1.5"/><path d="M248.0,2073.2Q243.7,2076.2 238.7,2074.7" stroke="#9a9a9a" stroke-width="2.1"/><path d="M188.9,1888.0Q191.6,1886.4 192.9,1883.7" stroke="#8e8e8e" stroke-width="2.3"/><path d="M281.4,1896.8Q284.4,1903.2 286.4,1910.0" stroke="#fafafa" stroke-width="2.1"/><path d="M93.5,1764.2Q89.4,1770.4 88.3,1777.7" stroke="#929292" stroke-width="1.8"/><path d="M92.7,1788.1Q91.2,1790.8 92.2,1793.7" stroke="#6a6a6a" stroke-width="1.6"/><path d="M255.0,2012.7Q260.0,2013.4 264.6,2011.6" stroke="#adadad" stroke-width="1.6"/><path d="M295.5,1744.7Q294.8,1750.2 292.6,1755.3" stroke="#616161" stroke-width="1.5"/><path d="M141.2,2090.8Q146.2,2089.9 150.9,2087.7" stroke="#727272" stroke-width="2.0"/><path d="M244.5,1951.4Q247.1,1947.7 248.1,1943.2" stroke="#bebebe" stroke-width="1.9"/><path d="M258.5,2149.5Q263.5,2144.2 265.2,2137.0" stroke="#989898" stroke-width="1.7"/><path d="M294.5,1981.9Q302.8,1981.1 309.5,1986.1" stroke="#fafafa" stroke-width="1.5"/><path d="M218.0,1603.4Q210.7,1603.9 203.4,1604.5" stroke="#b7b7b7" stroke-width="1.5"/><path d="M201.2,2079.0Q205.3,2081.0 209.8,2080.8" stroke="#a5a5a5" stroke-width="2.3"/><path d="M315.5,2065.5Q308.0,2067.4 300.3,2066.0" stroke="#939393" stroke-width="1.6"/><path d="M299.2,2227.2Q300.4,2221.0 305.4,2217.1" stroke="#787878" stroke-width="1.5"/><path d="M141.6,1943.6Q140.2,1950.0 144.3,1955.1" stroke="#747474" stroke-width="2.1"/><path d="M175.9,1751.6Q172.5,1756.2 173.8,1761.8" stroke="#d9d9d9" stroke-width="2.0"/><path d="M311.0,1737.7Q313.7,1743.1 319.5,1744.5" stroke="#414141" stroke-width="2.0"/><path d="M199.9,1778.4Q201.6,1780.6 203.3,1782.8" stroke="#c9c9c9" stroke-width="2.6"/><path d="M351.6,2157.9Q352.7,2155.1 352.6,2152.2" stroke="#676767" stroke-width="1.9"/><path d="M210.4,2073.2Q216.3,2072.8 221.0,2069.3" stroke="#a4a4a4" stroke-width="2.1"/><path d="M206.0,2251.8Q212.1,2255.9 216.6,2261.8" stroke="#404040" stroke-width="2.3"/><path d="M294.7,2197.5Q297.4,2193.9 301.8,2192.8" stroke="#cbcbcb" stroke-width="2.1"/><path d="M279.6,1908.6Q283.4,1907.9 287.1,1906.5" stroke="#d2d2d2" stroke-width="1.7"/><path d="M173.3,2046.2Q176.9,2047.2 180.0,2045.0" stroke="#e1e1e1" stroke-width="1.8"/><path d="M175.3,1874.7Q176.1,1867.5 181.3,1862.3" stroke="#6c6c6c" stroke-width="2.0"/><path d="M189.0,1729.8Q186.8,1732.2 185.7,1735.2" stroke="#fafafa" stroke-width="1.7"/><path d="M311.1,2183.0Q315.1,2178.5 319.5,2174.4" stroke="#a7a7a7" stroke-width="2.4"/><path d="M199.4,1922.9Q193.9,1920.9 188.7,1923.5" stroke="#a3a3a3" stroke-width="1.5"/><path d="M139.2,1937.2Q144.2,1933.8 150.0,1931.9" stroke="#585858" stroke-width="2.2"/><path d="M299.5,1766.9Q299.9,1772.2 299.1,1777.5" stroke="#7f7f7f" stroke-width="1.8"/><path d="M301.9,2078.3Q303.2,2074.5 306.5,2072.3" stroke="#fafafa" stroke-width="2.0"/><path d="M227.3,1932.5Q227.7,1929.7 229.7,1927.9" stroke="#9e9e9e" stroke-width="2.0"/><path d="M122.5,1693.9Q119.8,1698.6 114.5,1699.8" stroke="#989898" stroke-width="1.5"/><path d="M208.5,2233.7Q205.0,2237.5 204.1,2242.5" stroke="#3f3f3f" stroke-width="1.6"/><path d="M188.7,1774.1Q184.8,1773.1 180.9,1774.5" stroke="#cecece" stroke-width="2.2"/><path d="M118.4,1716.4Q113.5,1720.2 108.0,1723.0" stroke="#8e8e8e" stroke-width="2.1"/><path d="M349.2,1848.0Q350.9,1845.5 353.8,1845.1" stroke="#8a8a8a" stroke-width="2.2"/><path d="M147.5,1853.7Q152.3,1855.2 157.3,1854.0" stroke="#eaeaea" stroke-width="2.3"/><path d="M88.8,1798.7Q89.7,1804.9 89.4,1811.2" stroke="#4b4b4b" stroke-width="1.5"/><path d="M201.6,2000.9Q203.9,2008.2 201.9,2015.5" stroke="#9e9e9e" stroke-width="1.9"/><path d="M211.6,1711.4Q215.0,1714.4 219.0,1716.3" stroke="#949494" stroke-width="2.2"/><path d="M273.0,1853.5Q276.5,1849.6 281.9,1849.8" stroke="#f3f3f3" stroke-width="1.6"/><path d="M233.3,1957.1Q236.6,1954.4 239.8,1951.6" stroke="#fafafa" stroke-width="1.7"/><path d="M281.2,1867.0Q286.9,1861.2 288.6,1853.3" stroke="#fafafa" stroke-width="1.8"/><path d="M335.6,1892.1Q340.3,1891.3 344.0,1888.2" stroke="#d9d9d9" stroke-width="1.4"/><path d="M345.6,1670.9Q339.3,1675.7 332.5,1679.6" stroke="#656565" stroke-width="2.0"/><path d="M258.2,2148.4Q262.4,2150.6 267.1,2149.8" stroke="#606060" stroke-width="2.2"/><path d="M349.7,2146.7Q354.4,2147.5 358.2,2144.7" stroke="#686868" stroke-width="2.3"/><path d="M183.9,2043.9Q189.1,2039.7 190.2,2033.1" stroke="#9e9e9e" stroke-width="1.7"/><path d="M135.9,1730.9Q139.7,1730.9 143.4,1731.0" stroke="#bebebe" stroke-width="2.2"/><path d="M249.9,1938.4Q250.9,1934.2 250.8,1929.9" stroke="#cecece" stroke-width="2.2"/><path d="M274.4,1926.7Q277.5,1926.9 280.1,1925.1" stroke="#fafafa" stroke-width="2.0"/><path d="M291.1,1790.7Q296.8,1793.1 303.1,1793.0" stroke="#868686" stroke-width="1.6"/>
<path d="M195.7,1611.4L261.0,1601.4" stroke="#dcdcdc" stroke-width="4.0"/>
<path d="M167.3,1648.3L187.2,1673.8" stroke="#aaaaaa" stroke-width="3.5"/>
<path d="M160.0,1650.0L185.0,1652.0" stroke="#969696" stroke-width="3.0"/>
<path d="M87.8,1707.9L113.4,1730.6" stroke="#c8c8c8" stroke-width="4.0"/>
<path d="M113.4,1862.3L130.4,1839.6" stroke="#d2d2d2" stroke-width="4.0"/>
<path d="M130.4,1839.6L140.0,1845.0" stroke="#b4b4b4" stroke-width="3.5"/>
<path d="M164.5,1848.0L167.3,1859.5" stroke="#dcdcdc" stroke-width="4.0"/>
<path d="M181.5,1853.8L185.8,1865.2" stroke="#e6e6e6" stroke-width="5.0"/>
<path d="M261.0,1905.0L298.0,1905.0" stroke="#969696" stroke-width="3.0"/>
<path d="M278.0,1919.0L295.0,1899.0" stroke="#d2d2d2" stroke-width="5.0"/>
<path d="M289.4,1862.3L300.8,1862.3" stroke="#c8c8c8" stroke-width="3.5"/>
<path d="M258.0,1980.0L266.7,1985.6" stroke="#d2d2d2" stroke-width="6.0"/>
<path d="M164.5,2042.3L173.0,2053.7" stroke="#c8c8c8" stroke-width="4.5"/>
<path d="M113.4,2073.6L119.0,2093.4" stroke="#d7d7d7" stroke-width="4.5"/>
<path d="M289.4,2062.2L326.3,2067.9" stroke="#969696" stroke-width="3.0"/>
<path d="M90.0,1900.0L115.0,1890.0" stroke="#aaaaaa" stroke-width="3.0"/>
<path d="M262.0,1802.0L280.0,1790.0" stroke="#969696" stroke-width="3.0"/>
<path d="M230.0,1795.0L238.0,1820.0" stroke="#a0a0a0" stroke-width="3.0"/>
</g>
<filter id="fb2" color-interpolation-filters="sRGB"><feGaussianBlur stdDeviation="2"/></filter>
<g filter="url(#fb2)">
<ellipse cx="227.0" cy="1985.6" rx="5.0" ry="5.0" fill="#dcdcdc"/>
<ellipse cx="235.5" cy="2031.0" rx="6.0" ry="6.0" fill="#e6e6e6"/>
<ellipse cx="266.7" cy="2028.0" rx="6.0" ry="5.0" fill="#e6e6e6"/>
<ellipse cx="244.0" cy="1862.3" rx="5.0" ry="4.0" fill="#dcdcdc"/>
<ellipse cx="141.8" cy="1802.7" rx="4.0" ry="4.0" fill="#d2d2d2"/>
<ellipse cx="121.9" cy="1822.6" rx="4.0" ry="4.0" fill="#d2d2d2"/>
<ellipse cx="107.7" cy="2019.6" rx="4.0" ry="4.0" fill="#e6e6e6"/>
<ellipse cx="312.0" cy="2175.0" rx="10.0" ry="8.0" fill="#ebebeb"/>
<ellipse cx="326.0" cy="2212.0" rx="8.0" ry="12.0" fill="#ebebeb"/>
<ellipse cx="183.0" cy="2158.0" rx="3.5" ry="4.0" fill="#ebebeb"/>
<ellipse cx="188.6" cy="2176.7" rx="3.5" ry="4.0" fill="#e6e6e6"/>
<ellipse cx="303.6" cy="1836.8" rx="4.0" ry="4.0" fill="#c8c8c8"/>
<ellipse cx="207.0" cy="1708.0" rx="4.0" ry="3.0" fill="#c8c8c8"/>
<ellipse cx="264.0" cy="1762.0" rx="3.0" ry="4.0" fill="#dcdcdc"/>
<ellipse cx="173.0" cy="2073.6" rx="4.0" ry="3.0" fill="#dcdcdc"/>
</g>
</g>
<rect x="375.3" y="1597.2" width="276.7" height="673.8" fill="#0b0b0b"/>
<clipPath id="c2"><rect x="375.3" y="1597.2" width="276.7" height="673.8"/></clipPath>
<filter id="fb3" x="370" y="1590" width="290" height="690" filterUnits="userSpaceOnUse" color-interpolation-filters="sRGB"><feGaussianBlur stdDeviation="1.0"/></filter>
<filter id="fb3b" x="370" y="1590" width="290" height="690" filterUnits="userSpaceOnUse" color-interpolation-filters="sRGB"><feGaussianBlur stdDeviation="3.5"/></filter>
<g clip-path="url(#c2)">
<g filter="url(#fb3b)">
<ellipse cx="577.0" cy="1745.0" rx="14.0" ry="24.0" fill="#3c3c3c"/>
<ellipse cx="579.0" cy="1752.0" rx="7.0" ry="9.0" fill="#969696"/>
<ellipse cx="500.0" cy="1889.0" rx="14.0" ry="6.0" fill="#464646"/>
<ellipse cx="592.0" cy="1831.0" rx="10.0" ry="6.0" fill="#505050"/>
<ellipse cx="611.0" cy="1732.0" rx="6.0" ry="5.0" fill="#646464"/>
<ellipse cx="590.0" cy="1777.0" rx="10.0" ry="6.0" fill="#282828"/>
<ellipse cx="495.0" cy="1715.0" rx="8.0" ry="10.0" fill="#232323"/>
</g>
<g filter="url(#fb3)" fill="none" stroke-linecap="round" stroke-linejoin="round">
<path d="M391.6,1812.5 L392.6,1836.0" stroke="#fafafa" stroke-width="6.5"/>
<path d="M441.0,1786.8 L448.0,1795.0" stroke="#676767" stroke-width="2.0" stroke-dasharray="1.4 2.6"/>
<path d="M434.7,1795.2 L460.0,1800.5 L481.0,1806.8 L485.2,1813.1 L493.6,1819.4 L499.9,1828.9 L504.1,1833.1" stroke="#acacac" stroke-width="2.4" stroke-dasharray="1.4 2.6"/>
<path d="M504.1,1833.1 L514.6,1847.8 L523.0,1856.2 L531.5,1866.7 L529.4,1883.6 L528.3,1900.4 L533.6,1917.2 L539.9,1929.8" stroke="#a1a1a1" stroke-width="2.2" stroke-dasharray="1.4 2.6"/>
<path d="M516.7,1849.9 L510.4,1866.7 L504.1,1881.5 L497.8,1889.9 L489.4,1887.8 L483.1,1886.7" stroke="#969696" stroke-width="2.2" stroke-dasharray="1.4 2.6"/>
<path d="M487.0,1886.0 L500.0,1890.0 L519.0,1893.0" stroke="#f7f7f7" stroke-width="3.2"/>
<path d="M491.0,1884.0 L502.0,1896.0" stroke="#cfcfcf" stroke-width="2.5"/>
<path d="M434.7,1921.4 L451.5,1925.6 L466.3,1921.4 L478.9,1929.8 L495.7,1938.2 L508.3,1944.6" stroke="#969696" stroke-width="2.3" stroke-dasharray="1.4 2.6"/>
<path d="M516.7,1931.9 L518.8,1948.8 L523.0,1963.5 L531.0,1972.0" stroke="#acacac" stroke-width="2.6"/>
<path d="M497.8,1917.2 L499.9,1938.2 L501.0,1955.1" stroke="#8a8a8a" stroke-width="2.2" stroke-dasharray="1.4 2.6"/>
<path d="M567.2,1847.8 L584.0,1858.3 L594.6,1860.4 L605.1,1853.1" stroke="#acacac" stroke-width="2.4"/>
<path d="M584.0,1829.0 L600.0,1835.0" stroke="#e6e6e6" stroke-width="3.0"/>
<path d="M588.0,1826.0 L597.0,1838.0" stroke="#c3c3c3" stroke-width="2.5"/>
<path d="M560.9,1805.8 L575.6,1810.0" stroke="#7e7e7e" stroke-width="2.4"/>
<path d="M533.6,1898.0 L540.0,1905.0 L548.3,1915.0" stroke="#8a8a8a" stroke-width="2.2" stroke-dasharray="1.4 2.6"/>
<path d="M443.0,1871.0 L460.0,1875.0" stroke="#969696" stroke-width="2.5" stroke-dasharray="1.4 2.6"/>
<path d="M443.0,1891.0 L462.0,1895.0" stroke="#676767" stroke-width="2.5" stroke-dasharray="1.4 2.6"/>
<path d="M546.0,1850.0 L554.6,1858.0" stroke="#7e7e7e" stroke-width="2.2"/>
<path d="M550.4,1866.7 L554.6,1873.0" stroke="#8a8a8a" stroke-width="2.5"/>
<path d="M573.5,1772.0 L590.0,1776.0 L605.0,1782.0" stroke="#7e7e7e" stroke-width="2.3" stroke-dasharray="1.4 2.6"/>
<path d="M573.6,1712.2 L566.0,1729.2 L562.2,1736.8" stroke="#a1a1a1" stroke-width="2.4" stroke-dasharray="1.4 2.6"/>
<path d="M577.4,1714.0 L583.0,1725.4" stroke="#969696" stroke-width="2.4"/>
<path d="M573.6,1767.0 L592.5,1774.6 L603.9,1770.9" stroke="#8a8a8a" stroke-width="2.3" stroke-dasharray="1.4 2.6"/>
<path d="M590.6,1776.5 L600.0,1786.0 L596.3,1797.4" stroke="#7e7e7e" stroke-width="2.2" stroke-dasharray="1.4 2.6"/>
<path d="M607.6,1752.0 L611.4,1761.4" stroke="#676767" stroke-width="2.2"/>
<path d="M511.1,1723.5 L516.8,1738.7 L519.6,1752.0" stroke="#a1a1a1" stroke-width="2.4" stroke-dasharray="1.4 2.6"/>
<path d="M516.8,1731.0 L530.0,1726.4" stroke="#7e7e7e" stroke-width="2.2"/>
<path d="M490.3,1710.0 L495.0,1718.0 L499.8,1725.4" stroke="#7e7e7e" stroke-width="2.6" stroke-dasharray="1.4 2.6"/>
<path d="M477.0,1697.0 L480.8,1706.5" stroke="#5c5c5c" stroke-width="2.2"/>
<path d="M386.7,1684.4 L398.0,1670.0 L410.0,1655.3" stroke="#3f3f3f" stroke-width="2.0"/>
<path d="M555.0,1612.0 L562.0,1601.0" stroke="#454545" stroke-width="2.0"/>
<path d="M605.0,1636.0 L618.0,1642.0" stroke="#454545" stroke-width="2.0"/>
<path d="M468.2,1935.0 L500.0,1940.0 L538.1,1947.5" stroke="#969696" stroke-width="2.2" stroke-dasharray="1.4 2.6"/>
<path d="M517.7,1938.7 L520.6,1959.1 L532.3,1972.2" stroke="#b8b8b8" stroke-width="2.6"/>
<path d="M503.2,1988.3 L530.0,1982.0 L567.3,1979.5" stroke="#7e7e7e" stroke-width="2.1" stroke-dasharray="1.4 2.6"/>
<path d="M538.1,1999.9 L539.6,2029.0" stroke="#a1a1a1" stroke-width="2.3" stroke-dasharray="1.4 2.6"/>
<path d="M552.7,1991.2 L564.3,2014.5" stroke="#7e7e7e" stroke-width="2.1" stroke-dasharray="1.4 2.6"/>
<path d="M625.5,1991.2 L634.3,2005.7" stroke="#f1f1f1" stroke-width="3.6"/>
<path d="M544.0,2058.2 L560.0,2056.0 L576.0,2061.1" stroke="#8a8a8a" stroke-width="2.2" stroke-dasharray="1.4 2.6"/>
<path d="M477.0,2065.4 L510.0,2076.0 L546.9,2091.7" stroke="#e6e6e6" stroke-width="2.8"/>
<path d="M562.9,2082.9 L567.3,2096.0" stroke="#c3c3c3" stroke-width="3.0"/>
<path d="M578.9,2122.3 L570.2,2138.3" stroke="#fafafa" stroke-width="3.6"/>
<path d="M567.3,2226.0 L584.7,2238.8 L592.0,2259.2" stroke="#b8b8b8" stroke-width="2.6"/>
<path d="M602.2,2066.9 L622.6,2069.8" stroke="#3f3f3f" stroke-width="2.0"/>
<path d="M474.0,2080.0 L478.0,2095.0 L485.0,2110.0" stroke="#5c5c5c" stroke-width="2.0"/>
<path d="M480.0,2100.0 L495.0,2092.0" stroke="#454545" stroke-width="2.0"/>
<path d="M455.0,2195.0 L470.0,2190.0" stroke="#343434" stroke-width="2.0"/>
<path d="M455.0,2250.0 L465.0,2262.0" stroke="#454545" stroke-width="2.0"/>
<path d="M560.0,2045.0 L575.0,2048.0" stroke="#969696" stroke-width="2.4"/>
<path d="M545.0,2050.0 L550.0,2056.0" stroke="#acacac" stroke-width="2.4"/>
<circle cx="547.7" cy="2097.0" r="1.4" fill="#4d4d4d" stroke="none"/>
<circle cx="580.0" cy="2218.7" r="0.8" fill="#383838" stroke="none"/>
<circle cx="636.3" cy="2034.5" r="1.5" fill="#282828" stroke="none"/>
<circle cx="505.1" cy="1763.3" r="1.2" fill="#3d3d3d" stroke="none"/>
<circle cx="378.9" cy="1743.2" r="1.0" fill="#4c4c4c" stroke="none"/>
<circle cx="587.2" cy="1704.7" r="1.4" fill="#292929" stroke="none"/>
<circle cx="546.1" cy="1682.6" r="0.8" fill="#4a4a4a" stroke="none"/>
<circle cx="433.3" cy="1742.4" r="1.6" fill="#4a4a4a" stroke="none"/>
<circle cx="455.4" cy="2245.0" r="1.2" fill="#424242" stroke="none"/>
<circle cx="432.0" cy="2231.2" r="1.4" fill="#4e4e4e" stroke="none"/>
<circle cx="622.6" cy="1798.5" r="1.1" fill="#2a2a2a" stroke="none"/>
<circle cx="415.6" cy="1641.1" r="1.0" fill="#3e3e3e" stroke="none"/>
<circle cx="376.2" cy="2054.0" r="1.1" fill="#313131" stroke="none"/>
<circle cx="601.8" cy="1921.1" r="1.1" fill="#393939" stroke="none"/>
<circle cx="570.3" cy="1635.6" r="1.6" fill="#242424" stroke="none"/>
<circle cx="582.8" cy="2166.5" r="0.8" fill="#464646" stroke="none"/>
<circle cx="476.6" cy="1987.0" r="0.8" fill="#252525" stroke="none"/>
<circle cx="425.4" cy="2240.8" r="1.0" fill="#454545" stroke="none"/>
<circle cx="632.5" cy="2231.9" r="1.1" fill="#333333" stroke="none"/>
<circle cx="520.5" cy="2119.8" r="0.9" fill="#454545" stroke="none"/>
<circle cx="595.9" cy="2176.5" r="0.8" fill="#4e4e4e" stroke="none"/>
<circle cx="400.5" cy="1826.8" r="1.3" fill="#4c4c4c" stroke="none"/>
<circle cx="469.4" cy="2219.9" r="1.2" fill="#313131" stroke="none"/>
<circle cx="463.0" cy="1716.8" r="0.9" fill="#2a2a2a" stroke="none"/>
<circle cx="566.0" cy="2268.8" r="0.9" fill="#252525" stroke="none"/>
<circle cx="648.3" cy="1956.7" r="1.1" fill="#2e2e2e" stroke="none"/>
<circle cx="539.6" cy="2154.0" r="1.2" fill="#363636" stroke="none"/>
<circle cx="390.7" cy="2214.4" r="0.8" fill="#393939" stroke="none"/>
<circle cx="607.3" cy="1685.2" r="1.4" fill="#4e4e4e" stroke="none"/>
<circle cx="549.7" cy="2128.2" r="0.9" fill="#373737" stroke="none"/>
<circle cx="416.6" cy="2166.4" r="1.0" fill="#373737" stroke="none"/>
<circle cx="651.8" cy="2171.4" r="1.6" fill="#373737" stroke="none"/>
<circle cx="510.4" cy="2088.7" r="1.2" fill="#303030" stroke="none"/>
<circle cx="487.0" cy="1695.9" r="1.1" fill="#4f4f4f" stroke="none"/>
<circle cx="640.9" cy="2019.6" r="1.2" fill="#323232" stroke="none"/>
<circle cx="400.0" cy="1780.7" r="1.4" fill="#4a4a4a" stroke="none"/>
<circle cx="475.3" cy="2126.8" r="1.4" fill="#424242" stroke="none"/>
<circle cx="559.0" cy="2109.0" r="1.1" fill="#434343" stroke="none"/>
<circle cx="453.0" cy="1924.5" r="1.4" fill="#424242" stroke="none"/>
<circle cx="456.6" cy="2234.3" r="1.3" fill="#3d3d3d" stroke="none"/>
<circle cx="378.5" cy="1965.8" r="1.0" fill="#414141" stroke="none"/>
<circle cx="503.4" cy="2147.5" r="1.3" fill="#474747" stroke="none"/>
<circle cx="471.6" cy="2031.2" r="1.4" fill="#484848" stroke="none"/>
<circle cx="472.2" cy="2165.1" r="1.5" fill="#424242" stroke="none"/>
<circle cx="645.4" cy="2241.7" r="1.2" fill="#3b3b3b" stroke="none"/>
<circle cx="421.3" cy="2160.9" r="1.5" fill="#383838" stroke="none"/>
<circle cx="566.6" cy="2082.1" r="1.4" fill="#2b2b2b" stroke="none"/>
<circle cx="591.2" cy="1988.6" r="1.3" fill="#363636" stroke="none"/>
<circle cx="547.9" cy="2119.2" r="1.3" fill="#434343" stroke="none"/>
<circle cx="382.9" cy="1705.0" r="1.2" fill="#404040" stroke="none"/>
<circle cx="435.9" cy="2059.4" r="1.3" fill="#252525" stroke="none"/>
<circle cx="505.8" cy="1749.6" r="0.8" fill="#292929" stroke="none"/>
<circle cx="463.1" cy="1719.5" r="1.0" fill="#252525" stroke="none"/>
<circle cx="504.1" cy="1853.4" r="1.3" fill="#3e3e3e" stroke="none"/>
<circle cx="441.1" cy="2205.8" r="0.8" fill="#353535" stroke="none"/>
<circle cx="452.4" cy="1873.5" r="0.9" fill="#484848" stroke="none"/>
<circle cx="478.8" cy="1621.5" r="1.3" fill="#272727" stroke="none"/>
<circle cx="526.2" cy="1825.9" r="1.3" fill="#4e4e4e" stroke="none"/>
<circle cx="601.8" cy="1879.6" r="1.5" fill="#404040" stroke="none"/>
<circle cx="477.5" cy="1693.0" r="1.3" fill="#3c3c3c" stroke="none"/>
<circle cx="427.4" cy="2008.6" r="3.0" fill="#969696" stroke="none"/>
<circle cx="430.3" cy="2081.5" r="2.0" fill="#828282" stroke="none"/>
<circle cx="383.7" cy="2122.3" r="2.2" fill="#8c8c8c" stroke="none"/>
<circle cx="567.0" cy="2214.0" r="2.5" fill="#a0a0a0" stroke="none"/>
<circle cx="579.0" cy="1751.0" r="4.0" fill="#e6e6e6" stroke="none"/>
<circle cx="508.3" cy="1699.0" r="2.2" fill="#787878" stroke="none"/>
<circle cx="510.2" cy="1708.4" r="2.0" fill="#6e6e6e" stroke="none"/>
<circle cx="550.9" cy="1713.1" r="2.0" fill="#505050" stroke="none"/>
<circle cx="474.0" cy="2084.0" r="2.5" fill="#828282" stroke="none"/>
<circle cx="519.0" cy="1764.0" r="2.0" fill="#5a5a5a" stroke="none"/>
</g></g>
<rect x="665.6" y="1596.2" width="277.0" height="677.4" fill="#070707"/>
<filter id="fb4" color-interpolation-filters="sRGB"><feGaussianBlur stdDeviation="0.7"/></filter>
<g filter="url(#fb4)">
<circle cx="794.0" cy="1849.6" r="0.8" fill="#404040"/>
<circle cx="669.4" cy="1936.8" r="1.3" fill="#1d1d1d"/>
<circle cx="818.9" cy="2013.5" r="0.7" fill="#2a2a2a"/>
<circle cx="859.7" cy="1902.6" r="1.2" fill="#202020"/>
<circle cx="732.6" cy="1672.9" r="1.1" fill="#434343"/>
<circle cx="828.8" cy="2119.6" r="1.0" fill="#3b3b3b"/>
<circle cx="695.4" cy="1794.3" r="1.2" fill="#3a3a3a"/>
<circle cx="782.7" cy="1657.3" r="0.9" fill="#222222"/>
<circle cx="744.4" cy="2143.3" r="0.8" fill="#414141"/>
<circle cx="907.7" cy="1635.1" r="1.0" fill="#2f2f2f"/>
<circle cx="674.0" cy="1884.2" r="1.3" fill="#1e1e1e"/>
<circle cx="830.5" cy="1679.8" r="1.1" fill="#414141"/>
<circle cx="723.0" cy="1603.8" r="0.8" fill="#313131"/>
<circle cx="672.4" cy="1655.3" r="1.0" fill="#424242"/>
<circle cx="782.3" cy="1866.3" r="1.1" fill="#1d1d1d"/>
<circle cx="825.9" cy="1714.4" r="1.1" fill="#444444"/>
<circle cx="682.4" cy="1972.0" r="1.1" fill="#202020"/>
<circle cx="740.8" cy="2268.2" r="1.4" fill="#1e1e1e"/>
<circle cx="860.2" cy="2238.6" r="0.9" fill="#353535"/>
<circle cx="679.3" cy="1844.6" r="1.2" fill="#343434"/>
<circle cx="879.1" cy="1656.6" r="0.9" fill="#404040"/>
<circle cx="827.1" cy="1902.1" r="1.0" fill="#454545"/>
<circle cx="824.4" cy="1610.6" r="1.3" fill="#282828"/>
<circle cx="786.0" cy="1741.9" r="1.0" fill="#282828"/>
<circle cx="691.8" cy="2022.1" r="0.8" fill="#3c3c3c"/>
<circle cx="674.5" cy="2123.9" r="1.3" fill="#2f2f2f"/>
<circle cx="861.3" cy="1765.4" r="1.2" fill="#2c2c2c"/>
<circle cx="730.7" cy="2247.4" r="1.0" fill="#2a2a2a"/>
<circle cx="902.4" cy="1846.9" r="1.2" fill="#212121"/>
<circle cx="897.8" cy="1772.6" r="0.7" fill="#454545"/>
<circle cx="714.8" cy="2235.6" r="1.4" fill="#343434"/>
<circle cx="670.8" cy="1639.2" r="0.8" fill="#2a2a2a"/>
<circle cx="834.6" cy="2249.0" r="0.9" fill="#1f1f1f"/>
<circle cx="821.0" cy="1690.7" r="0.8" fill="#323232"/>
<circle cx="857.6" cy="1642.4" r="1.0" fill="#393939"/>
<circle cx="876.2" cy="1856.1" r="1.3" fill="#212121"/>
<circle cx="862.9" cy="2117.9" r="1.3" fill="#2f2f2f"/>
<circle cx="694.7" cy="1630.8" r="1.1" fill="#212121"/>
<circle cx="839.5" cy="1654.9" r="1.2" fill="#232323"/>
<circle cx="671.2" cy="1716.6" r="1.0" fill="#323232"/>
<circle cx="773.6" cy="1714.7" r="1.0" fill="#444444"/>
<circle cx="813.8" cy="2232.1" r="0.7" fill="#464646"/>
<circle cx="910.3" cy="1964.8" r="1.1" fill="#313131"/>
<circle cx="915.9" cy="1642.4" r="1.1" fill="#313131"/>
<circle cx="749.6" cy="2086.4" r="1.2" fill="#1e1e1e"/>
<circle cx="858.6" cy="1903.6" r="1.0" fill="#363636"/>
<circle cx="682.1" cy="2004.2" r="1.0" fill="#414141"/>
<circle cx="730.7" cy="2152.5" r="1.2" fill="#353535"/>
<circle cx="906.7" cy="1622.4" r="1.1" fill="#353535"/>
<circle cx="852.7" cy="1872.1" r="0.7" fill="#222222"/>
<circle cx="833.6" cy="1720.3" r="0.7" fill="#292929"/>
<circle cx="796.0" cy="1958.9" r="0.7" fill="#3c3c3c"/>
<circle cx="758.7" cy="2125.4" r="0.7" fill="#444444"/>
<circle cx="828.7" cy="2255.7" r="1.4" fill="#3e3e3e"/>
<circle cx="696.6" cy="1833.1" r="0.9" fill="#3c3c3c"/>
<circle cx="720.1" cy="1747.1" r="0.8" fill="#1e1e1e"/>
<circle cx="923.7" cy="2255.6" r="1.0" fill="#3a3a3a"/>
<circle cx="795.2" cy="1949.7" r="1.0" fill="#363636"/>
<circle cx="732.1" cy="1770.8" r="1.1" fill="#222222"/>
<circle cx="787.5" cy="2233.8" r="0.7" fill="#1e1e1e"/>
<circle cx="886.0" cy="1637.1" r="0.9" fill="#3f3f3f"/>
<circle cx="832.8" cy="1746.8" r="0.7" fill="#252525"/>
<circle cx="749.5" cy="2137.1" r="1.4" fill="#3c3c3c"/>
<circle cx="913.8" cy="2224.9" r="1.3" fill="#424242"/>
<circle cx="931.7" cy="1661.8" r="0.9" fill="#242424"/>
<circle cx="832.5" cy="1929.3" r="0.9" fill="#3f3f3f"/>
<circle cx="776.6" cy="1738.9" r="0.9" fill="#2e2e2e"/>
<circle cx="834.3" cy="1981.0" r="1.0" fill="#212121"/>
<circle cx="777.4" cy="1817.1" r="0.8" fill="#313131"/>
<circle cx="719.1" cy="2077.4" r="1.2" fill="#1f1f1f"/>
<circle cx="838.3" cy="1825.7" r="1.0" fill="#343434"/>
<circle cx="875.5" cy="2193.2" r="1.2" fill="#232323"/>
<circle cx="815.5" cy="1824.0" r="0.7" fill="#323232"/>
<circle cx="796.1" cy="2182.0" r="0.9" fill="#3f3f3f"/>
<circle cx="808.0" cy="1664.9" r="1.2" fill="#262626"/>
<circle cx="813.2" cy="1646.3" r="0.7" fill="#424242"/>
<circle cx="679.1" cy="1698.6" r="0.8" fill="#1d1d1d"/>
<circle cx="892.6" cy="2268.4" r="1.2" fill="#2b2b2b"/>
<circle cx="910.1" cy="1939.1" r="0.8" fill="#383838"/>
<circle cx="765.6" cy="1780.0" r="0.9" fill="#2a2a2a"/>
<circle cx="717.4" cy="2010.7" r="1.3" fill="#333333"/>
<circle cx="670.2" cy="2058.9" r="0.7" fill="#2f2f2f"/>
<circle cx="903.9" cy="2054.2" r="1.3" fill="#3b3b3b"/>
<circle cx="742.1" cy="1695.0" r="1.0" fill="#383838"/>
<circle cx="731.0" cy="1821.1" r="1.2" fill="#292929"/>
<circle cx="831.6" cy="1965.5" r="1.4" fill="#1a1a1a"/>
<circle cx="718.5" cy="2122.5" r="1.2" fill="#1d1d1d"/>
<circle cx="704.3" cy="1740.1" r="1.1" fill="#424242"/>
<circle cx="726.7" cy="1734.8" r="1.2" fill="#2c2c2c"/>
<circle cx="898.7" cy="2270.9" r="1.4" fill="#393939"/>
<circle cx="803.1" cy="1639.2" r="1.3" fill="#2b2b2b"/>
<circle cx="794.2" cy="2023.9" r="1.4" fill="#323232"/>
<circle cx="918.2" cy="2247.4" r="0.8" fill="#292929"/>
<circle cx="910.2" cy="2115.0" r="1.4" fill="#212121"/>
<circle cx="812.6" cy="2226.4" r="1.1" fill="#373737"/>
<circle cx="933.8" cy="1714.9" r="0.7" fill="#3f3f3f"/>
<circle cx="826.2" cy="1733.1" r="1.3" fill="#262626"/>
<circle cx="703.0" cy="1798.6" r="0.7" fill="#2b2b2b"/>
<circle cx="880.4" cy="1903.9" r="1.4" fill="#1b1b1b"/>
<circle cx="714.8" cy="1695.1" r="1.1" fill="#222222"/>
<circle cx="849.8" cy="1950.5" r="1.1" fill="#3f3f3f"/>
<circle cx="883.2" cy="2219.3" r="0.8" fill="#2a2a2a"/>
<circle cx="929.8" cy="1865.4" r="0.9" fill="#2f2f2f"/>
<circle cx="717.0" cy="2169.5" r="1.1" fill="#1d1d1d"/>
<circle cx="930.8" cy="1948.6" r="0.9" fill="#353535"/>
<circle cx="926.8" cy="1831.8" r="0.7" fill="#222222"/>
<circle cx="683.6" cy="1954.2" r="0.9" fill="#3f3f3f"/>
<circle cx="723.9" cy="1608.4" r="1.0" fill="#1f1f1f"/>
<circle cx="752.3" cy="1750.1" r="0.8" fill="#363636"/>
<circle cx="923.2" cy="1847.4" r="1.1" fill="#282828"/>
<circle cx="917.4" cy="1970.5" r="0.7" fill="#3a3a3a"/>
<circle cx="724.9" cy="1629.8" r="0.7" fill="#3f3f3f"/>
<circle cx="861.4" cy="1839.3" r="1.1" fill="#393939"/>
<circle cx="688.2" cy="2073.5" r="1.2" fill="#434343"/>
<circle cx="683.7" cy="1983.7" r="1.1" fill="#3f3f3f"/>
<circle cx="767.0" cy="2044.3" r="1.3" fill="#292929"/>
<circle cx="808.3" cy="2199.9" r="0.7" fill="#454545"/>
<circle cx="753.0" cy="1906.2" r="0.9" fill="#3d3d3d"/>
<circle cx="813.0" cy="2101.7" r="0.8" fill="#414141"/>
<circle cx="891.7" cy="2056.3" r="0.9" fill="#252525"/>
<circle cx="791.0" cy="1642.0" r="1.4" fill="#2b2b2b"/>
<circle cx="927.9" cy="1721.4" r="1.2" fill="#3d3d3d"/>
<circle cx="843.6" cy="1883.1" r="0.7" fill="#2d2d2d"/>
<circle cx="774.1" cy="2234.6" r="1.4" fill="#444444"/>
<circle cx="935.2" cy="1711.9" r="0.7" fill="#262626"/>
<circle cx="669.8" cy="1678.2" r="1.1" fill="#222222"/>
<circle cx="834.3" cy="1854.5" r="0.9" fill="#454545"/>
<circle cx="718.5" cy="2192.4" r="1.1" fill="#373737"/>
<circle cx="706.9" cy="2099.9" r="1.3" fill="#222222"/>
<circle cx="796.7" cy="2038.1" r="1.0" fill="#3b3b3b"/>
<circle cx="843.5" cy="1809.7" r="1.2" fill="#3c3c3c"/>
<circle cx="794.1" cy="1995.7" r="1.1" fill="#2e2e2e"/>
<circle cx="691.8" cy="1872.7" r="1.2" fill="#3a3a3a"/>
<circle cx="687.9" cy="1920.1" r="1.1" fill="#313131"/>
<circle cx="708.5" cy="2033.7" r="1.2" fill="#313131"/>
<circle cx="924.1" cy="1987.2" r="0.7" fill="#262626"/>
<circle cx="859.3" cy="1651.9" r="1.4" fill="#383838"/>
<circle cx="876.4" cy="1712.6" r="0.7" fill="#404040"/>
<circle cx="807.1" cy="1895.9" r="1.1" fill="#3c3c3c"/>
<circle cx="769.3" cy="2118.6" r="0.8" fill="#454545"/>
<circle cx="857.6" cy="1812.7" r="1.0" fill="#414141"/>
<circle cx="756.5" cy="2068.9" r="1.3" fill="#444444"/>
<circle cx="737.4" cy="2133.4" r="1.1" fill="#3d3d3d"/>
<circle cx="686.6" cy="1876.3" r="1.0" fill="#3e3e3e"/>
<circle cx="791.0" cy="1626.5" r="0.8" fill="#3e3e3e"/>
<circle cx="908.6" cy="1984.6" r="0.8" fill="#3c3c3c"/>
<circle cx="904.1" cy="1791.6" r="1.0" fill="#262626"/>
<circle cx="682.2" cy="2092.4" r="0.8" fill="#1d1d1d"/>
<circle cx="915.9" cy="1663.1" r="1.2" fill="#3e3e3e"/>
<circle cx="736.1" cy="1848.8" r="0.9" fill="#393939"/>
<circle cx="933.4" cy="2099.2" r="1.0" fill="#313131"/>
<circle cx="779.0" cy="2079.3" r="0.9" fill="#242424"/>
<circle cx="857.7" cy="1769.9" r="1.4" fill="#3a3a3a"/>
<circle cx="717.8" cy="1612.6" r="1.1" fill="#1f1f1f"/>
<circle cx="804.1" cy="2002.4" r="1.3" fill="#2a2a2a"/>
<circle cx="816.7" cy="2146.7" r="0.8" fill="#282828"/>
<circle cx="888.4" cy="1839.3" r="1.4" fill="#1d1d1d"/>
<circle cx="690.8" cy="1842.8" r="1.0" fill="#2a2a2a"/>
<circle cx="727.8" cy="1899.8" r="1.3" fill="#434343"/>
<circle cx="838.5" cy="1771.0" r="1.1" fill="#202020"/>
<circle cx="684.7" cy="2133.5" r="0.9" fill="#202020"/>
<circle cx="891.4" cy="1680.6" r="0.9" fill="#202020"/>
<circle cx="911.2" cy="2057.2" r="0.8" fill="#1c1c1c"/>
<circle cx="915.2" cy="1684.7" r="1.2" fill="#383838"/>
<circle cx="828.2" cy="1920.7" r="1.0" fill="#262626"/>
<circle cx="844.1" cy="1699.7" r="1.0" fill="#252525"/>
<circle cx="768.0" cy="2198.1" r="1.1" fill="#363636"/>
<circle cx="844.3" cy="1599.2" r="1.2" fill="#404040"/>
<circle cx="871.3" cy="1949.9" r="1.3" fill="#434343"/>
<circle cx="743.2" cy="1708.7" r="0.9" fill="#1a1a1a"/>
<circle cx="731.8" cy="1653.8" r="0.7" fill="#2b2b2b"/>
<circle cx="669.3" cy="1921.9" r="1.3" fill="#393939"/>
<circle cx="681.8" cy="2088.4" r="0.8" fill="#3d3d3d"/>
<circle cx="843.4" cy="1964.7" r="1.0" fill="#454545"/>
<circle cx="724.9" cy="2203.3" r="0.8" fill="#1d1d1d"/>
<circle cx="726.5" cy="1623.3" r="1.3" fill="#212121"/>
<circle cx="824.1" cy="1782.9" r="1.0" fill="#3c3c3c"/>
<circle cx="817.6" cy="1778.1" r="1.2" fill="#1f1f1f"/>
<circle cx="678.7" cy="2066.1" r="1.3" fill="#3b3b3b"/>
<circle cx="857.9" cy="2225.0" r="1.3" fill="#333333"/>
<circle cx="716.0" cy="1988.3" r="1.0" fill="#393939"/>
<circle cx="762.8" cy="1647.1" r="0.8" fill="#1f1f1f"/>
<circle cx="867.6" cy="2061.7" r="1.1" fill="#272727"/>
<circle cx="866.6" cy="1899.6" r="1.0" fill="#222222"/>
<circle cx="939.8" cy="1896.2" r="1.0" fill="#222222"/>
<circle cx="789.9" cy="1915.2" r="1.0" fill="#3a3a3a"/>
<circle cx="759.0" cy="2017.6" r="1.2" fill="#1f1f1f"/>
<circle cx="892.3" cy="1645.4" r="0.9" fill="#3e3e3e"/>
<circle cx="700.1" cy="1784.0" r="1.0" fill="#444444"/>
<circle cx="932.1" cy="1744.9" r="1.1" fill="#3e3e3e"/>
<circle cx="807.9" cy="1810.0" r="0.8" fill="#1c1c1c"/>
<circle cx="679.8" cy="1630.5" r="1.2" fill="#343434"/>
<circle cx="686.0" cy="2228.9" r="1.4" fill="#2c2c2c"/>
<circle cx="766.5" cy="2187.8" r="1.2" fill="#3b3b3b"/>
<circle cx="717.4" cy="2088.9" r="1.0" fill="#1b1b1b"/>
<circle cx="680.7" cy="1776.2" r="0.9" fill="#252525"/>
<circle cx="916.5" cy="1865.8" r="0.8" fill="#1e1e1e"/>
<circle cx="682.8" cy="1871.4" r="1.0" fill="#1d1d1d"/>
<circle cx="808.6" cy="1830.2" r="0.7" fill="#2e2e2e"/>
<circle cx="710.6" cy="1719.7" r="1.2" fill="#2c2c2c"/>
<circle cx="765.0" cy="1971.7" r="1.2" fill="#353535"/>
<circle cx="926.8" cy="2080.1" r="0.9" fill="#444444"/>
<circle cx="671.9" cy="1724.8" r="0.8" fill="#2a2a2a"/>
<circle cx="764.2" cy="1860.3" r="1.1" fill="#292929"/>
<circle cx="799.4" cy="2054.2" r="1.3" fill="#444444"/>
<circle cx="768.2" cy="1857.5" r="1.4" fill="#3f3f3f"/>
<circle cx="907.2" cy="1675.3" r="0.9" fill="#2c2c2c"/>
<circle cx="752.0" cy="1910.4" r="1.4" fill="#2a2a2a"/>
<circle cx="805.7" cy="1816.2" r="1.1" fill="#323232"/>
<circle cx="717.2" cy="1638.3" r="1.2" fill="#3e3e3e"/>
<circle cx="760.0" cy="1732.5" r="0.8" fill="#353535"/>
<circle cx="825.6" cy="2228.1" r="1.2" fill="#333333"/>
<circle cx="829.8" cy="2210.4" r="1.3" fill="#212121"/>
<circle cx="701.0" cy="1684.5" r="0.7" fill="#3f3f3f"/>
<circle cx="930.5" cy="1935.4" r="1.2" fill="#373737"/>
<circle cx="846.7" cy="1862.6" r="1.4" fill="#272727"/>
<circle cx="694.9" cy="1633.8" r="1.3" fill="#3c3c3c"/>
<circle cx="900.4" cy="2136.5" r="0.9" fill="#292929"/>
<circle cx="744.2" cy="2180.4" r="0.7" fill="#272727"/>
<circle cx="845.9" cy="2027.2" r="0.7" fill="#1e1e1e"/>
<circle cx="713.7" cy="1745.9" r="1.1" fill="#1a1a1a"/>
<circle cx="893.5" cy="1911.8" r="1.2" fill="#292929"/>
<circle cx="899.1" cy="1668.2" r="1.3" fill="#242424"/>
<circle cx="808.0" cy="1977.0" r="1.2" fill="#313131"/>
<circle cx="864.1" cy="1632.5" r="1.1" fill="#303030"/>
<circle cx="836.8" cy="1670.2" r="1.2" fill="#1d1d1d"/>
<circle cx="680.3" cy="1633.2" r="1.4" fill="#202020"/>
<circle cx="854.4" cy="1635.9" r="1.1" fill="#232323"/>
<circle cx="831.2" cy="2095.5" r="1.2" fill="#313131"/>
<circle cx="863.5" cy="1599.6" r="0.7" fill="#242424"/>
<circle cx="791.0" cy="2112.4" r="0.7" fill="#222222"/>
<circle cx="810.8" cy="1816.9" r="0.8" fill="#262626"/>
<circle cx="674.7" cy="1608.0" r="1.3" fill="#272727"/>
<circle cx="863.0" cy="1763.9" r="1.2" fill="#414141"/>
<circle cx="672.4" cy="2004.0" r="1.3" fill="#3c3c3c"/>
<circle cx="700.7" cy="2090.0" r="1.2" fill="#202020"/>
<circle cx="847.2" cy="2018.0" r="0.8" fill="#3e3e3e"/>
<circle cx="901.6" cy="1648.4" r="1.0" fill="#333333"/>
<circle cx="669.8" cy="1946.6" r="1.4" fill="#282828"/>
<circle cx="802.7" cy="2229.4" r="1.3" fill="#444444"/>
<circle cx="692.4" cy="2271.5" r="0.9" fill="#292929"/>
<circle cx="718.1" cy="2141.3" r="1.1" fill="#2e2e2e"/>
<circle cx="802.8" cy="1943.7" r="1.1" fill="#202020"/>
<circle cx="864.0" cy="1774.9" r="0.7" fill="#444444"/>
<circle cx="694.4" cy="2138.0" r="1.2" fill="#2c2c2c"/>
<circle cx="833.9" cy="1760.8" r="0.9" fill="#414141"/>
<circle cx="872.2" cy="2115.5" r="1.0" fill="#1b1b1b"/>
<circle cx="878.7" cy="2244.2" r="0.9" fill="#353535"/>
<circle cx="707.9" cy="2245.8" r="1.2" fill="#1c1c1c"/>
<circle cx="858.9" cy="2053.4" r="1.0" fill="#333333"/>
<circle cx="922.0" cy="2057.4" r="1.0" fill="#454545"/>
<circle cx="841.8" cy="2120.8" r="1.1" fill="#3b3b3b"/>
<circle cx="878.8" cy="1934.5" r="1.0" fill="#222222"/>
<circle cx="845.8" cy="2087.8" r="1.0" fill="#1c1c1c"/>
<circle cx="860.2" cy="2034.3" r="1.2" fill="#202020"/>
<circle cx="909.4" cy="2088.6" r="1.3" fill="#202020"/>
<circle cx="741.7" cy="1957.2" r="0.7" fill="#454545"/>
<circle cx="715.2" cy="1700.1" r="1.3" fill="#242424"/>
<circle cx="824.5" cy="2036.8" r="0.8" fill="#1b1b1b"/>
<circle cx="859.6" cy="2187.5" r="1.3" fill="#1e1e1e"/>
<circle cx="887.2" cy="1673.5" r="2.5" fill="#969696"/>
<circle cx="893.0" cy="1676.4" r="2.0" fill="#a0a0a0"/>
<circle cx="893.0" cy="1748.0" r="3.0" fill="#e6e6e6"/>
<circle cx="890.0" cy="1745.0" r="2.0" fill="#b4b4b4"/>
<circle cx="910.5" cy="1759.7" r="2.0" fill="#6e6e6e"/>
<circle cx="878.4" cy="1793.3" r="2.5" fill="#787878"/>
<circle cx="768.8" cy="1844.5" r="2.2" fill="#828282"/>
<circle cx="669.4" cy="1818.2" r="2.0" fill="#828282"/>
<circle cx="714.1" cy="1692.5" r="1.6" fill="#787878"/>
<circle cx="931.0" cy="1726.1" r="1.6" fill="#787878"/>
<circle cx="831.6" cy="1797.7" r="1.6" fill="#646464"/>
</g>
<text x="102.14" y="1648.00" font-size="33.6" fill="#fff" font-family="Liberation Sans, sans-serif">1)</text>
<text x="393.71" y="1638.60" font-size="33.6" fill="#fff" font-family="Liberation Sans, sans-serif">2)</text>
<text x="687.12" y="1645.00" font-size="33.6" fill="#fff" font-family="Liberation Sans, sans-serif">3)</text>
<rect x="122.6" y="2222.8" width="58" height="5" fill="#fff"/>
</svg>
</body></html>
